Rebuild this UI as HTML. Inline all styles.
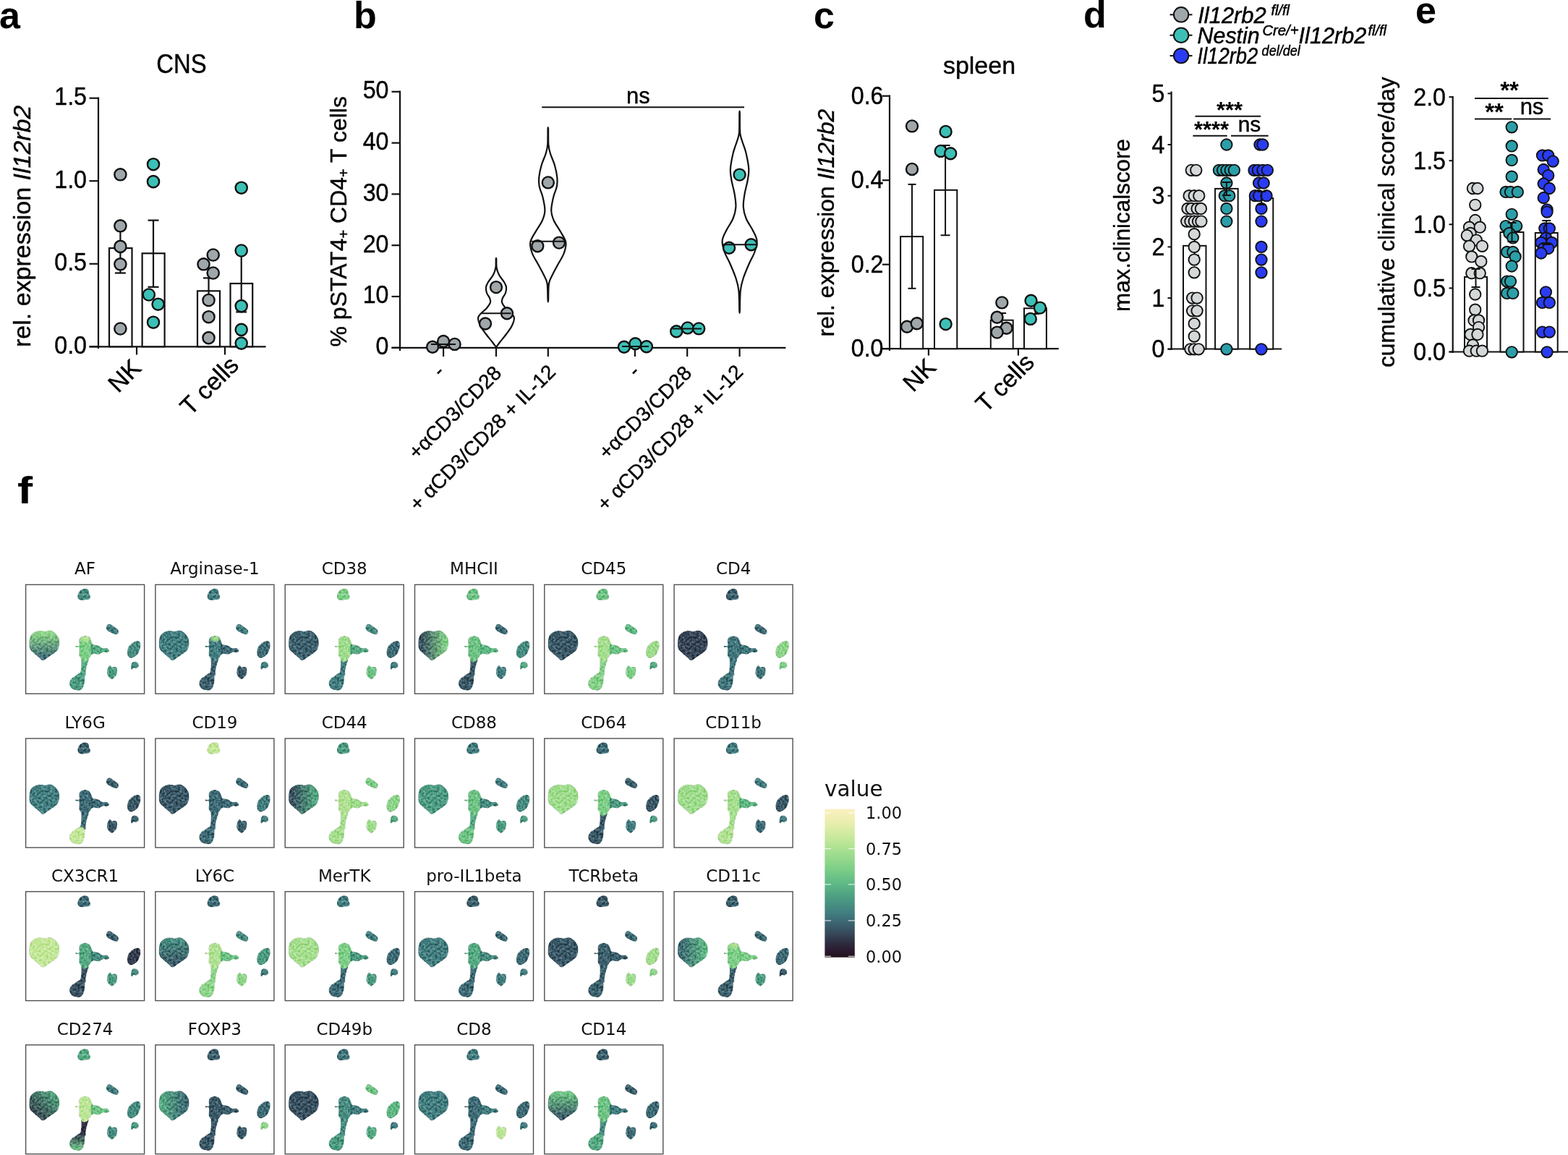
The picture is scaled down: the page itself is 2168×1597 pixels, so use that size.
<!DOCTYPE html>
<html><head><meta charset="utf-8"><title>Figure</title>
<style>html,body{margin:0;padding:0;background:#fff;overflow:hidden;width:2168px;height:1597px;} svg{display:block;}</style></head>
<body><svg width="2168" height="1597" viewBox="0 0 2168 1597"><defs><filter id="spk" x="0" y="0" width="100%" height="100%" color-interpolation-filters="sRGB"><feTurbulence type="fractalNoise" baseFrequency="0.32" numOctaves="2" seed="4" result="t"/><feColorMatrix in="t" type="matrix" values="1 0 0 0 0  1 0 0 0 0  1 0 0 0 0  0 0 0 0 1" result="g"/><feComponentTransfer in="g" result="g2"><feFuncR type="linear" slope="1.3" intercept="-0.15"/><feFuncG type="linear" slope="1.3" intercept="-0.15"/><feFuncB type="linear" slope="1.3" intercept="-0.15"/></feComponentTransfer><feBlend in="g2" in2="SourceGraphic" mode="soft-light" result="b"/><feComposite in="b" in2="SourceGraphic" operator="in"/></filter><linearGradient id="g0B" x1="0" y1="0" x2="0" y2="1"><stop offset="0.1" stop-color="#8fd68b"/><stop offset="0.9" stop-color="#3d6b76"/></linearGradient><radialGradient id="cap0"><stop offset="0.45" stop-color="#bde698" stop-opacity="1"/><stop offset="1" stop-color="#bde698" stop-opacity="0"/></radialGradient><radialGradient id="cap1"><stop offset="0.45" stop-color="#a7df90" stop-opacity="1"/><stop offset="1" stop-color="#a7df90" stop-opacity="0"/></radialGradient><linearGradient id="g3B" x1="0" y1="0" x2="1" y2="0"><stop offset="0.1" stop-color="#375060"/><stop offset="0.9" stop-color="#85d289"/></linearGradient><linearGradient id="g8B" x1="0" y1="0" x2="1" y2="0"><stop offset="0.1" stop-color="#375060"/><stop offset="0.9" stop-color="#56ab84"/></linearGradient><linearGradient id="g13B" x1="0" y1="0" x2="0" y2="1"><stop offset="0.1" stop-color="#478d82"/><stop offset="0.9" stop-color="#395867"/></linearGradient><linearGradient id="g17B" x1="0" y1="0" x2="1" y2="0"><stop offset="0.1" stop-color="#3d6b76"/><stop offset="0.9" stop-color="#5fba85"/></linearGradient><radialGradient id="cap17"><stop offset="0.45" stop-color="#b2e294" stop-opacity="1"/><stop offset="1" stop-color="#b2e294" stop-opacity="0"/></radialGradient><linearGradient id="g18B" x1="0" y1="1" x2="1" y2="0"><stop offset="0.1" stop-color="#313649"/><stop offset="0.9" stop-color="#56ab84"/></linearGradient><linearGradient id="g18Cl" x1="0" y1="0" x2="0" y2="1"><stop offset="0.1" stop-color="#354456"/><stop offset="0.9" stop-color="#6fc486"/></linearGradient><linearGradient id="g19B" x1="0" y1="0" x2="1" y2="0"><stop offset="0.1" stop-color="#56ab84"/><stop offset="0.9" stop-color="#3d6b76"/></linearGradient><linearGradient id="g22B" x1="0" y1="0" x2="0" y2="1"><stop offset="0.1" stop-color="#6fc486"/><stop offset="0.9" stop-color="#395867"/></linearGradient><linearGradient id="cbar" x1="0" y1="0" x2="0" y2="1"><stop offset="0.00" stop-color="#fcefc0"/><stop offset="0.10" stop-color="#e6eeac"/><stop offset="0.20" stop-color="#c4e89a"/><stop offset="0.30" stop-color="#a0dd8e"/><stop offset="0.40" stop-color="#7ecf88"/><stop offset="0.50" stop-color="#5fba85"/><stop offset="0.60" stop-color="#4c9c83"/><stop offset="0.70" stop-color="#427e80"/><stop offset="0.75" stop-color="#3d6b76"/><stop offset="0.80" stop-color="#395867"/><stop offset="0.85" stop-color="#354456"/><stop offset="0.90" stop-color="#2f2d41"/><stop offset="0.95" stop-color="#2a1c31"/><stop offset="1.00" stop-color="#22111d"/></linearGradient></defs>
<rect width="2168" height="1597" fill="#fff"/>
<text x="-1.0" y="39.0" font-size="52" text-anchor="start" font-family="Liberation Sans, sans-serif" font-weight="bold">a</text>
<text x="489.0" y="39.0" font-size="52" text-anchor="start" font-family="Liberation Sans, sans-serif" font-weight="bold">b</text>
<text x="1125.0" y="39.0" font-size="52" text-anchor="start" font-family="Liberation Sans, sans-serif" font-weight="bold">c</text>
<text x="1498.0" y="38.0" font-size="52" text-anchor="start" font-family="Liberation Sans, sans-serif" font-weight="bold">d</text>
<text x="1957.0" y="32.0" font-size="52" text-anchor="start" font-family="Liberation Sans, sans-serif" font-weight="bold">e</text>
<text transform="translate(24,695.5) scale(1.22,1)" font-size="52" font-family="Liberation Sans, sans-serif" font-weight="bold">f</text>
<g font-family="Liberation Sans, sans-serif">
<text transform="translate(251.0,100.6) scale(0.9,1)" font-size="36.5" text-anchor="middle" stroke="#000" stroke-width="0.4" >CNS</text>
<line x1="136.0" y1="134.5" x2="136.0" y2="482.0" stroke="#111" stroke-width="2.2"/>
<line x1="123.5" y1="135.7" x2="136.0" y2="135.7" stroke="#111" stroke-width="2.2"/>
<text transform="translate(120.0,145.1) scale(0.92,1)" font-size="35" text-anchor="end" stroke="#000" stroke-width="0.4" >1.5</text>
<line x1="123.5" y1="250.2" x2="136.0" y2="250.2" stroke="#111" stroke-width="2.2"/>
<text transform="translate(120.0,259.6) scale(0.92,1)" font-size="35" text-anchor="end" stroke="#000" stroke-width="0.4" >1.0</text>
<line x1="123.5" y1="364.8" x2="136.0" y2="364.8" stroke="#111" stroke-width="2.2"/>
<text transform="translate(120.0,374.1) scale(0.92,1)" font-size="35" text-anchor="end" stroke="#000" stroke-width="0.4" >0.5</text>
<line x1="123.5" y1="479.3" x2="136.0" y2="479.3" stroke="#111" stroke-width="2.2"/>
<text transform="translate(120.0,488.7) scale(0.92,1)" font-size="35" text-anchor="end" stroke="#000" stroke-width="0.4" >0.0</text>
<line x1="123.5" y1="479.3" x2="367.6" y2="479.3" stroke="#111" stroke-width="2.2"/>
<line x1="189.0" y1="479.3" x2="189.0" y2="490.5" stroke="#111" stroke-width="2.2"/>
<line x1="311.0" y1="479.3" x2="311.0" y2="490.5" stroke="#111" stroke-width="2.2"/>
<text transform="translate(41.5,480.0) rotate(-90)" font-size="34" text-anchor="start" stroke="#000" stroke-width="0.4" >rel. expression <tspan font-style="italic">Il12rb2</tspan></text>
<rect x="151" y="343.1" width="31.5" height="136.2" fill="#fff" stroke="#111" stroke-width="2.2"/>
<rect x="196.6" y="350.3" width="31.0" height="129.0" fill="#fff" stroke="#111" stroke-width="2.2"/>
<rect x="273" y="402.3" width="31" height="77.0" fill="#fff" stroke="#111" stroke-width="2.2"/>
<rect x="318.5" y="392" width="30.69999999999999" height="87.30000000000001" fill="#fff" stroke="#111" stroke-width="2.2"/>
<line x1="166.4" y1="308.7" x2="166.4" y2="377.5" stroke="#111" stroke-width="2.2"/>
<line x1="158.9" y1="308.7" x2="173.9" y2="308.7" stroke="#111" stroke-width="2.2"/>
<line x1="158.9" y1="377.5" x2="173.9" y2="377.5" stroke="#111" stroke-width="2.2"/>
<line x1="212.0" y1="304.6" x2="212.0" y2="396.8" stroke="#111" stroke-width="2.2"/>
<line x1="204.5" y1="304.6" x2="219.5" y2="304.6" stroke="#111" stroke-width="2.2"/>
<line x1="204.5" y1="396.8" x2="219.5" y2="396.8" stroke="#111" stroke-width="2.2"/>
<line x1="288.5" y1="384.4" x2="288.5" y2="420.0" stroke="#111" stroke-width="2.2"/>
<line x1="281.0" y1="384.4" x2="296.0" y2="384.4" stroke="#111" stroke-width="2.2"/>
<line x1="281.0" y1="420.0" x2="296.0" y2="420.0" stroke="#111" stroke-width="2.2"/>
<line x1="333.7" y1="346.5" x2="333.7" y2="431.4" stroke="#111" stroke-width="2.2"/>
<line x1="326.2" y1="346.5" x2="341.2" y2="346.5" stroke="#111" stroke-width="2.2"/>
<line x1="326.2" y1="431.4" x2="341.2" y2="431.4" stroke="#111" stroke-width="2.2"/>
<circle cx="166.4" cy="241.3" r="8.1" fill="#9fa7aa" stroke="#111" stroke-width="2.4"/>
<circle cx="166.4" cy="312.3" r="8.1" fill="#9fa7aa" stroke="#111" stroke-width="2.4"/>
<circle cx="166.4" cy="340.9" r="8.1" fill="#9fa7aa" stroke="#111" stroke-width="2.4"/>
<circle cx="166.4" cy="365.3" r="8.1" fill="#9fa7aa" stroke="#111" stroke-width="2.4"/>
<circle cx="166.4" cy="454.5" r="8.1" fill="#9fa7aa" stroke="#111" stroke-width="2.4"/>
<circle cx="212.0" cy="227.2" r="8.1" fill="#3cc0b6" stroke="#111" stroke-width="2.4"/>
<circle cx="212.0" cy="251.1" r="8.1" fill="#3cc0b6" stroke="#111" stroke-width="2.4"/>
<circle cx="205.8" cy="407.5" r="8.1" fill="#3cc0b6" stroke="#111" stroke-width="2.4"/>
<circle cx="218.6" cy="420.7" r="8.1" fill="#3cc0b6" stroke="#111" stroke-width="2.4"/>
<circle cx="212.0" cy="445.7" r="8.1" fill="#3cc0b6" stroke="#111" stroke-width="2.4"/>
<circle cx="294.7" cy="352.5" r="8.1" fill="#9fa7aa" stroke="#111" stroke-width="2.4"/>
<circle cx="281.5" cy="365.3" r="8.1" fill="#9fa7aa" stroke="#111" stroke-width="2.4"/>
<circle cx="294.7" cy="377.5" r="8.1" fill="#9fa7aa" stroke="#111" stroke-width="2.4"/>
<circle cx="288.5" cy="415.0" r="8.1" fill="#9fa7aa" stroke="#111" stroke-width="2.4"/>
<circle cx="288.5" cy="438.2" r="8.1" fill="#9fa7aa" stroke="#111" stroke-width="2.4"/>
<circle cx="288.5" cy="467.1" r="8.1" fill="#9fa7aa" stroke="#111" stroke-width="2.4"/>
<circle cx="333.7" cy="259.7" r="8.1" fill="#3cc0b6" stroke="#111" stroke-width="2.4"/>
<circle cx="333.7" cy="346.5" r="8.1" fill="#3cc0b6" stroke="#111" stroke-width="2.4"/>
<circle cx="333.7" cy="423.1" r="8.1" fill="#3cc0b6" stroke="#111" stroke-width="2.4"/>
<circle cx="333.7" cy="455.8" r="8.1" fill="#3cc0b6" stroke="#111" stroke-width="2.4"/>
<circle cx="333.7" cy="474.6" r="8.1" fill="#3cc0b6" stroke="#111" stroke-width="2.4"/>
<text transform="translate(197.0,511.0) rotate(-45)" font-size="34" text-anchor="end" stroke="#000" stroke-width="0.4" >NK</text>
<text transform="translate(332.0,507.0) rotate(-45)" font-size="34" text-anchor="end" stroke="#000" stroke-width="0.4" >T cells</text>
</g>
<g font-family="Liberation Sans, sans-serif">
<line x1="553.0" y1="125.5" x2="553.0" y2="485.0" stroke="#111" stroke-width="2.2"/>
<line x1="541.5" y1="126.8" x2="553.0" y2="126.8" stroke="#111" stroke-width="2.2"/>
<text transform="translate(537.5,136.2) scale(0.92,1)" font-size="35" text-anchor="end" stroke="#000" stroke-width="0.4" >50</text>
<line x1="541.5" y1="197.6" x2="553.0" y2="197.6" stroke="#111" stroke-width="2.2"/>
<text transform="translate(537.5,207.0) scale(0.92,1)" font-size="35" text-anchor="end" stroke="#000" stroke-width="0.4" >40</text>
<line x1="541.5" y1="268.4" x2="553.0" y2="268.4" stroke="#111" stroke-width="2.2"/>
<text transform="translate(537.5,277.8) scale(0.92,1)" font-size="35" text-anchor="end" stroke="#000" stroke-width="0.4" >30</text>
<line x1="541.5" y1="339.2" x2="553.0" y2="339.2" stroke="#111" stroke-width="2.2"/>
<text transform="translate(537.5,348.6) scale(0.92,1)" font-size="35" text-anchor="end" stroke="#000" stroke-width="0.4" >20</text>
<line x1="541.5" y1="410.0" x2="553.0" y2="410.0" stroke="#111" stroke-width="2.2"/>
<text transform="translate(537.5,419.4) scale(0.92,1)" font-size="35" text-anchor="end" stroke="#000" stroke-width="0.4" >10</text>
<line x1="541.5" y1="480.8" x2="553.0" y2="480.8" stroke="#111" stroke-width="2.2"/>
<text transform="translate(537.5,490.2) scale(0.92,1)" font-size="35" text-anchor="end" stroke="#000" stroke-width="0.4" >0</text>
<line x1="541.5" y1="480.8" x2="1086.4" y2="480.8" stroke="#111" stroke-width="2.2"/>
<line x1="613.1" y1="480.8" x2="613.1" y2="493.0" stroke="#111" stroke-width="2.2"/>
<line x1="686.0" y1="480.8" x2="686.0" y2="493.0" stroke="#111" stroke-width="2.2"/>
<line x1="757.8" y1="480.8" x2="757.8" y2="493.0" stroke="#111" stroke-width="2.2"/>
<line x1="877.9" y1="480.8" x2="877.9" y2="493.0" stroke="#111" stroke-width="2.2"/>
<line x1="950.2" y1="480.8" x2="950.2" y2="493.0" stroke="#111" stroke-width="2.2"/>
<line x1="1022.6" y1="480.8" x2="1022.6" y2="493.0" stroke="#111" stroke-width="2.2"/>
<text transform="translate(478.5,479.5) rotate(-90)" font-size="32" text-anchor="start" stroke="#000" stroke-width="0.4" >% pSTAT4<tspan font-size="20" dy="3">+</tspan><tspan dy="-3"> CD4</tspan><tspan font-size="20" dy="3">+</tspan><tspan dy="-3"> T cells</tspan></text>
<line x1="749.2" y1="148.3" x2="1029.0" y2="148.3" stroke="#111" stroke-width="2"/>
<text transform="translate(882.3,143.4)" font-size="31" text-anchor="middle" stroke="#000" stroke-width="0.4" >ns</text>
<path d="M686.3,358.3 C686.4,360.2 686.0,366.4 686.6,370.0 C687.2,373.6 688.3,376.7 690.0,380.0 C691.7,383.3 695.3,387.2 697.0,390.0 C698.7,392.8 699.7,394.5 700.0,397.0 C700.3,399.5 699.8,402.5 699.0,405.0 C698.2,407.5 695.8,409.8 695.0,412.0 C694.2,414.2 693.3,415.7 694.0,418.0 C694.7,420.3 696.2,422.7 699.0,426.0 C701.8,429.3 709.0,434.0 710.5,438.0 C712.0,442.0 709.8,446.0 708.0,450.0 C706.2,454.0 702.7,458.3 700.0,462.0 C697.3,465.7 694.3,469.1 692.0,472.0 C689.7,474.9 687.3,478.4 686.3,479.7 C685.2,481.0 686.8,481.0 685.7,479.7 C684.7,478.4 682.3,474.9 680.0,472.0 C677.7,469.1 674.7,465.7 672.0,462.0 C669.3,458.3 665.8,454.0 664.0,450.0 C662.2,446.0 660.0,442.0 661.5,438.0 C663.0,434.0 670.2,429.3 673.0,426.0 C675.8,422.7 677.3,420.3 678.0,418.0 C678.7,415.7 677.8,414.2 677.0,412.0 C676.2,409.8 673.8,407.5 673.0,405.0 C672.2,402.5 671.7,399.5 672.0,397.0 C672.3,394.5 673.3,392.8 675.0,390.0 C676.7,387.2 680.3,383.3 682.0,380.0 C683.7,376.7 684.8,373.6 685.4,370.0 C686.0,366.4 685.6,360.2 685.7,358.3 C685.9,356.4 686.1,356.4 686.3,358.3Z" fill="none" stroke="#111" stroke-width="2.2"/>
<path d="M758.1,178.8 C758.2,182.3 757.9,194.5 758.4,200.0 C758.9,205.5 759.4,207.3 760.8,212.0 C762.2,216.7 765.2,222.5 766.8,228.0 C768.4,233.5 769.8,240.0 770.3,245.0 C770.8,250.0 770.6,253.5 769.8,258.0 C769.0,262.5 766.6,266.5 765.3,272.0 C764.0,277.5 762.1,285.5 762.2,291.0 C762.3,296.5 763.7,300.2 765.8,305.0 C767.9,309.8 772.0,315.0 774.8,320.0 C777.5,325.0 781.5,330.0 782.3,335.0 C783.1,340.0 781.5,345.0 779.8,350.0 C778.0,355.0 774.5,360.0 771.8,365.0 C769.1,370.0 765.9,375.5 763.8,380.0 C761.7,384.5 760.0,386.2 759.0,392.0 C758.0,397.8 758.3,410.8 758.1,414.6 C757.8,418.4 757.8,418.4 757.5,414.6 C757.2,410.8 757.5,397.8 756.6,392.0 C755.6,386.2 753.9,384.5 751.8,380.0 C749.7,375.5 746.5,370.0 743.8,365.0 C741.1,360.0 737.5,355.0 735.8,350.0 C734.0,345.0 732.5,340.0 733.3,335.0 C734.1,330.0 738.0,325.0 740.8,320.0 C743.5,315.0 747.7,309.8 749.8,305.0 C751.9,300.2 753.3,296.5 753.4,291.0 C753.5,285.5 751.6,277.5 750.3,272.0 C749.0,266.5 746.6,262.5 745.8,258.0 C745.0,253.5 744.8,250.0 745.3,245.0 C745.8,240.0 747.2,233.5 748.8,228.0 C750.4,222.5 753.4,216.7 754.8,212.0 C756.2,207.3 756.7,205.5 757.2,200.0 C757.6,194.5 757.4,182.3 757.5,178.8 C757.6,175.3 757.9,175.3 758.1,178.8Z" fill="none" stroke="#111" stroke-width="2.2"/>
<path d="M1022.9,156.8 C1023.0,161.2 1022.7,176.6 1023.2,183.0 C1023.7,189.4 1024.7,190.2 1026.1,195.0 C1027.5,199.8 1030.1,205.5 1031.6,212.0 C1033.1,218.5 1035.0,227.7 1035.3,234.0 C1035.6,240.3 1034.5,244.3 1033.6,250.0 C1032.6,255.7 1030.6,262.0 1029.6,268.0 C1028.6,274.0 1027.5,280.3 1027.8,286.0 C1028.1,291.7 1029.5,296.7 1031.6,302.0 C1033.7,307.3 1038.1,312.9 1040.6,318.0 C1043.1,323.1 1046.0,327.5 1046.5,332.5 C1047.0,337.5 1045.4,342.6 1043.6,348.0 C1041.8,353.4 1038.3,358.8 1035.6,365.0 C1032.9,371.2 1029.6,378.8 1027.6,385.0 C1025.6,391.2 1024.6,394.6 1023.8,402.0 C1023.0,409.4 1023.1,424.8 1022.9,429.4 C1022.6,434.0 1022.6,434.0 1022.3,429.4 C1022.1,424.8 1022.2,409.4 1021.4,402.0 C1020.6,394.6 1019.6,391.2 1017.6,385.0 C1015.6,378.8 1012.3,371.2 1009.6,365.0 C1006.9,358.8 1003.4,353.4 1001.6,348.0 C999.8,342.6 998.2,337.5 998.7,332.5 C999.2,327.5 1002.1,323.1 1004.6,318.0 C1007.1,312.9 1011.5,307.3 1013.6,302.0 C1015.7,296.7 1017.1,291.7 1017.4,286.0 C1017.7,280.3 1016.6,274.0 1015.6,268.0 C1014.6,262.0 1012.6,255.7 1011.6,250.0 C1010.6,244.3 1009.6,240.3 1009.9,234.0 C1010.2,227.7 1012.1,218.5 1013.6,212.0 C1015.1,205.5 1017.7,199.8 1019.1,195.0 C1020.5,190.2 1021.5,189.4 1022.0,183.0 C1022.5,176.6 1022.2,161.2 1022.3,156.8 C1022.5,152.4 1022.8,152.4 1022.9,156.8Z" fill="none" stroke="#111" stroke-width="2.2"/>
<circle cx="598.1" cy="479.7" r="8.0" fill="#9fa7aa" stroke="#111" stroke-width="2.4"/>
<circle cx="613.1" cy="472.0" r="8.0" fill="#9fa7aa" stroke="#111" stroke-width="2.4"/>
<circle cx="628.6" cy="475.9" r="8.0" fill="#9fa7aa" stroke="#111" stroke-width="2.4"/>
<line x1="596.0" y1="475.9" x2="630.0" y2="475.9" stroke="#111" stroke-width="2"/>
<circle cx="686.0" cy="397.1" r="8.0" fill="#9fa7aa" stroke="#111" stroke-width="2.4"/>
<circle cx="701.0" cy="433.2" r="8.0" fill="#9fa7aa" stroke="#111" stroke-width="2.4"/>
<circle cx="671.0" cy="447.5" r="8.0" fill="#9fa7aa" stroke="#111" stroke-width="2.4"/>
<line x1="665.3" y1="433.2" x2="706.6" y2="433.2" stroke="#111" stroke-width="2"/>
<circle cx="757.8" cy="252.4" r="8.0" fill="#9fa7aa" stroke="#111" stroke-width="2.4"/>
<circle cx="743.3" cy="340.2" r="8.0" fill="#9fa7aa" stroke="#111" stroke-width="2.4"/>
<circle cx="773.0" cy="335.6" r="8.0" fill="#9fa7aa" stroke="#111" stroke-width="2.4"/>
<line x1="735.0" y1="333.8" x2="781.5" y2="333.8" stroke="#111" stroke-width="2"/>
<circle cx="862.9" cy="479.7" r="8.0" fill="#3cc0b6" stroke="#111" stroke-width="2.4"/>
<circle cx="878.4" cy="475.3" r="8.0" fill="#3cc0b6" stroke="#111" stroke-width="2.4"/>
<circle cx="893.9" cy="479.2" r="8.0" fill="#3cc0b6" stroke="#111" stroke-width="2.4"/>
<line x1="860.0" y1="479.0" x2="897.0" y2="479.0" stroke="#111" stroke-width="2"/>
<circle cx="935.2" cy="458.3" r="8.0" fill="#3cc0b6" stroke="#111" stroke-width="2.4"/>
<circle cx="950.7" cy="453.4" r="8.0" fill="#3cc0b6" stroke="#111" stroke-width="2.4"/>
<circle cx="966.2" cy="454.4" r="8.0" fill="#3cc0b6" stroke="#111" stroke-width="2.4"/>
<line x1="930.0" y1="454.4" x2="970.0" y2="454.4" stroke="#111" stroke-width="2"/>
<circle cx="1022.6" cy="241.6" r="8.0" fill="#3cc0b6" stroke="#111" stroke-width="2.4"/>
<circle cx="1008.1" cy="342.8" r="8.0" fill="#3cc0b6" stroke="#111" stroke-width="2.4"/>
<circle cx="1038.6" cy="338.2" r="8.0" fill="#3cc0b6" stroke="#111" stroke-width="2.4"/>
<line x1="999.8" y1="338.2" x2="1046.3" y2="338.2" stroke="#111" stroke-width="2"/>
<text transform="translate(616.0,516.0) rotate(-45)" font-size="28" text-anchor="end" stroke="#000" stroke-width="0.4" >-</text>
<text transform="translate(695.0,517.5) rotate(-45)" font-size="28" text-anchor="end" stroke="#000" stroke-width="0.4" >+αCD3/CD28</text>
<text transform="translate(769.7,516.0) rotate(-45)" font-size="28" text-anchor="end" stroke="#000" stroke-width="0.4" >+ αCD3/CD28 + IL-12</text>
<text transform="translate(886.0,516.0) rotate(-45)" font-size="28" text-anchor="end" stroke="#000" stroke-width="0.4" >-</text>
<text transform="translate(958.0,517.5) rotate(-45)" font-size="28" text-anchor="end" stroke="#000" stroke-width="0.4" >+αCD3/CD28</text>
<text transform="translate(1029.0,516.0) rotate(-45)" font-size="28" text-anchor="end" stroke="#000" stroke-width="0.4" >+ αCD3/CD28 + IL-12</text>
</g>
<g font-family="Liberation Sans, sans-serif">
<text transform="translate(1354.0,101.5)" font-size="34" text-anchor="middle" stroke="#000" stroke-width="0.4" >spleen</text>
<line x1="1230.0" y1="131.5" x2="1230.0" y2="485.0" stroke="#111" stroke-width="2.2"/>
<line x1="1220.0" y1="132.7" x2="1230.0" y2="132.7" stroke="#111" stroke-width="2.2"/>
<text transform="translate(1221.5,143.7) scale(0.92,1)" font-size="35" text-anchor="end" stroke="#000" stroke-width="0.4" >0.6</text>
<line x1="1220.0" y1="249.2" x2="1230.0" y2="249.2" stroke="#111" stroke-width="2.2"/>
<text transform="translate(1221.5,260.2) scale(0.92,1)" font-size="35" text-anchor="end" stroke="#000" stroke-width="0.4" >0.4</text>
<line x1="1220.0" y1="365.7" x2="1230.0" y2="365.7" stroke="#111" stroke-width="2.2"/>
<text transform="translate(1221.5,376.7) scale(0.92,1)" font-size="35" text-anchor="end" stroke="#000" stroke-width="0.4" >0.2</text>
<line x1="1220.0" y1="482.2" x2="1230.0" y2="482.2" stroke="#111" stroke-width="2.2"/>
<text transform="translate(1221.5,493.2) scale(0.92,1)" font-size="35" text-anchor="end" stroke="#000" stroke-width="0.4" >0.0</text>
<line x1="1220.0" y1="482.2" x2="1463.8" y2="482.2" stroke="#111" stroke-width="2.2"/>
<line x1="1283.9" y1="482.2" x2="1283.9" y2="491.6" stroke="#111" stroke-width="2.2"/>
<line x1="1407.9" y1="482.2" x2="1407.9" y2="491.6" stroke="#111" stroke-width="2.2"/>
<text transform="translate(1153.0,465.5) rotate(-90)" font-size="32" text-anchor="start" stroke="#000" stroke-width="0.4" >rel. expression <tspan font-style="italic">Il12rb2</tspan></text>
<rect x="1245.1" y="327.1" width="31.100000000000136" height="155.09999999999997" fill="#fff" stroke="#111" stroke-width="2"/>
<rect x="1292" y="262.8" width="31.299999999999955" height="219.39999999999998" fill="#fff" stroke="#111" stroke-width="2"/>
<rect x="1369.8" y="442.7" width="30.90000000000009" height="39.5" fill="#fff" stroke="#111" stroke-width="2"/>
<rect x="1416" y="426.3" width="30.90000000000009" height="55.89999999999998" fill="#fff" stroke="#111" stroke-width="2"/>
<line x1="1261.0" y1="254.9" x2="1261.0" y2="398.8" stroke="#111" stroke-width="2"/>
<line x1="1255.5" y1="254.9" x2="1266.5" y2="254.9" stroke="#111" stroke-width="2"/>
<line x1="1255.5" y1="398.8" x2="1266.5" y2="398.8" stroke="#111" stroke-width="2"/>
<line x1="1307.1" y1="201.0" x2="1307.1" y2="325.3" stroke="#111" stroke-width="2"/>
<line x1="1300.6" y1="201.0" x2="1313.6" y2="201.0" stroke="#111" stroke-width="2"/>
<line x1="1300.6" y1="325.3" x2="1313.6" y2="325.3" stroke="#111" stroke-width="2"/>
<line x1="1385.6" y1="433.0" x2="1385.6" y2="452.0" stroke="#111" stroke-width="2"/>
<line x1="1380.1" y1="433.0" x2="1391.1" y2="433.0" stroke="#111" stroke-width="2"/>
<line x1="1380.1" y1="452.0" x2="1391.1" y2="452.0" stroke="#111" stroke-width="2"/>
<line x1="1431.5" y1="418.0" x2="1431.5" y2="434.0" stroke="#111" stroke-width="2"/>
<line x1="1426.0" y1="418.0" x2="1437.0" y2="418.0" stroke="#111" stroke-width="2"/>
<line x1="1426.0" y1="434.0" x2="1437.0" y2="434.0" stroke="#111" stroke-width="2"/>
<circle cx="1261.0" cy="174.4" r="8.0" fill="#9fa7aa" stroke="#111" stroke-width="2.4"/>
<circle cx="1261.0" cy="233.9" r="8.0" fill="#9fa7aa" stroke="#111" stroke-width="2.4"/>
<circle cx="1254.1" cy="451.7" r="8.0" fill="#9fa7aa" stroke="#111" stroke-width="2.4"/>
<circle cx="1267.7" cy="447.2" r="8.0" fill="#9fa7aa" stroke="#111" stroke-width="2.4"/>
<circle cx="1307.6" cy="181.9" r="8.0" fill="#3cc0b6" stroke="#111" stroke-width="2.4"/>
<circle cx="1300.7" cy="208.9" r="8.0" fill="#3cc0b6" stroke="#111" stroke-width="2.4"/>
<circle cx="1314.2" cy="212.3" r="8.0" fill="#3cc0b6" stroke="#111" stroke-width="2.4"/>
<circle cx="1307.6" cy="448.1" r="8.0" fill="#3cc0b6" stroke="#111" stroke-width="2.4"/>
<circle cx="1385.3" cy="418.4" r="8.0" fill="#9fa7aa" stroke="#111" stroke-width="2.4"/>
<circle cx="1378.6" cy="438.7" r="8.0" fill="#9fa7aa" stroke="#111" stroke-width="2.4"/>
<circle cx="1391.6" cy="453.8" r="8.0" fill="#9fa7aa" stroke="#111" stroke-width="2.4"/>
<circle cx="1378.6" cy="459.6" r="8.0" fill="#9fa7aa" stroke="#111" stroke-width="2.4"/>
<circle cx="1425.5" cy="415.7" r="8.0" fill="#3cc0b6" stroke="#111" stroke-width="2.4"/>
<circle cx="1437.9" cy="425.6" r="8.0" fill="#3cc0b6" stroke="#111" stroke-width="2.4"/>
<circle cx="1424.8" cy="440.9" r="8.0" fill="#3cc0b6" stroke="#111" stroke-width="2.4"/>
<text transform="translate(1296.0,510.0) rotate(-45)" font-size="34" text-anchor="end" stroke="#000" stroke-width="0.4" >NK</text>
<text transform="translate(1432.0,503.0) rotate(-45)" font-size="34" text-anchor="end" stroke="#000" stroke-width="0.4" >T cells</text>
</g>
<g font-family="Liberation Sans, sans-serif">
<line x1="1617.5" y1="20.3" x2="1648.5" y2="20.3" stroke="#111" stroke-width="2"/>
<circle cx="1633.1" cy="20.3" r="10.2" fill="#9fa7aa" stroke="#111" stroke-width="2"/>
<line x1="1617.5" y1="48.7" x2="1648.5" y2="48.7" stroke="#111" stroke-width="2"/>
<circle cx="1633.1" cy="48.7" r="10.2" fill="#3cc0b6" stroke="#111" stroke-width="2"/>
<line x1="1617.5" y1="77.1" x2="1648.5" y2="77.1" stroke="#111" stroke-width="2"/>
<circle cx="1633.1" cy="77.1" r="10.2" fill="#2a3cf2" stroke="#111" stroke-width="2"/>
<text x="1656.3" y="32.0" font-size="32" font-style="italic" textLength="94.4" lengthAdjust="spacingAndGlyphs" stroke="#000" stroke-width="0.5">Il12rb2</text>
<text x="1757.5" y="20.5" font-size="20.5" font-style="italic" textLength="25.5" lengthAdjust="spacingAndGlyphs" stroke="#000" stroke-width="0.5">fl/fl</text>
<text x="1655.6" y="60.1" font-size="32" font-style="italic" textLength="86.0" lengthAdjust="spacingAndGlyphs" stroke="#000" stroke-width="0.5">Nestin</text>
<text x="1745.4" y="48.6" font-size="20.5" font-style="italic" textLength="50.2" lengthAdjust="spacingAndGlyphs" stroke="#000" stroke-width="0.5">Cre/+</text>
<text x="1795.6" y="60.1" font-size="32" font-style="italic" textLength="93.6" lengthAdjust="spacingAndGlyphs" stroke="#000" stroke-width="0.5">Il12rb2</text>
<text x="1891.5" y="48.6" font-size="20.5" font-style="italic" textLength="25.5" lengthAdjust="spacingAndGlyphs" stroke="#000" stroke-width="0.5">fl/fl</text>
<text x="1655.6" y="87.5" font-size="32" font-style="italic" textLength="83.7" lengthAdjust="spacingAndGlyphs" stroke="#000" stroke-width="0.5">Il12rb2</text>
<text x="1744.6" y="76.5" font-size="20.5" font-style="italic" textLength="53.3" lengthAdjust="spacingAndGlyphs" stroke="#000" stroke-width="0.5">del/del</text>
</g>
<g font-family="Liberation Sans, sans-serif">
<line x1="1619.6" y1="126.5" x2="1619.6" y2="484.0" stroke="#111" stroke-width="2.2"/>
<line x1="1614.5" y1="482.8" x2="1619.6" y2="482.8" stroke="#111" stroke-width="2"/>
<text transform="translate(1610.5,494.3) scale(0.92,1)" font-size="35" text-anchor="end" stroke="#000" stroke-width="0.4" >0</text>
<line x1="1614.5" y1="412.1" x2="1619.6" y2="412.1" stroke="#111" stroke-width="2"/>
<text transform="translate(1610.5,423.6) scale(0.92,1)" font-size="35" text-anchor="end" stroke="#000" stroke-width="0.4" >1</text>
<line x1="1614.5" y1="341.4" x2="1619.6" y2="341.4" stroke="#111" stroke-width="2"/>
<text transform="translate(1610.5,352.9) scale(0.92,1)" font-size="35" text-anchor="end" stroke="#000" stroke-width="0.4" >2</text>
<line x1="1614.5" y1="270.7" x2="1619.6" y2="270.7" stroke="#111" stroke-width="2"/>
<text transform="translate(1610.5,282.2) scale(0.92,1)" font-size="35" text-anchor="end" stroke="#000" stroke-width="0.4" >3</text>
<line x1="1614.5" y1="200.0" x2="1619.6" y2="200.0" stroke="#111" stroke-width="2"/>
<text transform="translate(1610.5,211.5) scale(0.92,1)" font-size="35" text-anchor="end" stroke="#000" stroke-width="0.4" >4</text>
<line x1="1614.5" y1="129.3" x2="1619.6" y2="129.3" stroke="#111" stroke-width="2"/>
<text transform="translate(1610.5,140.8) scale(0.92,1)" font-size="35" text-anchor="end" stroke="#000" stroke-width="0.4" >5</text>
<line x1="1614.5" y1="482.6" x2="1772.2" y2="482.6" stroke="#111" stroke-width="2"/>
<text transform="translate(1561.8,431.0) rotate(-90)" font-size="31.4" text-anchor="start" stroke="#000" stroke-width="0.4" >max.clinicalscore</text>
<rect x="1636" y="339.8" width="31.5" height="142.8" fill="#fff" stroke="#111" stroke-width="2"/>
<rect x="1680.1" y="260.9" width="31.600000000000136" height="221.70000000000005" fill="#fff" stroke="#111" stroke-width="2"/>
<rect x="1728.2" y="274.1" width="32.09999999999991" height="208.5" fill="#fff" stroke="#111" stroke-width="2"/>
<line x1="1651.8" y1="327.0" x2="1651.8" y2="353.0" stroke="#111" stroke-width="2"/>
<line x1="1645.8" y1="327.0" x2="1657.8" y2="327.0" stroke="#111" stroke-width="2"/>
<line x1="1645.8" y1="353.0" x2="1657.8" y2="353.0" stroke="#111" stroke-width="2"/>
<circle cx="1647.3" cy="235.3" r="7.7" fill="#d4d8d9" stroke="#111" stroke-width="1.9"/>
<circle cx="1653.8" cy="235.3" r="7.7" fill="#d4d8d9" stroke="#111" stroke-width="1.9"/>
<circle cx="1644.1" cy="270.7" r="7.7" fill="#d4d8d9" stroke="#111" stroke-width="1.9"/>
<circle cx="1651.2" cy="270.7" r="7.7" fill="#d4d8d9" stroke="#111" stroke-width="1.9"/>
<circle cx="1657.8" cy="270.7" r="7.7" fill="#d4d8d9" stroke="#111" stroke-width="1.9"/>
<circle cx="1642.0" cy="288.4" r="7.7" fill="#d4d8d9" stroke="#111" stroke-width="1.9"/>
<circle cx="1647.3" cy="288.4" r="7.7" fill="#d4d8d9" stroke="#111" stroke-width="1.9"/>
<circle cx="1655.1" cy="288.4" r="7.7" fill="#d4d8d9" stroke="#111" stroke-width="1.9"/>
<circle cx="1660.4" cy="288.4" r="7.7" fill="#d4d8d9" stroke="#111" stroke-width="1.9"/>
<circle cx="1640.7" cy="306.1" r="7.7" fill="#d4d8d9" stroke="#111" stroke-width="1.9"/>
<circle cx="1645.9" cy="306.1" r="7.7" fill="#d4d8d9" stroke="#111" stroke-width="1.9"/>
<circle cx="1651.2" cy="306.1" r="7.7" fill="#d4d8d9" stroke="#111" stroke-width="1.9"/>
<circle cx="1656.5" cy="306.1" r="7.7" fill="#d4d8d9" stroke="#111" stroke-width="1.9"/>
<circle cx="1660.9" cy="306.1" r="7.7" fill="#d4d8d9" stroke="#111" stroke-width="1.9"/>
<circle cx="1651.2" cy="323.7" r="7.7" fill="#d4d8d9" stroke="#111" stroke-width="1.9"/>
<circle cx="1651.2" cy="341.4" r="7.7" fill="#d4d8d9" stroke="#111" stroke-width="1.9"/>
<circle cx="1651.2" cy="359.1" r="7.7" fill="#d4d8d9" stroke="#111" stroke-width="1.9"/>
<circle cx="1651.2" cy="376.8" r="7.7" fill="#d4d8d9" stroke="#111" stroke-width="1.9"/>
<circle cx="1648.6" cy="412.1" r="7.7" fill="#d4d8d9" stroke="#111" stroke-width="1.9"/>
<circle cx="1655.1" cy="412.1" r="7.7" fill="#d4d8d9" stroke="#111" stroke-width="1.9"/>
<circle cx="1648.6" cy="429.8" r="7.7" fill="#d4d8d9" stroke="#111" stroke-width="1.9"/>
<circle cx="1655.1" cy="429.8" r="7.7" fill="#d4d8d9" stroke="#111" stroke-width="1.9"/>
<circle cx="1651.2" cy="447.4" r="7.7" fill="#d4d8d9" stroke="#111" stroke-width="1.9"/>
<circle cx="1651.2" cy="465.1" r="7.7" fill="#d4d8d9" stroke="#111" stroke-width="1.9"/>
<circle cx="1645.9" cy="482.8" r="7.7" fill="#d4d8d9" stroke="#111" stroke-width="1.9"/>
<circle cx="1651.2" cy="482.8" r="7.7" fill="#d4d8d9" stroke="#111" stroke-width="1.9"/>
<circle cx="1657.2" cy="482.8" r="7.7" fill="#d4d8d9" stroke="#111" stroke-width="1.9"/>
<circle cx="1695.9" cy="200.0" r="7.7" fill="#2b9fa8" stroke="#111" stroke-width="1.9"/>
<circle cx="1685.4" cy="235.3" r="7.7" fill="#2b9fa8" stroke="#111" stroke-width="1.9"/>
<circle cx="1690.6" cy="235.3" r="7.7" fill="#2b9fa8" stroke="#111" stroke-width="1.9"/>
<circle cx="1695.9" cy="235.3" r="7.7" fill="#2b9fa8" stroke="#111" stroke-width="1.9"/>
<circle cx="1701.2" cy="235.3" r="7.7" fill="#2b9fa8" stroke="#111" stroke-width="1.9"/>
<circle cx="1706.4" cy="235.3" r="7.7" fill="#2b9fa8" stroke="#111" stroke-width="1.9"/>
<circle cx="1695.9" cy="253.0" r="7.7" fill="#2b9fa8" stroke="#111" stroke-width="1.9"/>
<circle cx="1693.3" cy="270.7" r="7.7" fill="#2b9fa8" stroke="#111" stroke-width="1.9"/>
<circle cx="1699.8" cy="270.7" r="7.7" fill="#2b9fa8" stroke="#111" stroke-width="1.9"/>
<circle cx="1695.9" cy="288.4" r="7.7" fill="#2b9fa8" stroke="#111" stroke-width="1.9"/>
<circle cx="1695.9" cy="306.1" r="7.7" fill="#2b9fa8" stroke="#111" stroke-width="1.9"/>
<circle cx="1695.9" cy="482.8" r="7.7" fill="#2b9fa8" stroke="#111" stroke-width="1.9"/>
<circle cx="1741.9" cy="200.0" r="7.7" fill="#2a3cf2" stroke="#111" stroke-width="1.9"/>
<circle cx="1745.9" cy="200.0" r="7.7" fill="#2a3cf2" stroke="#111" stroke-width="1.9"/>
<circle cx="1734.0" cy="235.3" r="7.7" fill="#2a3cf2" stroke="#111" stroke-width="1.9"/>
<circle cx="1739.3" cy="235.3" r="7.7" fill="#2a3cf2" stroke="#111" stroke-width="1.9"/>
<circle cx="1745.9" cy="235.3" r="7.7" fill="#2a3cf2" stroke="#111" stroke-width="1.9"/>
<circle cx="1752.4" cy="235.3" r="7.7" fill="#2a3cf2" stroke="#111" stroke-width="1.9"/>
<circle cx="1740.6" cy="253.0" r="7.7" fill="#2a3cf2" stroke="#111" stroke-width="1.9"/>
<circle cx="1747.2" cy="253.0" r="7.7" fill="#2a3cf2" stroke="#111" stroke-width="1.9"/>
<circle cx="1735.3" cy="270.7" r="7.7" fill="#2a3cf2" stroke="#111" stroke-width="1.9"/>
<circle cx="1740.6" cy="270.7" r="7.7" fill="#2a3cf2" stroke="#111" stroke-width="1.9"/>
<circle cx="1751.1" cy="270.7" r="7.7" fill="#2a3cf2" stroke="#111" stroke-width="1.9"/>
<circle cx="1744.0" cy="288.4" r="7.7" fill="#2a3cf2" stroke="#111" stroke-width="1.9"/>
<circle cx="1744.0" cy="306.1" r="7.7" fill="#2a3cf2" stroke="#111" stroke-width="1.9"/>
<circle cx="1744.0" cy="341.4" r="7.7" fill="#2a3cf2" stroke="#111" stroke-width="1.9"/>
<circle cx="1744.0" cy="359.1" r="7.7" fill="#2a3cf2" stroke="#111" stroke-width="1.9"/>
<circle cx="1744.0" cy="376.8" r="7.7" fill="#2a3cf2" stroke="#111" stroke-width="1.9"/>
<circle cx="1744.0" cy="482.8" r="7.7" fill="#2a3cf2" stroke="#111" stroke-width="1.9"/>
<line x1="1695.9" y1="252.0" x2="1695.9" y2="270.0" stroke="#111" stroke-width="2"/>
<line x1="1689.9" y1="252.0" x2="1701.9" y2="252.0" stroke="#111" stroke-width="2"/>
<line x1="1689.9" y1="270.0" x2="1701.9" y2="270.0" stroke="#111" stroke-width="2"/>
<line x1="1744.3" y1="265.0" x2="1744.3" y2="283.0" stroke="#111" stroke-width="2"/>
<line x1="1738.3" y1="265.0" x2="1750.3" y2="265.0" stroke="#111" stroke-width="2"/>
<line x1="1738.3" y1="283.0" x2="1750.3" y2="283.0" stroke="#111" stroke-width="2"/>
<text transform="translate(1700.0,163.0)" font-size="31" text-anchor="middle" font-weight="bold">***</text>
<line x1="1652.5" y1="160.8" x2="1743.2" y2="160.8" stroke="#111" stroke-width="2"/>
<text transform="translate(1675.0,190.0)" font-size="31" text-anchor="middle" font-weight="bold">****</text>
<text transform="translate(1727.5,181.7)" font-size="30" text-anchor="middle" stroke="#000" stroke-width="0.4" >ns</text>
<line x1="1649.4" y1="187.7" x2="1696.7" y2="187.7" stroke="#111" stroke-width="2"/>
<line x1="1702.0" y1="187.7" x2="1753.7" y2="187.7" stroke="#111" stroke-width="2"/>
</g>
<g font-family="Liberation Sans, sans-serif">
<line x1="2008.7" y1="133.0" x2="2008.7" y2="488.0" stroke="#111" stroke-width="2.2"/>
<line x1="2003.5" y1="134.1" x2="2008.7" y2="134.1" stroke="#111" stroke-width="2"/>
<text transform="translate(1999.0,145.8) scale(0.92,1)" font-size="35" text-anchor="end" stroke="#000" stroke-width="0.4" >2.0</text>
<line x1="2003.5" y1="222.2" x2="2008.7" y2="222.2" stroke="#111" stroke-width="2"/>
<text transform="translate(1999.0,233.9) scale(0.92,1)" font-size="35" text-anchor="end" stroke="#000" stroke-width="0.4" >1.5</text>
<line x1="2003.5" y1="310.3" x2="2008.7" y2="310.3" stroke="#111" stroke-width="2"/>
<text transform="translate(1999.0,322.0) scale(0.92,1)" font-size="35" text-anchor="end" stroke="#000" stroke-width="0.4" >1.0</text>
<line x1="2003.5" y1="398.4" x2="2008.7" y2="398.4" stroke="#111" stroke-width="2"/>
<text transform="translate(1999.0,410.1) scale(0.92,1)" font-size="35" text-anchor="end" stroke="#000" stroke-width="0.4" >0.5</text>
<line x1="2003.5" y1="486.5" x2="2008.7" y2="486.5" stroke="#111" stroke-width="2"/>
<text transform="translate(1999.0,498.2) scale(0.92,1)" font-size="35" text-anchor="end" stroke="#000" stroke-width="0.4" >0.0</text>
<line x1="2003.5" y1="486.5" x2="2168.0" y2="486.5" stroke="#111" stroke-width="2"/>
<text transform="translate(1927.5,508.0) rotate(-90)" font-size="31.7" text-anchor="start" stroke="#000" stroke-width="0.4" >cumulative clinical score/day</text>
<rect x="2025" y="382.9" width="31" height="103.60000000000002" fill="#fff" stroke="#111" stroke-width="2"/>
<rect x="2074.5" y="321" width="32.0" height="165.5" fill="#fff" stroke="#111" stroke-width="2"/>
<rect x="2122.8" y="322" width="30.899999999999636" height="164.5" fill="#fff" stroke="#111" stroke-width="2"/>
<circle cx="2036.4" cy="260.5" r="7.7" fill="#d4d8d9" stroke="#111" stroke-width="1.9"/>
<circle cx="2042.9" cy="260.5" r="7.7" fill="#d4d8d9" stroke="#111" stroke-width="1.9"/>
<circle cx="2039.7" cy="283.3" r="7.7" fill="#d4d8d9" stroke="#111" stroke-width="1.9"/>
<circle cx="2039.7" cy="304.5" r="7.7" fill="#d4d8d9" stroke="#111" stroke-width="1.9"/>
<circle cx="2031.5" cy="314.2" r="7.7" fill="#d4d8d9" stroke="#111" stroke-width="1.9"/>
<circle cx="2046.2" cy="314.2" r="7.7" fill="#d4d8d9" stroke="#111" stroke-width="1.9"/>
<circle cx="2033.1" cy="322.4" r="7.7" fill="#d4d8d9" stroke="#111" stroke-width="1.9"/>
<circle cx="2028.3" cy="325.6" r="7.7" fill="#d4d8d9" stroke="#111" stroke-width="1.9"/>
<circle cx="2041.3" cy="332.1" r="7.7" fill="#d4d8d9" stroke="#111" stroke-width="1.9"/>
<circle cx="2031.5" cy="340.3" r="7.7" fill="#d4d8d9" stroke="#111" stroke-width="1.9"/>
<circle cx="2049.4" cy="340.3" r="7.7" fill="#d4d8d9" stroke="#111" stroke-width="1.9"/>
<circle cx="2034.8" cy="354.9" r="7.7" fill="#d4d8d9" stroke="#111" stroke-width="1.9"/>
<circle cx="2047.8" cy="361.4" r="7.7" fill="#d4d8d9" stroke="#111" stroke-width="1.9"/>
<circle cx="2034.8" cy="377.7" r="7.7" fill="#d4d8d9" stroke="#111" stroke-width="1.9"/>
<circle cx="2046.2" cy="377.7" r="7.7" fill="#d4d8d9" stroke="#111" stroke-width="1.9"/>
<circle cx="2039.7" cy="407.0" r="7.7" fill="#d4d8d9" stroke="#111" stroke-width="1.9"/>
<circle cx="2039.7" cy="428.2" r="7.7" fill="#d4d8d9" stroke="#111" stroke-width="1.9"/>
<circle cx="2038.0" cy="442.9" r="7.7" fill="#d4d8d9" stroke="#111" stroke-width="1.9"/>
<circle cx="2044.5" cy="442.9" r="7.7" fill="#d4d8d9" stroke="#111" stroke-width="1.9"/>
<circle cx="2044.5" cy="452.6" r="7.7" fill="#d4d8d9" stroke="#111" stroke-width="1.9"/>
<circle cx="2033.1" cy="462.4" r="7.7" fill="#d4d8d9" stroke="#111" stroke-width="1.9"/>
<circle cx="2042.9" cy="462.4" r="7.7" fill="#d4d8d9" stroke="#111" stroke-width="1.9"/>
<circle cx="2036.4" cy="477.0" r="7.7" fill="#d4d8d9" stroke="#111" stroke-width="1.9"/>
<circle cx="2031.5" cy="485.2" r="7.7" fill="#d4d8d9" stroke="#111" stroke-width="1.9"/>
<circle cx="2041.3" cy="485.2" r="7.7" fill="#d4d8d9" stroke="#111" stroke-width="1.9"/>
<circle cx="2049.4" cy="485.2" r="7.7" fill="#d4d8d9" stroke="#111" stroke-width="1.9"/>
<circle cx="2090.2" cy="175.8" r="7.7" fill="#2b9fa8" stroke="#111" stroke-width="1.9"/>
<circle cx="2090.2" cy="201.9" r="7.7" fill="#2b9fa8" stroke="#111" stroke-width="1.9"/>
<circle cx="2090.2" cy="221.4" r="7.7" fill="#2b9fa8" stroke="#111" stroke-width="1.9"/>
<circle cx="2090.2" cy="244.2" r="7.7" fill="#2b9fa8" stroke="#111" stroke-width="1.9"/>
<circle cx="2082.0" cy="265.4" r="7.7" fill="#2b9fa8" stroke="#111" stroke-width="1.9"/>
<circle cx="2088.5" cy="265.4" r="7.7" fill="#2b9fa8" stroke="#111" stroke-width="1.9"/>
<circle cx="2098.3" cy="265.4" r="7.7" fill="#2b9fa8" stroke="#111" stroke-width="1.9"/>
<circle cx="2090.2" cy="296.3" r="7.7" fill="#2b9fa8" stroke="#111" stroke-width="1.9"/>
<circle cx="2082.0" cy="312.6" r="7.7" fill="#2b9fa8" stroke="#111" stroke-width="1.9"/>
<circle cx="2096.7" cy="312.6" r="7.7" fill="#2b9fa8" stroke="#111" stroke-width="1.9"/>
<circle cx="2086.9" cy="322.4" r="7.7" fill="#2b9fa8" stroke="#111" stroke-width="1.9"/>
<circle cx="2091.8" cy="328.9" r="7.7" fill="#2b9fa8" stroke="#111" stroke-width="1.9"/>
<circle cx="2083.6" cy="348.4" r="7.7" fill="#2b9fa8" stroke="#111" stroke-width="1.9"/>
<circle cx="2091.8" cy="348.4" r="7.7" fill="#2b9fa8" stroke="#111" stroke-width="1.9"/>
<circle cx="2095.1" cy="354.9" r="7.7" fill="#2b9fa8" stroke="#111" stroke-width="1.9"/>
<circle cx="2090.2" cy="368.0" r="7.7" fill="#2b9fa8" stroke="#111" stroke-width="1.9"/>
<circle cx="2083.6" cy="389.1" r="7.7" fill="#2b9fa8" stroke="#111" stroke-width="1.9"/>
<circle cx="2088.5" cy="389.1" r="7.7" fill="#2b9fa8" stroke="#111" stroke-width="1.9"/>
<circle cx="2083.6" cy="405.4" r="7.7" fill="#2b9fa8" stroke="#111" stroke-width="1.9"/>
<circle cx="2091.8" cy="405.4" r="7.7" fill="#2b9fa8" stroke="#111" stroke-width="1.9"/>
<circle cx="2090.2" cy="486.8" r="7.7" fill="#2b9fa8" stroke="#111" stroke-width="1.9"/>
<circle cx="2132.5" cy="214.9" r="7.7" fill="#2a3cf2" stroke="#111" stroke-width="1.9"/>
<circle cx="2140.7" cy="214.9" r="7.7" fill="#2a3cf2" stroke="#111" stroke-width="1.9"/>
<circle cx="2147.2" cy="223.1" r="7.7" fill="#2a3cf2" stroke="#111" stroke-width="1.9"/>
<circle cx="2134.2" cy="234.5" r="7.7" fill="#2a3cf2" stroke="#111" stroke-width="1.9"/>
<circle cx="2140.7" cy="242.6" r="7.7" fill="#2a3cf2" stroke="#111" stroke-width="1.9"/>
<circle cx="2134.2" cy="254.0" r="7.7" fill="#2a3cf2" stroke="#111" stroke-width="1.9"/>
<circle cx="2142.3" cy="260.5" r="7.7" fill="#2a3cf2" stroke="#111" stroke-width="1.9"/>
<circle cx="2134.2" cy="273.5" r="7.7" fill="#2a3cf2" stroke="#111" stroke-width="1.9"/>
<circle cx="2139.0" cy="289.8" r="7.7" fill="#2a3cf2" stroke="#111" stroke-width="1.9"/>
<circle cx="2139.0" cy="293.1" r="7.7" fill="#2a3cf2" stroke="#111" stroke-width="1.9"/>
<circle cx="2135.8" cy="315.9" r="7.7" fill="#2a3cf2" stroke="#111" stroke-width="1.9"/>
<circle cx="2142.3" cy="315.9" r="7.7" fill="#2a3cf2" stroke="#111" stroke-width="1.9"/>
<circle cx="2137.4" cy="328.9" r="7.7" fill="#2a3cf2" stroke="#111" stroke-width="1.9"/>
<circle cx="2130.9" cy="335.4" r="7.7" fill="#2a3cf2" stroke="#111" stroke-width="1.9"/>
<circle cx="2145.6" cy="335.4" r="7.7" fill="#2a3cf2" stroke="#111" stroke-width="1.9"/>
<circle cx="2134.2" cy="343.5" r="7.7" fill="#2a3cf2" stroke="#111" stroke-width="1.9"/>
<circle cx="2140.7" cy="343.5" r="7.7" fill="#2a3cf2" stroke="#111" stroke-width="1.9"/>
<circle cx="2130.9" cy="350.0" r="7.7" fill="#2a3cf2" stroke="#111" stroke-width="1.9"/>
<circle cx="2137.4" cy="403.8" r="7.7" fill="#2a3cf2" stroke="#111" stroke-width="1.9"/>
<circle cx="2132.5" cy="418.4" r="7.7" fill="#2a3cf2" stroke="#111" stroke-width="1.9"/>
<circle cx="2142.3" cy="418.4" r="7.7" fill="#2a3cf2" stroke="#111" stroke-width="1.9"/>
<circle cx="2132.5" cy="459.1" r="7.7" fill="#2a3cf2" stroke="#111" stroke-width="1.9"/>
<circle cx="2142.3" cy="459.1" r="7.7" fill="#2a3cf2" stroke="#111" stroke-width="1.9"/>
<circle cx="2139.0" cy="486.8" r="7.7" fill="#2a3cf2" stroke="#111" stroke-width="1.9"/>
<line x1="2040.5" y1="372.0" x2="2040.5" y2="397.0" stroke="#111" stroke-width="2"/>
<line x1="2034.5" y1="372.0" x2="2046.5" y2="372.0" stroke="#111" stroke-width="2"/>
<line x1="2034.5" y1="397.0" x2="2046.5" y2="397.0" stroke="#111" stroke-width="2"/>
<line x1="2090.5" y1="308.0" x2="2090.5" y2="334.0" stroke="#111" stroke-width="2"/>
<line x1="2084.5" y1="308.0" x2="2096.5" y2="308.0" stroke="#111" stroke-width="2"/>
<line x1="2084.5" y1="334.0" x2="2096.5" y2="334.0" stroke="#111" stroke-width="2"/>
<line x1="2138.2" y1="305.0" x2="2138.2" y2="338.0" stroke="#111" stroke-width="2"/>
<line x1="2132.2" y1="305.0" x2="2144.2" y2="305.0" stroke="#111" stroke-width="2"/>
<line x1="2132.2" y1="338.0" x2="2144.2" y2="338.0" stroke="#111" stroke-width="2"/>
<text transform="translate(2087.0,136.0)" font-size="33" text-anchor="middle" font-weight="bold">**</text>
<line x1="2039.0" y1="136.1" x2="2140.7" y2="136.1" stroke="#111" stroke-width="2"/>
<text transform="translate(2066.0,166.0)" font-size="33" text-anchor="middle" font-weight="bold">**</text>
<text transform="translate(2118.0,158.0)" font-size="31" text-anchor="middle" stroke="#000" stroke-width="0.4" >ns</text>
<line x1="2039.0" y1="164.5" x2="2090.2" y2="164.5" stroke="#111" stroke-width="2"/>
<line x1="2092.5" y1="164.5" x2="2144.0" y2="164.5" stroke="#111" stroke-width="2"/>
</g>
<g font-family="DejaVu Sans, sans-serif">
<text x="117.6" y="794.1" font-size="23" text-anchor="middle" fill="#111">AF</text>
<g transform="translate(35.6,808.4)">
<g filter="url(#spk)">
<path d="M71.8,16.5 C71.8,15.1 72.1,13.0 72.8,11.5 C73.6,10.0 75.0,8.5 76.4,7.5 C77.7,6.5 79.4,5.7 80.9,5.5 C82.4,5.3 84.3,5.8 85.4,6.5 C86.5,7.2 87.0,8.4 87.4,9.5 C87.8,10.6 87.5,11.9 87.9,13.0 C88.2,14.2 89.4,15.4 89.4,16.5 C89.4,17.7 89.0,19.3 87.9,20.0 C86.7,20.8 84.1,20.8 82.4,21.0 C80.6,21.3 78.9,21.7 77.4,21.5 C75.9,21.4 74.3,20.9 73.3,20.0 C72.4,19.2 71.9,18.0 71.8,16.5Z" fill="#478d82"/>
<path d="M5.0,80.0 C5.1,77.4 5.2,74.7 6.0,72.5 C6.8,70.3 8.2,68.5 10.0,67.0 C11.8,65.5 14.8,64.3 17.0,63.8 C19.2,63.3 21.4,63.8 23.0,64.0 C24.6,64.2 25.2,64.9 26.3,64.9 C27.4,64.9 28.1,64.1 29.5,63.9 C30.9,63.7 33.1,63.0 35.0,63.6 C36.9,64.2 39.2,65.8 41.0,67.5 C42.8,69.2 44.6,71.6 45.5,74.0 C46.4,76.4 46.7,79.4 46.5,82.0 C46.3,84.6 45.9,87.2 44.5,89.5 C43.1,91.8 40.3,93.7 38.0,95.5 C35.7,97.3 32.9,99.0 30.5,100.5 C28.1,102.0 25.9,105.0 23.7,104.8 C21.4,104.6 19.3,101.4 17.0,99.5 C14.7,97.6 11.9,95.4 10.0,93.5 C8.1,91.6 6.3,90.2 5.5,88.0 C4.7,85.8 4.9,82.6 5.0,80.0Z" fill="url(#g0B)"/>
<path d="M111.4,58.6 C111.7,57.4 112.5,55.8 113.4,55.1 C114.3,54.4 115.8,54.4 116.9,54.6 C118.0,54.9 118.9,55.9 119.9,56.6 C121.0,57.4 122.3,58.3 123.4,59.1 C124.6,60.0 126.1,60.5 127.0,61.6 C127.8,62.7 128.5,64.5 128.5,65.6 C128.4,66.8 127.5,68.2 126.5,68.6 C125.5,69.1 123.8,68.8 122.4,68.4 C121.1,68.1 119.8,67.3 118.4,66.6 C117.1,66.0 115.5,65.4 114.4,64.6 C113.3,63.9 112.4,63.1 111.9,62.1 C111.4,61.1 111.2,59.8 111.4,58.6Z" fill="#427e80"/>
<path d="M140.5,91.7 C140.8,89.8 141.3,87.5 142.5,85.7 C143.7,83.8 145.7,82.0 147.5,80.7 C149.3,79.4 151.8,78.0 153.5,77.9 C155.3,77.7 157.2,78.4 158.0,79.7 C158.9,81.0 158.8,83.5 158.5,85.7 C158.3,87.8 157.4,90.7 156.5,92.7 C155.6,94.7 154.5,96.3 153.0,97.7 C151.5,99.1 149.2,100.7 147.5,101.2 C145.8,101.7 144.1,101.5 143.0,100.7 C141.9,99.9 141.1,98.2 140.7,96.7 C140.3,95.2 140.2,93.5 140.5,91.7Z" fill="#478d82"/>
<path d="M112.6,118.7 C112.9,117.1 113.7,114.9 114.4,113.7 C115.1,112.6 116.2,111.6 116.9,111.7 C117.7,111.8 118.1,113.9 118.9,114.2 C119.8,114.6 120.9,113.6 121.9,113.7 C123.0,113.8 124.7,113.7 125.5,114.7 C126.2,115.7 126.5,118.1 126.5,119.7 C126.5,121.4 126.2,123.2 125.5,124.7 C124.7,126.3 123.0,127.8 121.9,128.8 C120.9,129.7 120.1,130.7 118.9,130.6 C117.8,130.4 116.0,128.9 114.9,127.8 C113.9,126.6 113.0,125.3 112.6,123.7 C112.2,122.2 112.3,120.4 112.6,118.7Z" fill="#4c9c83"/>
<path d="M145.7,111.7 C145.9,110.4 146.3,109.1 147.0,108.2 C147.7,107.3 148.9,106.7 150.0,106.5 C151.1,106.3 152.5,106.5 153.5,107.2 C154.5,107.9 155.7,109.6 156.0,110.7 C156.3,111.9 156.1,113.4 155.5,114.2 C154.9,115.1 153.6,115.6 152.5,115.7 C151.4,115.9 149.9,115.0 149.0,115.2 C148.1,115.5 147.6,117.1 147.0,117.2 C146.4,117.4 145.7,117.2 145.5,116.2 C145.3,115.3 145.4,113.1 145.7,111.7Z" fill="#478d82"/>
<path d="M77.4,103.7 C78.9,103.2 85.1,102.7 86.4,103.7 C87.7,104.7 85.6,107.9 85.2,109.7 C84.8,111.6 84.3,113.1 83.9,114.7 C83.5,116.4 83.1,117.9 82.9,119.7 C82.6,121.6 83.8,124.7 82.6,125.8 C81.4,126.8 76.7,126.9 75.7,125.8 C74.6,124.6 75.9,120.9 76.1,118.7 C76.3,116.6 76.7,114.7 76.9,112.7 C77.0,110.7 76.8,108.2 76.9,106.7 C76.9,105.2 75.8,104.2 77.4,103.7Z" fill="#56ab84"/>
<path d="M73.3,122.9 C74.9,122.2 76.1,121.8 77.4,122.2 C78.7,122.7 80.5,124.3 81.2,125.8 C81.9,127.2 81.6,128.9 81.6,130.8 C81.5,132.6 81.5,134.8 81.0,136.8 C80.5,138.8 79.6,141.2 78.6,142.8 C77.5,144.3 76.1,145.5 74.5,146.0 C73.0,146.4 71.0,145.8 69.3,145.5 C67.6,145.2 65.7,144.9 64.3,144.0 C63.0,143.1 61.9,141.5 61.3,140.0 C60.7,138.5 60.3,136.6 60.6,135.0 C60.9,133.3 61.9,131.4 63.1,130.0 C64.4,128.5 66.4,127.6 68.1,126.5 C69.8,125.3 71.8,123.6 73.3,122.9Z" fill="#4c9c83"/>
<path d="M69.3,84.7 C70.1,84.3 73.1,85.2 73.8,84.2 C74.6,83.2 73.7,80.3 73.8,78.7 C74.0,77.0 74.1,75.3 74.8,74.1 C75.6,73.0 76.9,72.1 78.4,71.6 C79.8,71.1 81.8,70.9 83.4,71.1 C85.0,71.4 86.7,72.2 87.9,73.1 C89.0,74.1 89.7,75.2 90.4,76.7 C91.0,78.1 91.5,80.0 91.9,81.7 C92.3,83.3 92.8,84.8 92.9,86.7 C93.0,88.5 92.7,91.0 92.4,92.7 C92.1,94.4 91.5,95.4 90.9,96.7 C90.2,98.0 89.2,99.4 88.4,100.7 C87.5,102.0 86.7,103.8 85.9,104.7 C85.0,105.6 84.6,106.0 83.4,106.2 C82.1,106.5 79.5,106.8 78.4,106.2 C77.2,105.6 76.9,103.8 76.4,102.7 C75.8,101.6 75.3,100.7 74.8,99.7 C74.4,98.7 74.0,98.8 73.8,96.7 C73.7,94.6 74.6,88.9 73.8,87.2 C73.1,85.5 70.1,86.8 69.3,86.4 C68.6,86.0 68.6,85.0 69.3,84.7Z" fill="#7ecf88"/>
<path d="M90.4,83.7 C91.0,81.6 93.1,83.1 94.4,83.2 C95.7,83.2 97.1,83.5 98.4,83.9 C99.6,84.2 100.9,84.6 101.9,85.2 C102.9,85.7 103.5,86.7 104.4,87.2 C105.3,87.7 106.2,88.1 107.4,88.2 C108.6,88.3 110.3,87.4 111.4,87.7 C112.6,87.9 113.8,88.9 114.4,89.7 C115.0,90.4 115.5,91.5 115.1,92.2 C114.8,92.9 113.5,93.7 112.4,93.9 C111.3,94.1 109.8,93.3 108.4,93.4 C107.1,93.5 105.6,93.9 104.4,94.4 C103.2,94.9 102.6,96.1 101.4,96.4 C100.2,96.6 98.7,96.0 97.4,95.9 C96.1,95.8 94.6,95.7 93.4,95.7 C92.2,95.7 90.9,97.7 90.4,95.7 C89.9,93.7 89.7,85.8 90.4,83.7Z" fill="#56ab84"/>
<ellipse cx="82.6" cy="74.8" rx="8" ry="5" fill="url(#cap0)"/>
</g>
<rect x="0" y="0" width="164" height="150.8" fill="none" stroke="#505050" stroke-width="1.4"/>
</g>
<text x="296.9" y="794.1" font-size="23" text-anchor="middle" fill="#111">Arginase-1</text>
<g transform="translate(214.9,808.4)">
<g filter="url(#spk)">
<path d="M71.8,16.5 C71.8,15.1 72.1,13.0 72.8,11.5 C73.6,10.0 75.0,8.5 76.4,7.5 C77.7,6.5 79.4,5.7 80.9,5.5 C82.4,5.3 84.3,5.8 85.4,6.5 C86.5,7.2 87.0,8.4 87.4,9.5 C87.8,10.6 87.5,11.9 87.9,13.0 C88.2,14.2 89.4,15.4 89.4,16.5 C89.4,17.7 89.0,19.3 87.9,20.0 C86.7,20.8 84.1,20.8 82.4,21.0 C80.6,21.3 78.9,21.7 77.4,21.5 C75.9,21.4 74.3,20.9 73.3,20.0 C72.4,19.2 71.9,18.0 71.8,16.5Z" fill="#427e80"/>
<path d="M5.0,80.0 C5.1,77.4 5.2,74.7 6.0,72.5 C6.8,70.3 8.2,68.5 10.0,67.0 C11.8,65.5 14.8,64.3 17.0,63.8 C19.2,63.3 21.4,63.8 23.0,64.0 C24.6,64.2 25.2,64.9 26.3,64.9 C27.4,64.9 28.1,64.1 29.5,63.9 C30.9,63.7 33.1,63.0 35.0,63.6 C36.9,64.2 39.2,65.8 41.0,67.5 C42.8,69.2 44.6,71.6 45.5,74.0 C46.4,76.4 46.7,79.4 46.5,82.0 C46.3,84.6 45.9,87.2 44.5,89.5 C43.1,91.8 40.3,93.7 38.0,95.5 C35.7,97.3 32.9,99.0 30.5,100.5 C28.1,102.0 25.9,105.0 23.7,104.8 C21.4,104.6 19.3,101.4 17.0,99.5 C14.7,97.6 11.9,95.4 10.0,93.5 C8.1,91.6 6.3,90.2 5.5,88.0 C4.7,85.8 4.9,82.6 5.0,80.0Z" fill="#427e80"/>
<path d="M111.4,58.6 C111.7,57.4 112.5,55.8 113.4,55.1 C114.3,54.4 115.8,54.4 116.9,54.6 C118.0,54.9 118.9,55.9 119.9,56.6 C121.0,57.4 122.3,58.3 123.4,59.1 C124.6,60.0 126.1,60.5 127.0,61.6 C127.8,62.7 128.5,64.5 128.5,65.6 C128.4,66.8 127.5,68.2 126.5,68.6 C125.5,69.1 123.8,68.8 122.4,68.4 C121.1,68.1 119.8,67.3 118.4,66.6 C117.1,66.0 115.5,65.4 114.4,64.6 C113.3,63.9 112.4,63.1 111.9,62.1 C111.4,61.1 111.2,59.8 111.4,58.6Z" fill="#427e80"/>
<path d="M140.5,91.7 C140.8,89.8 141.3,87.5 142.5,85.7 C143.7,83.8 145.7,82.0 147.5,80.7 C149.3,79.4 151.8,78.0 153.5,77.9 C155.3,77.7 157.2,78.4 158.0,79.7 C158.9,81.0 158.8,83.5 158.5,85.7 C158.3,87.8 157.4,90.7 156.5,92.7 C155.6,94.7 154.5,96.3 153.0,97.7 C151.5,99.1 149.2,100.7 147.5,101.2 C145.8,101.7 144.1,101.5 143.0,100.7 C141.9,99.9 141.1,98.2 140.7,96.7 C140.3,95.2 140.2,93.5 140.5,91.7Z" fill="#3d6b76"/>
<path d="M112.6,118.7 C112.9,117.1 113.7,114.9 114.4,113.7 C115.1,112.6 116.2,111.6 116.9,111.7 C117.7,111.8 118.1,113.9 118.9,114.2 C119.8,114.6 120.9,113.6 121.9,113.7 C123.0,113.8 124.7,113.7 125.5,114.7 C126.2,115.7 126.5,118.1 126.5,119.7 C126.5,121.4 126.2,123.2 125.5,124.7 C124.7,126.3 123.0,127.8 121.9,128.8 C120.9,129.7 120.1,130.7 118.9,130.6 C117.8,130.4 116.0,128.9 114.9,127.8 C113.9,126.6 113.0,125.3 112.6,123.7 C112.2,122.2 112.3,120.4 112.6,118.7Z" fill="#395867"/>
<path d="M145.7,111.7 C145.9,110.4 146.3,109.1 147.0,108.2 C147.7,107.3 148.9,106.7 150.0,106.5 C151.1,106.3 152.5,106.5 153.5,107.2 C154.5,107.9 155.7,109.6 156.0,110.7 C156.3,111.9 156.1,113.4 155.5,114.2 C154.9,115.1 153.6,115.6 152.5,115.7 C151.4,115.9 149.9,115.0 149.0,115.2 C148.1,115.5 147.6,117.1 147.0,117.2 C146.4,117.4 145.7,117.2 145.5,116.2 C145.3,115.3 145.4,113.1 145.7,111.7Z" fill="#427e80"/>
<path d="M77.4,103.7 C78.9,103.2 85.1,102.7 86.4,103.7 C87.7,104.7 85.6,107.9 85.2,109.7 C84.8,111.6 84.3,113.1 83.9,114.7 C83.5,116.4 83.1,117.9 82.9,119.7 C82.6,121.6 83.8,124.7 82.6,125.8 C81.4,126.8 76.7,126.9 75.7,125.8 C74.6,124.6 75.9,120.9 76.1,118.7 C76.3,116.6 76.7,114.7 76.9,112.7 C77.0,110.7 76.8,108.2 76.9,106.7 C76.9,105.2 75.8,104.2 77.4,103.7Z" fill="#3b606d"/>
<path d="M73.3,122.9 C74.9,122.2 76.1,121.8 77.4,122.2 C78.7,122.7 80.5,124.3 81.2,125.8 C81.9,127.2 81.6,128.9 81.6,130.8 C81.5,132.6 81.5,134.8 81.0,136.8 C80.5,138.8 79.6,141.2 78.6,142.8 C77.5,144.3 76.1,145.5 74.5,146.0 C73.0,146.4 71.0,145.8 69.3,145.5 C67.6,145.2 65.7,144.9 64.3,144.0 C63.0,143.1 61.9,141.5 61.3,140.0 C60.7,138.5 60.3,136.6 60.6,135.0 C60.9,133.3 61.9,131.4 63.1,130.0 C64.4,128.5 66.4,127.6 68.1,126.5 C69.8,125.3 71.8,123.6 73.3,122.9Z" fill="#3b606d"/>
<path d="M69.3,84.7 C70.1,84.3 73.1,85.2 73.8,84.2 C74.6,83.2 73.7,80.3 73.8,78.7 C74.0,77.0 74.1,75.3 74.8,74.1 C75.6,73.0 76.9,72.1 78.4,71.6 C79.8,71.1 81.8,70.9 83.4,71.1 C85.0,71.4 86.7,72.2 87.9,73.1 C89.0,74.1 89.7,75.2 90.4,76.7 C91.0,78.1 91.5,80.0 91.9,81.7 C92.3,83.3 92.8,84.8 92.9,86.7 C93.0,88.5 92.7,91.0 92.4,92.7 C92.1,94.4 91.5,95.4 90.9,96.7 C90.2,98.0 89.2,99.4 88.4,100.7 C87.5,102.0 86.7,103.8 85.9,104.7 C85.0,105.6 84.6,106.0 83.4,106.2 C82.1,106.5 79.5,106.8 78.4,106.2 C77.2,105.6 76.9,103.8 76.4,102.7 C75.8,101.6 75.3,100.7 74.8,99.7 C74.4,98.7 74.0,98.8 73.8,96.7 C73.7,94.6 74.6,88.9 73.8,87.2 C73.1,85.5 70.1,86.8 69.3,86.4 C68.6,86.0 68.6,85.0 69.3,84.7Z" fill="#427e80"/>
<path d="M90.4,83.7 C91.0,81.6 93.1,83.1 94.4,83.2 C95.7,83.2 97.1,83.5 98.4,83.9 C99.6,84.2 100.9,84.6 101.9,85.2 C102.9,85.7 103.5,86.7 104.4,87.2 C105.3,87.7 106.2,88.1 107.4,88.2 C108.6,88.3 110.3,87.4 111.4,87.7 C112.6,87.9 113.8,88.9 114.4,89.7 C115.0,90.4 115.5,91.5 115.1,92.2 C114.8,92.9 113.5,93.7 112.4,93.9 C111.3,94.1 109.8,93.3 108.4,93.4 C107.1,93.5 105.6,93.9 104.4,94.4 C103.2,94.9 102.6,96.1 101.4,96.4 C100.2,96.6 98.7,96.0 97.4,95.9 C96.1,95.8 94.6,95.7 93.4,95.7 C92.2,95.7 90.9,97.7 90.4,95.7 C89.9,93.7 89.7,85.8 90.4,83.7Z" fill="#3d6b76"/>
<ellipse cx="82.6" cy="74.8" rx="8" ry="5" fill="url(#cap1)"/>
</g>
<rect x="0" y="0" width="164" height="150.8" fill="none" stroke="#505050" stroke-width="1.4"/>
</g>
<text x="476.2" y="794.1" font-size="23" text-anchor="middle" fill="#111">CD38</text>
<g transform="translate(394.2,808.4)">
<g filter="url(#spk)">
<path d="M71.8,16.5 C71.8,15.1 72.1,13.0 72.8,11.5 C73.6,10.0 75.0,8.5 76.4,7.5 C77.7,6.5 79.4,5.7 80.9,5.5 C82.4,5.3 84.3,5.8 85.4,6.5 C86.5,7.2 87.0,8.4 87.4,9.5 C87.8,10.6 87.5,11.9 87.9,13.0 C88.2,14.2 89.4,15.4 89.4,16.5 C89.4,17.7 89.0,19.3 87.9,20.0 C86.7,20.8 84.1,20.8 82.4,21.0 C80.6,21.3 78.9,21.7 77.4,21.5 C75.9,21.4 74.3,20.9 73.3,20.0 C72.4,19.2 71.9,18.0 71.8,16.5Z" fill="#7ecf88"/>
<path d="M5.0,80.0 C5.1,77.4 5.2,74.7 6.0,72.5 C6.8,70.3 8.2,68.5 10.0,67.0 C11.8,65.5 14.8,64.3 17.0,63.8 C19.2,63.3 21.4,63.8 23.0,64.0 C24.6,64.2 25.2,64.9 26.3,64.9 C27.4,64.9 28.1,64.1 29.5,63.9 C30.9,63.7 33.1,63.0 35.0,63.6 C36.9,64.2 39.2,65.8 41.0,67.5 C42.8,69.2 44.6,71.6 45.5,74.0 C46.4,76.4 46.7,79.4 46.5,82.0 C46.3,84.6 45.9,87.2 44.5,89.5 C43.1,91.8 40.3,93.7 38.0,95.5 C35.7,97.3 32.9,99.0 30.5,100.5 C28.1,102.0 25.9,105.0 23.7,104.8 C21.4,104.6 19.3,101.4 17.0,99.5 C14.7,97.6 11.9,95.4 10.0,93.5 C8.1,91.6 6.3,90.2 5.5,88.0 C4.7,85.8 4.9,82.6 5.0,80.0Z" fill="#3b606d"/>
<path d="M111.4,58.6 C111.7,57.4 112.5,55.8 113.4,55.1 C114.3,54.4 115.8,54.4 116.9,54.6 C118.0,54.9 118.9,55.9 119.9,56.6 C121.0,57.4 122.3,58.3 123.4,59.1 C124.6,60.0 126.1,60.5 127.0,61.6 C127.8,62.7 128.5,64.5 128.5,65.6 C128.4,66.8 127.5,68.2 126.5,68.6 C125.5,69.1 123.8,68.8 122.4,68.4 C121.1,68.1 119.8,67.3 118.4,66.6 C117.1,66.0 115.5,65.4 114.4,64.6 C113.3,63.9 112.4,63.1 111.9,62.1 C111.4,61.1 111.2,59.8 111.4,58.6Z" fill="#478d82"/>
<path d="M140.5,91.7 C140.8,89.8 141.3,87.5 142.5,85.7 C143.7,83.8 145.7,82.0 147.5,80.7 C149.3,79.4 151.8,78.0 153.5,77.9 C155.3,77.7 157.2,78.4 158.0,79.7 C158.9,81.0 158.8,83.5 158.5,85.7 C158.3,87.8 157.4,90.7 156.5,92.7 C155.6,94.7 154.5,96.3 153.0,97.7 C151.5,99.1 149.2,100.7 147.5,101.2 C145.8,101.7 144.1,101.5 143.0,100.7 C141.9,99.9 141.1,98.2 140.7,96.7 C140.3,95.2 140.2,93.5 140.5,91.7Z" fill="#3d6b76"/>
<path d="M112.6,118.7 C112.9,117.1 113.7,114.9 114.4,113.7 C115.1,112.6 116.2,111.6 116.9,111.7 C117.7,111.8 118.1,113.9 118.9,114.2 C119.8,114.6 120.9,113.6 121.9,113.7 C123.0,113.8 124.7,113.7 125.5,114.7 C126.2,115.7 126.5,118.1 126.5,119.7 C126.5,121.4 126.2,123.2 125.5,124.7 C124.7,126.3 123.0,127.8 121.9,128.8 C120.9,129.7 120.1,130.7 118.9,130.6 C117.8,130.4 116.0,128.9 114.9,127.8 C113.9,126.6 113.0,125.3 112.6,123.7 C112.2,122.2 112.3,120.4 112.6,118.7Z" fill="#6fc486"/>
<path d="M145.7,111.7 C145.9,110.4 146.3,109.1 147.0,108.2 C147.7,107.3 148.9,106.7 150.0,106.5 C151.1,106.3 152.5,106.5 153.5,107.2 C154.5,107.9 155.7,109.6 156.0,110.7 C156.3,111.9 156.1,113.4 155.5,114.2 C154.9,115.1 153.6,115.6 152.5,115.7 C151.4,115.9 149.9,115.0 149.0,115.2 C148.1,115.5 147.6,117.1 147.0,117.2 C146.4,117.4 145.7,117.2 145.5,116.2 C145.3,115.3 145.4,113.1 145.7,111.7Z" fill="#427e80"/>
<path d="M77.4,103.7 C78.9,103.2 85.1,102.7 86.4,103.7 C87.7,104.7 85.6,107.9 85.2,109.7 C84.8,111.6 84.3,113.1 83.9,114.7 C83.5,116.4 83.1,117.9 82.9,119.7 C82.6,121.6 83.8,124.7 82.6,125.8 C81.4,126.8 76.7,126.9 75.7,125.8 C74.6,124.6 75.9,120.9 76.1,118.7 C76.3,116.6 76.7,114.7 76.9,112.7 C77.0,110.7 76.8,108.2 76.9,106.7 C76.9,105.2 75.8,104.2 77.4,103.7Z" fill="#427e80"/>
<path d="M73.3,122.9 C74.9,122.2 76.1,121.8 77.4,122.2 C78.7,122.7 80.5,124.3 81.2,125.8 C81.9,127.2 81.6,128.9 81.6,130.8 C81.5,132.6 81.5,134.8 81.0,136.8 C80.5,138.8 79.6,141.2 78.6,142.8 C77.5,144.3 76.1,145.5 74.5,146.0 C73.0,146.4 71.0,145.8 69.3,145.5 C67.6,145.2 65.7,144.9 64.3,144.0 C63.0,143.1 61.9,141.5 61.3,140.0 C60.7,138.5 60.3,136.6 60.6,135.0 C60.9,133.3 61.9,131.4 63.1,130.0 C64.4,128.5 66.4,127.6 68.1,126.5 C69.8,125.3 71.8,123.6 73.3,122.9Z" fill="#427e80"/>
<path d="M69.3,84.7 C70.1,84.3 73.1,85.2 73.8,84.2 C74.6,83.2 73.7,80.3 73.8,78.7 C74.0,77.0 74.1,75.3 74.8,74.1 C75.6,73.0 76.9,72.1 78.4,71.6 C79.8,71.1 81.8,70.9 83.4,71.1 C85.0,71.4 86.7,72.2 87.9,73.1 C89.0,74.1 89.7,75.2 90.4,76.7 C91.0,78.1 91.5,80.0 91.9,81.7 C92.3,83.3 92.8,84.8 92.9,86.7 C93.0,88.5 92.7,91.0 92.4,92.7 C92.1,94.4 91.5,95.4 90.9,96.7 C90.2,98.0 89.2,99.4 88.4,100.7 C87.5,102.0 86.7,103.8 85.9,104.7 C85.0,105.6 84.6,106.0 83.4,106.2 C82.1,106.5 79.5,106.8 78.4,106.2 C77.2,105.6 76.9,103.8 76.4,102.7 C75.8,101.6 75.3,100.7 74.8,99.7 C74.4,98.7 74.0,98.8 73.8,96.7 C73.7,94.6 74.6,88.9 73.8,87.2 C73.1,85.5 70.1,86.8 69.3,86.4 C68.6,86.0 68.6,85.0 69.3,84.7Z" fill="#a0dd8e"/>
<path d="M90.4,83.7 C91.0,81.6 93.1,83.1 94.4,83.2 C95.7,83.2 97.1,83.5 98.4,83.9 C99.6,84.2 100.9,84.6 101.9,85.2 C102.9,85.7 103.5,86.7 104.4,87.2 C105.3,87.7 106.2,88.1 107.4,88.2 C108.6,88.3 110.3,87.4 111.4,87.7 C112.6,87.9 113.8,88.9 114.4,89.7 C115.0,90.4 115.5,91.5 115.1,92.2 C114.8,92.9 113.5,93.7 112.4,93.9 C111.3,94.1 109.8,93.3 108.4,93.4 C107.1,93.5 105.6,93.9 104.4,94.4 C103.2,94.9 102.6,96.1 101.4,96.4 C100.2,96.6 98.7,96.0 97.4,95.9 C96.1,95.8 94.6,95.7 93.4,95.7 C92.2,95.7 90.9,97.7 90.4,95.7 C89.9,93.7 89.7,85.8 90.4,83.7Z" fill="#56ab84"/>
</g>
<rect x="0" y="0" width="164" height="150.8" fill="none" stroke="#505050" stroke-width="1.4"/>
</g>
<text x="655.5" y="794.1" font-size="23" text-anchor="middle" fill="#111">MHCII</text>
<g transform="translate(573.5,808.4)">
<g filter="url(#spk)">
<path d="M71.8,16.5 C71.8,15.1 72.1,13.0 72.8,11.5 C73.6,10.0 75.0,8.5 76.4,7.5 C77.7,6.5 79.4,5.7 80.9,5.5 C82.4,5.3 84.3,5.8 85.4,6.5 C86.5,7.2 87.0,8.4 87.4,9.5 C87.8,10.6 87.5,11.9 87.9,13.0 C88.2,14.2 89.4,15.4 89.4,16.5 C89.4,17.7 89.0,19.3 87.9,20.0 C86.7,20.8 84.1,20.8 82.4,21.0 C80.6,21.3 78.9,21.7 77.4,21.5 C75.9,21.4 74.3,20.9 73.3,20.0 C72.4,19.2 71.9,18.0 71.8,16.5Z" fill="#6fc486"/>
<path d="M5.0,80.0 C5.1,77.4 5.2,74.7 6.0,72.5 C6.8,70.3 8.2,68.5 10.0,67.0 C11.8,65.5 14.8,64.3 17.0,63.8 C19.2,63.3 21.4,63.8 23.0,64.0 C24.6,64.2 25.2,64.9 26.3,64.9 C27.4,64.9 28.1,64.1 29.5,63.9 C30.9,63.7 33.1,63.0 35.0,63.6 C36.9,64.2 39.2,65.8 41.0,67.5 C42.8,69.2 44.6,71.6 45.5,74.0 C46.4,76.4 46.7,79.4 46.5,82.0 C46.3,84.6 45.9,87.2 44.5,89.5 C43.1,91.8 40.3,93.7 38.0,95.5 C35.7,97.3 32.9,99.0 30.5,100.5 C28.1,102.0 25.9,105.0 23.7,104.8 C21.4,104.6 19.3,101.4 17.0,99.5 C14.7,97.6 11.9,95.4 10.0,93.5 C8.1,91.6 6.3,90.2 5.5,88.0 C4.7,85.8 4.9,82.6 5.0,80.0Z" fill="url(#g3B)"/>
<path d="M111.4,58.6 C111.7,57.4 112.5,55.8 113.4,55.1 C114.3,54.4 115.8,54.4 116.9,54.6 C118.0,54.9 118.9,55.9 119.9,56.6 C121.0,57.4 122.3,58.3 123.4,59.1 C124.6,60.0 126.1,60.5 127.0,61.6 C127.8,62.7 128.5,64.5 128.5,65.6 C128.4,66.8 127.5,68.2 126.5,68.6 C125.5,69.1 123.8,68.8 122.4,68.4 C121.1,68.1 119.8,67.3 118.4,66.6 C117.1,66.0 115.5,65.4 114.4,64.6 C113.3,63.9 112.4,63.1 111.9,62.1 C111.4,61.1 111.2,59.8 111.4,58.6Z" fill="#3d6b76"/>
<path d="M140.5,91.7 C140.8,89.8 141.3,87.5 142.5,85.7 C143.7,83.8 145.7,82.0 147.5,80.7 C149.3,79.4 151.8,78.0 153.5,77.9 C155.3,77.7 157.2,78.4 158.0,79.7 C158.9,81.0 158.8,83.5 158.5,85.7 C158.3,87.8 157.4,90.7 156.5,92.7 C155.6,94.7 154.5,96.3 153.0,97.7 C151.5,99.1 149.2,100.7 147.5,101.2 C145.8,101.7 144.1,101.5 143.0,100.7 C141.9,99.9 141.1,98.2 140.7,96.7 C140.3,95.2 140.2,93.5 140.5,91.7Z" fill="#478d82"/>
<path d="M112.6,118.7 C112.9,117.1 113.7,114.9 114.4,113.7 C115.1,112.6 116.2,111.6 116.9,111.7 C117.7,111.8 118.1,113.9 118.9,114.2 C119.8,114.6 120.9,113.6 121.9,113.7 C123.0,113.8 124.7,113.7 125.5,114.7 C126.2,115.7 126.5,118.1 126.5,119.7 C126.5,121.4 126.2,123.2 125.5,124.7 C124.7,126.3 123.0,127.8 121.9,128.8 C120.9,129.7 120.1,130.7 118.9,130.6 C117.8,130.4 116.0,128.9 114.9,127.8 C113.9,126.6 113.0,125.3 112.6,123.7 C112.2,122.2 112.3,120.4 112.6,118.7Z" fill="#427e80"/>
<path d="M145.7,111.7 C145.9,110.4 146.3,109.1 147.0,108.2 C147.7,107.3 148.9,106.7 150.0,106.5 C151.1,106.3 152.5,106.5 153.5,107.2 C154.5,107.9 155.7,109.6 156.0,110.7 C156.3,111.9 156.1,113.4 155.5,114.2 C154.9,115.1 153.6,115.6 152.5,115.7 C151.4,115.9 149.9,115.0 149.0,115.2 C148.1,115.5 147.6,117.1 147.0,117.2 C146.4,117.4 145.7,117.2 145.5,116.2 C145.3,115.3 145.4,113.1 145.7,111.7Z" fill="#56ab84"/>
<path d="M77.4,103.7 C78.9,103.2 85.1,102.7 86.4,103.7 C87.7,104.7 85.6,107.9 85.2,109.7 C84.8,111.6 84.3,113.1 83.9,114.7 C83.5,116.4 83.1,117.9 82.9,119.7 C82.6,121.6 83.8,124.7 82.6,125.8 C81.4,126.8 76.7,126.9 75.7,125.8 C74.6,124.6 75.9,120.9 76.1,118.7 C76.3,116.6 76.7,114.7 76.9,112.7 C77.0,110.7 76.8,108.2 76.9,106.7 C76.9,105.2 75.8,104.2 77.4,103.7Z" fill="#395867"/>
<path d="M73.3,122.9 C74.9,122.2 76.1,121.8 77.4,122.2 C78.7,122.7 80.5,124.3 81.2,125.8 C81.9,127.2 81.6,128.9 81.6,130.8 C81.5,132.6 81.5,134.8 81.0,136.8 C80.5,138.8 79.6,141.2 78.6,142.8 C77.5,144.3 76.1,145.5 74.5,146.0 C73.0,146.4 71.0,145.8 69.3,145.5 C67.6,145.2 65.7,144.9 64.3,144.0 C63.0,143.1 61.9,141.5 61.3,140.0 C60.7,138.5 60.3,136.6 60.6,135.0 C60.9,133.3 61.9,131.4 63.1,130.0 C64.4,128.5 66.4,127.6 68.1,126.5 C69.8,125.3 71.8,123.6 73.3,122.9Z" fill="#395867"/>
<path d="M69.3,84.7 C70.1,84.3 73.1,85.2 73.8,84.2 C74.6,83.2 73.7,80.3 73.8,78.7 C74.0,77.0 74.1,75.3 74.8,74.1 C75.6,73.0 76.9,72.1 78.4,71.6 C79.8,71.1 81.8,70.9 83.4,71.1 C85.0,71.4 86.7,72.2 87.9,73.1 C89.0,74.1 89.7,75.2 90.4,76.7 C91.0,78.1 91.5,80.0 91.9,81.7 C92.3,83.3 92.8,84.8 92.9,86.7 C93.0,88.5 92.7,91.0 92.4,92.7 C92.1,94.4 91.5,95.4 90.9,96.7 C90.2,98.0 89.2,99.4 88.4,100.7 C87.5,102.0 86.7,103.8 85.9,104.7 C85.0,105.6 84.6,106.0 83.4,106.2 C82.1,106.5 79.5,106.8 78.4,106.2 C77.2,105.6 76.9,103.8 76.4,102.7 C75.8,101.6 75.3,100.7 74.8,99.7 C74.4,98.7 74.0,98.8 73.8,96.7 C73.7,94.6 74.6,88.9 73.8,87.2 C73.1,85.5 70.1,86.8 69.3,86.4 C68.6,86.0 68.6,85.0 69.3,84.7Z" fill="#6fc486"/>
<path d="M90.4,83.7 C91.0,81.6 93.1,83.1 94.4,83.2 C95.7,83.2 97.1,83.5 98.4,83.9 C99.6,84.2 100.9,84.6 101.9,85.2 C102.9,85.7 103.5,86.7 104.4,87.2 C105.3,87.7 106.2,88.1 107.4,88.2 C108.6,88.3 110.3,87.4 111.4,87.7 C112.6,87.9 113.8,88.9 114.4,89.7 C115.0,90.4 115.5,91.5 115.1,92.2 C114.8,92.9 113.5,93.7 112.4,93.9 C111.3,94.1 109.8,93.3 108.4,93.4 C107.1,93.5 105.6,93.9 104.4,94.4 C103.2,94.9 102.6,96.1 101.4,96.4 C100.2,96.6 98.7,96.0 97.4,95.9 C96.1,95.8 94.6,95.7 93.4,95.7 C92.2,95.7 90.9,97.7 90.4,95.7 C89.9,93.7 89.7,85.8 90.4,83.7Z" fill="#5fba85"/>
</g>
<rect x="0" y="0" width="164" height="150.8" fill="none" stroke="#505050" stroke-width="1.4"/>
</g>
<text x="834.8" y="794.1" font-size="23" text-anchor="middle" fill="#111">CD45</text>
<g transform="translate(752.8,808.4)">
<g filter="url(#spk)">
<path d="M71.8,16.5 C71.8,15.1 72.1,13.0 72.8,11.5 C73.6,10.0 75.0,8.5 76.4,7.5 C77.7,6.5 79.4,5.7 80.9,5.5 C82.4,5.3 84.3,5.8 85.4,6.5 C86.5,7.2 87.0,8.4 87.4,9.5 C87.8,10.6 87.5,11.9 87.9,13.0 C88.2,14.2 89.4,15.4 89.4,16.5 C89.4,17.7 89.0,19.3 87.9,20.0 C86.7,20.8 84.1,20.8 82.4,21.0 C80.6,21.3 78.9,21.7 77.4,21.5 C75.9,21.4 74.3,20.9 73.3,20.0 C72.4,19.2 71.9,18.0 71.8,16.5Z" fill="#6fc486"/>
<path d="M5.0,80.0 C5.1,77.4 5.2,74.7 6.0,72.5 C6.8,70.3 8.2,68.5 10.0,67.0 C11.8,65.5 14.8,64.3 17.0,63.8 C19.2,63.3 21.4,63.8 23.0,64.0 C24.6,64.2 25.2,64.9 26.3,64.9 C27.4,64.9 28.1,64.1 29.5,63.9 C30.9,63.7 33.1,63.0 35.0,63.6 C36.9,64.2 39.2,65.8 41.0,67.5 C42.8,69.2 44.6,71.6 45.5,74.0 C46.4,76.4 46.7,79.4 46.5,82.0 C46.3,84.6 45.9,87.2 44.5,89.5 C43.1,91.8 40.3,93.7 38.0,95.5 C35.7,97.3 32.9,99.0 30.5,100.5 C28.1,102.0 25.9,105.0 23.7,104.8 C21.4,104.6 19.3,101.4 17.0,99.5 C14.7,97.6 11.9,95.4 10.0,93.5 C8.1,91.6 6.3,90.2 5.5,88.0 C4.7,85.8 4.9,82.6 5.0,80.0Z" fill="#395867"/>
<path d="M111.4,58.6 C111.7,57.4 112.5,55.8 113.4,55.1 C114.3,54.4 115.8,54.4 116.9,54.6 C118.0,54.9 118.9,55.9 119.9,56.6 C121.0,57.4 122.3,58.3 123.4,59.1 C124.6,60.0 126.1,60.5 127.0,61.6 C127.8,62.7 128.5,64.5 128.5,65.6 C128.4,66.8 127.5,68.2 126.5,68.6 C125.5,69.1 123.8,68.8 122.4,68.4 C121.1,68.1 119.8,67.3 118.4,66.6 C117.1,66.0 115.5,65.4 114.4,64.6 C113.3,63.9 112.4,63.1 111.9,62.1 C111.4,61.1 111.2,59.8 111.4,58.6Z" fill="#5fba85"/>
<path d="M140.5,91.7 C140.8,89.8 141.3,87.5 142.5,85.7 C143.7,83.8 145.7,82.0 147.5,80.7 C149.3,79.4 151.8,78.0 153.5,77.9 C155.3,77.7 157.2,78.4 158.0,79.7 C158.9,81.0 158.8,83.5 158.5,85.7 C158.3,87.8 157.4,90.7 156.5,92.7 C155.6,94.7 154.5,96.3 153.0,97.7 C151.5,99.1 149.2,100.7 147.5,101.2 C145.8,101.7 144.1,101.5 143.0,100.7 C141.9,99.9 141.1,98.2 140.7,96.7 C140.3,95.2 140.2,93.5 140.5,91.7Z" fill="#a0dd8e"/>
<path d="M112.6,118.7 C112.9,117.1 113.7,114.9 114.4,113.7 C115.1,112.6 116.2,111.6 116.9,111.7 C117.7,111.8 118.1,113.9 118.9,114.2 C119.8,114.6 120.9,113.6 121.9,113.7 C123.0,113.8 124.7,113.7 125.5,114.7 C126.2,115.7 126.5,118.1 126.5,119.7 C126.5,121.4 126.2,123.2 125.5,124.7 C124.7,126.3 123.0,127.8 121.9,128.8 C120.9,129.7 120.1,130.7 118.9,130.6 C117.8,130.4 116.0,128.9 114.9,127.8 C113.9,126.6 113.0,125.3 112.6,123.7 C112.2,122.2 112.3,120.4 112.6,118.7Z" fill="#7ecf88"/>
<path d="M145.7,111.7 C145.9,110.4 146.3,109.1 147.0,108.2 C147.7,107.3 148.9,106.7 150.0,106.5 C151.1,106.3 152.5,106.5 153.5,107.2 C154.5,107.9 155.7,109.6 156.0,110.7 C156.3,111.9 156.1,113.4 155.5,114.2 C154.9,115.1 153.6,115.6 152.5,115.7 C151.4,115.9 149.9,115.0 149.0,115.2 C148.1,115.5 147.6,117.1 147.0,117.2 C146.4,117.4 145.7,117.2 145.5,116.2 C145.3,115.3 145.4,113.1 145.7,111.7Z" fill="#56ab84"/>
<path d="M77.4,103.7 C78.9,103.2 85.1,102.7 86.4,103.7 C87.7,104.7 85.6,107.9 85.2,109.7 C84.8,111.6 84.3,113.1 83.9,114.7 C83.5,116.4 83.1,117.9 82.9,119.7 C82.6,121.6 83.8,124.7 82.6,125.8 C81.4,126.8 76.7,126.9 75.7,125.8 C74.6,124.6 75.9,120.9 76.1,118.7 C76.3,116.6 76.7,114.7 76.9,112.7 C77.0,110.7 76.8,108.2 76.9,106.7 C76.9,105.2 75.8,104.2 77.4,103.7Z" fill="#85d289"/>
<path d="M73.3,122.9 C74.9,122.2 76.1,121.8 77.4,122.2 C78.7,122.7 80.5,124.3 81.2,125.8 C81.9,127.2 81.6,128.9 81.6,130.8 C81.5,132.6 81.5,134.8 81.0,136.8 C80.5,138.8 79.6,141.2 78.6,142.8 C77.5,144.3 76.1,145.5 74.5,146.0 C73.0,146.4 71.0,145.8 69.3,145.5 C67.6,145.2 65.7,144.9 64.3,144.0 C63.0,143.1 61.9,141.5 61.3,140.0 C60.7,138.5 60.3,136.6 60.6,135.0 C60.9,133.3 61.9,131.4 63.1,130.0 C64.4,128.5 66.4,127.6 68.1,126.5 C69.8,125.3 71.8,123.6 73.3,122.9Z" fill="#85d289"/>
<path d="M69.3,84.7 C70.1,84.3 73.1,85.2 73.8,84.2 C74.6,83.2 73.7,80.3 73.8,78.7 C74.0,77.0 74.1,75.3 74.8,74.1 C75.6,73.0 76.9,72.1 78.4,71.6 C79.8,71.1 81.8,70.9 83.4,71.1 C85.0,71.4 86.7,72.2 87.9,73.1 C89.0,74.1 89.7,75.2 90.4,76.7 C91.0,78.1 91.5,80.0 91.9,81.7 C92.3,83.3 92.8,84.8 92.9,86.7 C93.0,88.5 92.7,91.0 92.4,92.7 C92.1,94.4 91.5,95.4 90.9,96.7 C90.2,98.0 89.2,99.4 88.4,100.7 C87.5,102.0 86.7,103.8 85.9,104.7 C85.0,105.6 84.6,106.0 83.4,106.2 C82.1,106.5 79.5,106.8 78.4,106.2 C77.2,105.6 76.9,103.8 76.4,102.7 C75.8,101.6 75.3,100.7 74.8,99.7 C74.4,98.7 74.0,98.8 73.8,96.7 C73.7,94.6 74.6,88.9 73.8,87.2 C73.1,85.5 70.1,86.8 69.3,86.4 C68.6,86.0 68.6,85.0 69.3,84.7Z" fill="#a7df90"/>
<path d="M90.4,83.7 C91.0,81.6 93.1,83.1 94.4,83.2 C95.7,83.2 97.1,83.5 98.4,83.9 C99.6,84.2 100.9,84.6 101.9,85.2 C102.9,85.7 103.5,86.7 104.4,87.2 C105.3,87.7 106.2,88.1 107.4,88.2 C108.6,88.3 110.3,87.4 111.4,87.7 C112.6,87.9 113.8,88.9 114.4,89.7 C115.0,90.4 115.5,91.5 115.1,92.2 C114.8,92.9 113.5,93.7 112.4,93.9 C111.3,94.1 109.8,93.3 108.4,93.4 C107.1,93.5 105.6,93.9 104.4,94.4 C103.2,94.9 102.6,96.1 101.4,96.4 C100.2,96.6 98.7,96.0 97.4,95.9 C96.1,95.8 94.6,95.7 93.4,95.7 C92.2,95.7 90.9,97.7 90.4,95.7 C89.9,93.7 89.7,85.8 90.4,83.7Z" fill="#6fc486"/>
</g>
<rect x="0" y="0" width="164" height="150.8" fill="none" stroke="#505050" stroke-width="1.4"/>
</g>
<text x="1014.1" y="794.1" font-size="23" text-anchor="middle" fill="#111">CD4</text>
<g transform="translate(932.1,808.4)">
<g filter="url(#spk)">
<path d="M71.8,16.5 C71.8,15.1 72.1,13.0 72.8,11.5 C73.6,10.0 75.0,8.5 76.4,7.5 C77.7,6.5 79.4,5.7 80.9,5.5 C82.4,5.3 84.3,5.8 85.4,6.5 C86.5,7.2 87.0,8.4 87.4,9.5 C87.8,10.6 87.5,11.9 87.9,13.0 C88.2,14.2 89.4,15.4 89.4,16.5 C89.4,17.7 89.0,19.3 87.9,20.0 C86.7,20.8 84.1,20.8 82.4,21.0 C80.6,21.3 78.9,21.7 77.4,21.5 C75.9,21.4 74.3,20.9 73.3,20.0 C72.4,19.2 71.9,18.0 71.8,16.5Z" fill="#3b606d"/>
<path d="M5.0,80.0 C5.1,77.4 5.2,74.7 6.0,72.5 C6.8,70.3 8.2,68.5 10.0,67.0 C11.8,65.5 14.8,64.3 17.0,63.8 C19.2,63.3 21.4,63.8 23.0,64.0 C24.6,64.2 25.2,64.9 26.3,64.9 C27.4,64.9 28.1,64.1 29.5,63.9 C30.9,63.7 33.1,63.0 35.0,63.6 C36.9,64.2 39.2,65.8 41.0,67.5 C42.8,69.2 44.6,71.6 45.5,74.0 C46.4,76.4 46.7,79.4 46.5,82.0 C46.3,84.6 45.9,87.2 44.5,89.5 C43.1,91.8 40.3,93.7 38.0,95.5 C35.7,97.3 32.9,99.0 30.5,100.5 C28.1,102.0 25.9,105.0 23.7,104.8 C21.4,104.6 19.3,101.4 17.0,99.5 C14.7,97.6 11.9,95.4 10.0,93.5 C8.1,91.6 6.3,90.2 5.5,88.0 C4.7,85.8 4.9,82.6 5.0,80.0Z" fill="#354456"/>
<path d="M111.4,58.6 C111.7,57.4 112.5,55.8 113.4,55.1 C114.3,54.4 115.8,54.4 116.9,54.6 C118.0,54.9 118.9,55.9 119.9,56.6 C121.0,57.4 122.3,58.3 123.4,59.1 C124.6,60.0 126.1,60.5 127.0,61.6 C127.8,62.7 128.5,64.5 128.5,65.6 C128.4,66.8 127.5,68.2 126.5,68.6 C125.5,69.1 123.8,68.8 122.4,68.4 C121.1,68.1 119.8,67.3 118.4,66.6 C117.1,66.0 115.5,65.4 114.4,64.6 C113.3,63.9 112.4,63.1 111.9,62.1 C111.4,61.1 111.2,59.8 111.4,58.6Z" fill="#3d6b76"/>
<path d="M140.5,91.7 C140.8,89.8 141.3,87.5 142.5,85.7 C143.7,83.8 145.7,82.0 147.5,80.7 C149.3,79.4 151.8,78.0 153.5,77.9 C155.3,77.7 157.2,78.4 158.0,79.7 C158.9,81.0 158.8,83.5 158.5,85.7 C158.3,87.8 157.4,90.7 156.5,92.7 C155.6,94.7 154.5,96.3 153.0,97.7 C151.5,99.1 149.2,100.7 147.5,101.2 C145.8,101.7 144.1,101.5 143.0,100.7 C141.9,99.9 141.1,98.2 140.7,96.7 C140.3,95.2 140.2,93.5 140.5,91.7Z" fill="#8fd68b"/>
<path d="M112.6,118.7 C112.9,117.1 113.7,114.9 114.4,113.7 C115.1,112.6 116.2,111.6 116.9,111.7 C117.7,111.8 118.1,113.9 118.9,114.2 C119.8,114.6 120.9,113.6 121.9,113.7 C123.0,113.8 124.7,113.7 125.5,114.7 C126.2,115.7 126.5,118.1 126.5,119.7 C126.5,121.4 126.2,123.2 125.5,124.7 C124.7,126.3 123.0,127.8 121.9,128.8 C120.9,129.7 120.1,130.7 118.9,130.6 C117.8,130.4 116.0,128.9 114.9,127.8 C113.9,126.6 113.0,125.3 112.6,123.7 C112.2,122.2 112.3,120.4 112.6,118.7Z" fill="#40767c"/>
<path d="M145.7,111.7 C145.9,110.4 146.3,109.1 147.0,108.2 C147.7,107.3 148.9,106.7 150.0,106.5 C151.1,106.3 152.5,106.5 153.5,107.2 C154.5,107.9 155.7,109.6 156.0,110.7 C156.3,111.9 156.1,113.4 155.5,114.2 C154.9,115.1 153.6,115.6 152.5,115.7 C151.4,115.9 149.9,115.0 149.0,115.2 C148.1,115.5 147.6,117.1 147.0,117.2 C146.4,117.4 145.7,117.2 145.5,116.2 C145.3,115.3 145.4,113.1 145.7,111.7Z" fill="#7ecf88"/>
<path d="M77.4,103.7 C78.9,103.2 85.1,102.7 86.4,103.7 C87.7,104.7 85.6,107.9 85.2,109.7 C84.8,111.6 84.3,113.1 83.9,114.7 C83.5,116.4 83.1,117.9 82.9,119.7 C82.6,121.6 83.8,124.7 82.6,125.8 C81.4,126.8 76.7,126.9 75.7,125.8 C74.6,124.6 75.9,120.9 76.1,118.7 C76.3,116.6 76.7,114.7 76.9,112.7 C77.0,110.7 76.8,108.2 76.9,106.7 C76.9,105.2 75.8,104.2 77.4,103.7Z" fill="#40767c"/>
<path d="M73.3,122.9 C74.9,122.2 76.1,121.8 77.4,122.2 C78.7,122.7 80.5,124.3 81.2,125.8 C81.9,127.2 81.6,128.9 81.6,130.8 C81.5,132.6 81.5,134.8 81.0,136.8 C80.5,138.8 79.6,141.2 78.6,142.8 C77.5,144.3 76.1,145.5 74.5,146.0 C73.0,146.4 71.0,145.8 69.3,145.5 C67.6,145.2 65.7,144.9 64.3,144.0 C63.0,143.1 61.9,141.5 61.3,140.0 C60.7,138.5 60.3,136.6 60.6,135.0 C60.9,133.3 61.9,131.4 63.1,130.0 C64.4,128.5 66.4,127.6 68.1,126.5 C69.8,125.3 71.8,123.6 73.3,122.9Z" fill="#40767c"/>
<path d="M69.3,84.7 C70.1,84.3 73.1,85.2 73.8,84.2 C74.6,83.2 73.7,80.3 73.8,78.7 C74.0,77.0 74.1,75.3 74.8,74.1 C75.6,73.0 76.9,72.1 78.4,71.6 C79.8,71.1 81.8,70.9 83.4,71.1 C85.0,71.4 86.7,72.2 87.9,73.1 C89.0,74.1 89.7,75.2 90.4,76.7 C91.0,78.1 91.5,80.0 91.9,81.7 C92.3,83.3 92.8,84.8 92.9,86.7 C93.0,88.5 92.7,91.0 92.4,92.7 C92.1,94.4 91.5,95.4 90.9,96.7 C90.2,98.0 89.2,99.4 88.4,100.7 C87.5,102.0 86.7,103.8 85.9,104.7 C85.0,105.6 84.6,106.0 83.4,106.2 C82.1,106.5 79.5,106.8 78.4,106.2 C77.2,105.6 76.9,103.8 76.4,102.7 C75.8,101.6 75.3,100.7 74.8,99.7 C74.4,98.7 74.0,98.8 73.8,96.7 C73.7,94.6 74.6,88.9 73.8,87.2 C73.1,85.5 70.1,86.8 69.3,86.4 C68.6,86.0 68.6,85.0 69.3,84.7Z" fill="#40767c"/>
<path d="M90.4,83.7 C91.0,81.6 93.1,83.1 94.4,83.2 C95.7,83.2 97.1,83.5 98.4,83.9 C99.6,84.2 100.9,84.6 101.9,85.2 C102.9,85.7 103.5,86.7 104.4,87.2 C105.3,87.7 106.2,88.1 107.4,88.2 C108.6,88.3 110.3,87.4 111.4,87.7 C112.6,87.9 113.8,88.9 114.4,89.7 C115.0,90.4 115.5,91.5 115.1,92.2 C114.8,92.9 113.5,93.7 112.4,93.9 C111.3,94.1 109.8,93.3 108.4,93.4 C107.1,93.5 105.6,93.9 104.4,94.4 C103.2,94.9 102.6,96.1 101.4,96.4 C100.2,96.6 98.7,96.0 97.4,95.9 C96.1,95.8 94.6,95.7 93.4,95.7 C92.2,95.7 90.9,97.7 90.4,95.7 C89.9,93.7 89.7,85.8 90.4,83.7Z" fill="#40767c"/>
</g>
<rect x="0" y="0" width="164" height="150.8" fill="none" stroke="#505050" stroke-width="1.4"/>
</g>
<text x="117.6" y="1006.8" font-size="23" text-anchor="middle" fill="#111">LY6G</text>
<g transform="translate(35.6,1021.1)">
<g filter="url(#spk)">
<path d="M71.8,16.5 C71.8,15.1 72.1,13.0 72.8,11.5 C73.6,10.0 75.0,8.5 76.4,7.5 C77.7,6.5 79.4,5.7 80.9,5.5 C82.4,5.3 84.3,5.8 85.4,6.5 C86.5,7.2 87.0,8.4 87.4,9.5 C87.8,10.6 87.5,11.9 87.9,13.0 C88.2,14.2 89.4,15.4 89.4,16.5 C89.4,17.7 89.0,19.3 87.9,20.0 C86.7,20.8 84.1,20.8 82.4,21.0 C80.6,21.3 78.9,21.7 77.4,21.5 C75.9,21.4 74.3,20.9 73.3,20.0 C72.4,19.2 71.9,18.0 71.8,16.5Z" fill="#3b606d"/>
<path d="M5.0,80.0 C5.1,77.4 5.2,74.7 6.0,72.5 C6.8,70.3 8.2,68.5 10.0,67.0 C11.8,65.5 14.8,64.3 17.0,63.8 C19.2,63.3 21.4,63.8 23.0,64.0 C24.6,64.2 25.2,64.9 26.3,64.9 C27.4,64.9 28.1,64.1 29.5,63.9 C30.9,63.7 33.1,63.0 35.0,63.6 C36.9,64.2 39.2,65.8 41.0,67.5 C42.8,69.2 44.6,71.6 45.5,74.0 C46.4,76.4 46.7,79.4 46.5,82.0 C46.3,84.6 45.9,87.2 44.5,89.5 C43.1,91.8 40.3,93.7 38.0,95.5 C35.7,97.3 32.9,99.0 30.5,100.5 C28.1,102.0 25.9,105.0 23.7,104.8 C21.4,104.6 19.3,101.4 17.0,99.5 C14.7,97.6 11.9,95.4 10.0,93.5 C8.1,91.6 6.3,90.2 5.5,88.0 C4.7,85.8 4.9,82.6 5.0,80.0Z" fill="#427e80"/>
<path d="M111.4,58.6 C111.7,57.4 112.5,55.8 113.4,55.1 C114.3,54.4 115.8,54.4 116.9,54.6 C118.0,54.9 118.9,55.9 119.9,56.6 C121.0,57.4 122.3,58.3 123.4,59.1 C124.6,60.0 126.1,60.5 127.0,61.6 C127.8,62.7 128.5,64.5 128.5,65.6 C128.4,66.8 127.5,68.2 126.5,68.6 C125.5,69.1 123.8,68.8 122.4,68.4 C121.1,68.1 119.8,67.3 118.4,66.6 C117.1,66.0 115.5,65.4 114.4,64.6 C113.3,63.9 112.4,63.1 111.9,62.1 C111.4,61.1 111.2,59.8 111.4,58.6Z" fill="#3b606d"/>
<path d="M140.5,91.7 C140.8,89.8 141.3,87.5 142.5,85.7 C143.7,83.8 145.7,82.0 147.5,80.7 C149.3,79.4 151.8,78.0 153.5,77.9 C155.3,77.7 157.2,78.4 158.0,79.7 C158.9,81.0 158.8,83.5 158.5,85.7 C158.3,87.8 157.4,90.7 156.5,92.7 C155.6,94.7 154.5,96.3 153.0,97.7 C151.5,99.1 149.2,100.7 147.5,101.2 C145.8,101.7 144.1,101.5 143.0,100.7 C141.9,99.9 141.1,98.2 140.7,96.7 C140.3,95.2 140.2,93.5 140.5,91.7Z" fill="#395867"/>
<path d="M112.6,118.7 C112.9,117.1 113.7,114.9 114.4,113.7 C115.1,112.6 116.2,111.6 116.9,111.7 C117.7,111.8 118.1,113.9 118.9,114.2 C119.8,114.6 120.9,113.6 121.9,113.7 C123.0,113.8 124.7,113.7 125.5,114.7 C126.2,115.7 126.5,118.1 126.5,119.7 C126.5,121.4 126.2,123.2 125.5,124.7 C124.7,126.3 123.0,127.8 121.9,128.8 C120.9,129.7 120.1,130.7 118.9,130.6 C117.8,130.4 116.0,128.9 114.9,127.8 C113.9,126.6 113.0,125.3 112.6,123.7 C112.2,122.2 112.3,120.4 112.6,118.7Z" fill="#395867"/>
<path d="M145.7,111.7 C145.9,110.4 146.3,109.1 147.0,108.2 C147.7,107.3 148.9,106.7 150.0,106.5 C151.1,106.3 152.5,106.5 153.5,107.2 C154.5,107.9 155.7,109.6 156.0,110.7 C156.3,111.9 156.1,113.4 155.5,114.2 C154.9,115.1 153.6,115.6 152.5,115.7 C151.4,115.9 149.9,115.0 149.0,115.2 C148.1,115.5 147.6,117.1 147.0,117.2 C146.4,117.4 145.7,117.2 145.5,116.2 C145.3,115.3 145.4,113.1 145.7,111.7Z" fill="#3b606d"/>
<path d="M77.4,103.7 C78.9,103.2 85.1,102.7 86.4,103.7 C87.7,104.7 85.6,107.9 85.2,109.7 C84.8,111.6 84.3,113.1 83.9,114.7 C83.5,116.4 83.1,117.9 82.9,119.7 C82.6,121.6 83.8,124.7 82.6,125.8 C81.4,126.8 76.7,126.9 75.7,125.8 C74.6,124.6 75.9,120.9 76.1,118.7 C76.3,116.6 76.7,114.7 76.9,112.7 C77.0,110.7 76.8,108.2 76.9,106.7 C76.9,105.2 75.8,104.2 77.4,103.7Z" fill="#3d6b76"/>
<path d="M73.3,122.9 C74.9,122.2 76.1,121.8 77.4,122.2 C78.7,122.7 80.5,124.3 81.2,125.8 C81.9,127.2 81.6,128.9 81.6,130.8 C81.5,132.6 81.5,134.8 81.0,136.8 C80.5,138.8 79.6,141.2 78.6,142.8 C77.5,144.3 76.1,145.5 74.5,146.0 C73.0,146.4 71.0,145.8 69.3,145.5 C67.6,145.2 65.7,144.9 64.3,144.0 C63.0,143.1 61.9,141.5 61.3,140.0 C60.7,138.5 60.3,136.6 60.6,135.0 C60.9,133.3 61.9,131.4 63.1,130.0 C64.4,128.5 66.4,127.6 68.1,126.5 C69.8,125.3 71.8,123.6 73.3,122.9Z" fill="#c4e89a"/>
<path d="M69.3,84.7 C70.1,84.3 73.1,85.2 73.8,84.2 C74.6,83.2 73.7,80.3 73.8,78.7 C74.0,77.0 74.1,75.3 74.8,74.1 C75.6,73.0 76.9,72.1 78.4,71.6 C79.8,71.1 81.8,70.9 83.4,71.1 C85.0,71.4 86.7,72.2 87.9,73.1 C89.0,74.1 89.7,75.2 90.4,76.7 C91.0,78.1 91.5,80.0 91.9,81.7 C92.3,83.3 92.8,84.8 92.9,86.7 C93.0,88.5 92.7,91.0 92.4,92.7 C92.1,94.4 91.5,95.4 90.9,96.7 C90.2,98.0 89.2,99.4 88.4,100.7 C87.5,102.0 86.7,103.8 85.9,104.7 C85.0,105.6 84.6,106.0 83.4,106.2 C82.1,106.5 79.5,106.8 78.4,106.2 C77.2,105.6 76.9,103.8 76.4,102.7 C75.8,101.6 75.3,100.7 74.8,99.7 C74.4,98.7 74.0,98.8 73.8,96.7 C73.7,94.6 74.6,88.9 73.8,87.2 C73.1,85.5 70.1,86.8 69.3,86.4 C68.6,86.0 68.6,85.0 69.3,84.7Z" fill="#3d6b76"/>
<path d="M90.4,83.7 C91.0,81.6 93.1,83.1 94.4,83.2 C95.7,83.2 97.1,83.5 98.4,83.9 C99.6,84.2 100.9,84.6 101.9,85.2 C102.9,85.7 103.5,86.7 104.4,87.2 C105.3,87.7 106.2,88.1 107.4,88.2 C108.6,88.3 110.3,87.4 111.4,87.7 C112.6,87.9 113.8,88.9 114.4,89.7 C115.0,90.4 115.5,91.5 115.1,92.2 C114.8,92.9 113.5,93.7 112.4,93.9 C111.3,94.1 109.8,93.3 108.4,93.4 C107.1,93.5 105.6,93.9 104.4,94.4 C103.2,94.9 102.6,96.1 101.4,96.4 C100.2,96.6 98.7,96.0 97.4,95.9 C96.1,95.8 94.6,95.7 93.4,95.7 C92.2,95.7 90.9,97.7 90.4,95.7 C89.9,93.7 89.7,85.8 90.4,83.7Z" fill="#3d6b76"/>
</g>
<rect x="0" y="0" width="164" height="150.8" fill="none" stroke="#505050" stroke-width="1.4"/>
</g>
<text x="296.9" y="1006.8" font-size="23" text-anchor="middle" fill="#111">CD19</text>
<g transform="translate(214.9,1021.1)">
<g filter="url(#spk)">
<path d="M71.8,16.5 C71.8,15.1 72.1,13.0 72.8,11.5 C73.6,10.0 75.0,8.5 76.4,7.5 C77.7,6.5 79.4,5.7 80.9,5.5 C82.4,5.3 84.3,5.8 85.4,6.5 C86.5,7.2 87.0,8.4 87.4,9.5 C87.8,10.6 87.5,11.9 87.9,13.0 C88.2,14.2 89.4,15.4 89.4,16.5 C89.4,17.7 89.0,19.3 87.9,20.0 C86.7,20.8 84.1,20.8 82.4,21.0 C80.6,21.3 78.9,21.7 77.4,21.5 C75.9,21.4 74.3,20.9 73.3,20.0 C72.4,19.2 71.9,18.0 71.8,16.5Z" fill="#c4e89a"/>
<path d="M5.0,80.0 C5.1,77.4 5.2,74.7 6.0,72.5 C6.8,70.3 8.2,68.5 10.0,67.0 C11.8,65.5 14.8,64.3 17.0,63.8 C19.2,63.3 21.4,63.8 23.0,64.0 C24.6,64.2 25.2,64.9 26.3,64.9 C27.4,64.9 28.1,64.1 29.5,63.9 C30.9,63.7 33.1,63.0 35.0,63.6 C36.9,64.2 39.2,65.8 41.0,67.5 C42.8,69.2 44.6,71.6 45.5,74.0 C46.4,76.4 46.7,79.4 46.5,82.0 C46.3,84.6 45.9,87.2 44.5,89.5 C43.1,91.8 40.3,93.7 38.0,95.5 C35.7,97.3 32.9,99.0 30.5,100.5 C28.1,102.0 25.9,105.0 23.7,104.8 C21.4,104.6 19.3,101.4 17.0,99.5 C14.7,97.6 11.9,95.4 10.0,93.5 C8.1,91.6 6.3,90.2 5.5,88.0 C4.7,85.8 4.9,82.6 5.0,80.0Z" fill="#395867"/>
<path d="M111.4,58.6 C111.7,57.4 112.5,55.8 113.4,55.1 C114.3,54.4 115.8,54.4 116.9,54.6 C118.0,54.9 118.9,55.9 119.9,56.6 C121.0,57.4 122.3,58.3 123.4,59.1 C124.6,60.0 126.1,60.5 127.0,61.6 C127.8,62.7 128.5,64.5 128.5,65.6 C128.4,66.8 127.5,68.2 126.5,68.6 C125.5,69.1 123.8,68.8 122.4,68.4 C121.1,68.1 119.8,67.3 118.4,66.6 C117.1,66.0 115.5,65.4 114.4,64.6 C113.3,63.9 112.4,63.1 111.9,62.1 C111.4,61.1 111.2,59.8 111.4,58.6Z" fill="#3d6b76"/>
<path d="M140.5,91.7 C140.8,89.8 141.3,87.5 142.5,85.7 C143.7,83.8 145.7,82.0 147.5,80.7 C149.3,79.4 151.8,78.0 153.5,77.9 C155.3,77.7 157.2,78.4 158.0,79.7 C158.9,81.0 158.8,83.5 158.5,85.7 C158.3,87.8 157.4,90.7 156.5,92.7 C155.6,94.7 154.5,96.3 153.0,97.7 C151.5,99.1 149.2,100.7 147.5,101.2 C145.8,101.7 144.1,101.5 143.0,100.7 C141.9,99.9 141.1,98.2 140.7,96.7 C140.3,95.2 140.2,93.5 140.5,91.7Z" fill="#427e80"/>
<path d="M112.6,118.7 C112.9,117.1 113.7,114.9 114.4,113.7 C115.1,112.6 116.2,111.6 116.9,111.7 C117.7,111.8 118.1,113.9 118.9,114.2 C119.8,114.6 120.9,113.6 121.9,113.7 C123.0,113.8 124.7,113.7 125.5,114.7 C126.2,115.7 126.5,118.1 126.5,119.7 C126.5,121.4 126.2,123.2 125.5,124.7 C124.7,126.3 123.0,127.8 121.9,128.8 C120.9,129.7 120.1,130.7 118.9,130.6 C117.8,130.4 116.0,128.9 114.9,127.8 C113.9,126.6 113.0,125.3 112.6,123.7 C112.2,122.2 112.3,120.4 112.6,118.7Z" fill="#3b606d"/>
<path d="M145.7,111.7 C145.9,110.4 146.3,109.1 147.0,108.2 C147.7,107.3 148.9,106.7 150.0,106.5 C151.1,106.3 152.5,106.5 153.5,107.2 C154.5,107.9 155.7,109.6 156.0,110.7 C156.3,111.9 156.1,113.4 155.5,114.2 C154.9,115.1 153.6,115.6 152.5,115.7 C151.4,115.9 149.9,115.0 149.0,115.2 C148.1,115.5 147.6,117.1 147.0,117.2 C146.4,117.4 145.7,117.2 145.5,116.2 C145.3,115.3 145.4,113.1 145.7,111.7Z" fill="#427e80"/>
<path d="M77.4,103.7 C78.9,103.2 85.1,102.7 86.4,103.7 C87.7,104.7 85.6,107.9 85.2,109.7 C84.8,111.6 84.3,113.1 83.9,114.7 C83.5,116.4 83.1,117.9 82.9,119.7 C82.6,121.6 83.8,124.7 82.6,125.8 C81.4,126.8 76.7,126.9 75.7,125.8 C74.6,124.6 75.9,120.9 76.1,118.7 C76.3,116.6 76.7,114.7 76.9,112.7 C77.0,110.7 76.8,108.2 76.9,106.7 C76.9,105.2 75.8,104.2 77.4,103.7Z" fill="#3d6b76"/>
<path d="M73.3,122.9 C74.9,122.2 76.1,121.8 77.4,122.2 C78.7,122.7 80.5,124.3 81.2,125.8 C81.9,127.2 81.6,128.9 81.6,130.8 C81.5,132.6 81.5,134.8 81.0,136.8 C80.5,138.8 79.6,141.2 78.6,142.8 C77.5,144.3 76.1,145.5 74.5,146.0 C73.0,146.4 71.0,145.8 69.3,145.5 C67.6,145.2 65.7,144.9 64.3,144.0 C63.0,143.1 61.9,141.5 61.3,140.0 C60.7,138.5 60.3,136.6 60.6,135.0 C60.9,133.3 61.9,131.4 63.1,130.0 C64.4,128.5 66.4,127.6 68.1,126.5 C69.8,125.3 71.8,123.6 73.3,122.9Z" fill="#3d6b76"/>
<path d="M69.3,84.7 C70.1,84.3 73.1,85.2 73.8,84.2 C74.6,83.2 73.7,80.3 73.8,78.7 C74.0,77.0 74.1,75.3 74.8,74.1 C75.6,73.0 76.9,72.1 78.4,71.6 C79.8,71.1 81.8,70.9 83.4,71.1 C85.0,71.4 86.7,72.2 87.9,73.1 C89.0,74.1 89.7,75.2 90.4,76.7 C91.0,78.1 91.5,80.0 91.9,81.7 C92.3,83.3 92.8,84.8 92.9,86.7 C93.0,88.5 92.7,91.0 92.4,92.7 C92.1,94.4 91.5,95.4 90.9,96.7 C90.2,98.0 89.2,99.4 88.4,100.7 C87.5,102.0 86.7,103.8 85.9,104.7 C85.0,105.6 84.6,106.0 83.4,106.2 C82.1,106.5 79.5,106.8 78.4,106.2 C77.2,105.6 76.9,103.8 76.4,102.7 C75.8,101.6 75.3,100.7 74.8,99.7 C74.4,98.7 74.0,98.8 73.8,96.7 C73.7,94.6 74.6,88.9 73.8,87.2 C73.1,85.5 70.1,86.8 69.3,86.4 C68.6,86.0 68.6,85.0 69.3,84.7Z" fill="#3d6b76"/>
<path d="M90.4,83.7 C91.0,81.6 93.1,83.1 94.4,83.2 C95.7,83.2 97.1,83.5 98.4,83.9 C99.6,84.2 100.9,84.6 101.9,85.2 C102.9,85.7 103.5,86.7 104.4,87.2 C105.3,87.7 106.2,88.1 107.4,88.2 C108.6,88.3 110.3,87.4 111.4,87.7 C112.6,87.9 113.8,88.9 114.4,89.7 C115.0,90.4 115.5,91.5 115.1,92.2 C114.8,92.9 113.5,93.7 112.4,93.9 C111.3,94.1 109.8,93.3 108.4,93.4 C107.1,93.5 105.6,93.9 104.4,94.4 C103.2,94.9 102.6,96.1 101.4,96.4 C100.2,96.6 98.7,96.0 97.4,95.9 C96.1,95.8 94.6,95.7 93.4,95.7 C92.2,95.7 90.9,97.7 90.4,95.7 C89.9,93.7 89.7,85.8 90.4,83.7Z" fill="#3d6b76"/>
</g>
<rect x="0" y="0" width="164" height="150.8" fill="none" stroke="#505050" stroke-width="1.4"/>
</g>
<text x="476.2" y="1006.8" font-size="23" text-anchor="middle" fill="#111">CD44</text>
<g transform="translate(394.2,1021.1)">
<g filter="url(#spk)">
<path d="M71.8,16.5 C71.8,15.1 72.1,13.0 72.8,11.5 C73.6,10.0 75.0,8.5 76.4,7.5 C77.7,6.5 79.4,5.7 80.9,5.5 C82.4,5.3 84.3,5.8 85.4,6.5 C86.5,7.2 87.0,8.4 87.4,9.5 C87.8,10.6 87.5,11.9 87.9,13.0 C88.2,14.2 89.4,15.4 89.4,16.5 C89.4,17.7 89.0,19.3 87.9,20.0 C86.7,20.8 84.1,20.8 82.4,21.0 C80.6,21.3 78.9,21.7 77.4,21.5 C75.9,21.4 74.3,20.9 73.3,20.0 C72.4,19.2 71.9,18.0 71.8,16.5Z" fill="#4c9c83"/>
<path d="M5.0,80.0 C5.1,77.4 5.2,74.7 6.0,72.5 C6.8,70.3 8.2,68.5 10.0,67.0 C11.8,65.5 14.8,64.3 17.0,63.8 C19.2,63.3 21.4,63.8 23.0,64.0 C24.6,64.2 25.2,64.9 26.3,64.9 C27.4,64.9 28.1,64.1 29.5,63.9 C30.9,63.7 33.1,63.0 35.0,63.6 C36.9,64.2 39.2,65.8 41.0,67.5 C42.8,69.2 44.6,71.6 45.5,74.0 C46.4,76.4 46.7,79.4 46.5,82.0 C46.3,84.6 45.9,87.2 44.5,89.5 C43.1,91.8 40.3,93.7 38.0,95.5 C35.7,97.3 32.9,99.0 30.5,100.5 C28.1,102.0 25.9,105.0 23.7,104.8 C21.4,104.6 19.3,101.4 17.0,99.5 C14.7,97.6 11.9,95.4 10.0,93.5 C8.1,91.6 6.3,90.2 5.5,88.0 C4.7,85.8 4.9,82.6 5.0,80.0Z" fill="url(#g8B)"/>
<path d="M111.4,58.6 C111.7,57.4 112.5,55.8 113.4,55.1 C114.3,54.4 115.8,54.4 116.9,54.6 C118.0,54.9 118.9,55.9 119.9,56.6 C121.0,57.4 122.3,58.3 123.4,59.1 C124.6,60.0 126.1,60.5 127.0,61.6 C127.8,62.7 128.5,64.5 128.5,65.6 C128.4,66.8 127.5,68.2 126.5,68.6 C125.5,69.1 123.8,68.8 122.4,68.4 C121.1,68.1 119.8,67.3 118.4,66.6 C117.1,66.0 115.5,65.4 114.4,64.6 C113.3,63.9 112.4,63.1 111.9,62.1 C111.4,61.1 111.2,59.8 111.4,58.6Z" fill="#7ecf88"/>
<path d="M140.5,91.7 C140.8,89.8 141.3,87.5 142.5,85.7 C143.7,83.8 145.7,82.0 147.5,80.7 C149.3,79.4 151.8,78.0 153.5,77.9 C155.3,77.7 157.2,78.4 158.0,79.7 C158.9,81.0 158.8,83.5 158.5,85.7 C158.3,87.8 157.4,90.7 156.5,92.7 C155.6,94.7 154.5,96.3 153.0,97.7 C151.5,99.1 149.2,100.7 147.5,101.2 C145.8,101.7 144.1,101.5 143.0,100.7 C141.9,99.9 141.1,98.2 140.7,96.7 C140.3,95.2 140.2,93.5 140.5,91.7Z" fill="#8fd68b"/>
<path d="M112.6,118.7 C112.9,117.1 113.7,114.9 114.4,113.7 C115.1,112.6 116.2,111.6 116.9,111.7 C117.7,111.8 118.1,113.9 118.9,114.2 C119.8,114.6 120.9,113.6 121.9,113.7 C123.0,113.8 124.7,113.7 125.5,114.7 C126.2,115.7 126.5,118.1 126.5,119.7 C126.5,121.4 126.2,123.2 125.5,124.7 C124.7,126.3 123.0,127.8 121.9,128.8 C120.9,129.7 120.1,130.7 118.9,130.6 C117.8,130.4 116.0,128.9 114.9,127.8 C113.9,126.6 113.0,125.3 112.6,123.7 C112.2,122.2 112.3,120.4 112.6,118.7Z" fill="#a0dd8e"/>
<path d="M145.7,111.7 C145.9,110.4 146.3,109.1 147.0,108.2 C147.7,107.3 148.9,106.7 150.0,106.5 C151.1,106.3 152.5,106.5 153.5,107.2 C154.5,107.9 155.7,109.6 156.0,110.7 C156.3,111.9 156.1,113.4 155.5,114.2 C154.9,115.1 153.6,115.6 152.5,115.7 C151.4,115.9 149.9,115.0 149.0,115.2 C148.1,115.5 147.6,117.1 147.0,117.2 C146.4,117.4 145.7,117.2 145.5,116.2 C145.3,115.3 145.4,113.1 145.7,111.7Z" fill="#56ab84"/>
<path d="M77.4,103.7 C78.9,103.2 85.1,102.7 86.4,103.7 C87.7,104.7 85.6,107.9 85.2,109.7 C84.8,111.6 84.3,113.1 83.9,114.7 C83.5,116.4 83.1,117.9 82.9,119.7 C82.6,121.6 83.8,124.7 82.6,125.8 C81.4,126.8 76.7,126.9 75.7,125.8 C74.6,124.6 75.9,120.9 76.1,118.7 C76.3,116.6 76.7,114.7 76.9,112.7 C77.0,110.7 76.8,108.2 76.9,106.7 C76.9,105.2 75.8,104.2 77.4,103.7Z" fill="#a7df90"/>
<path d="M73.3,122.9 C74.9,122.2 76.1,121.8 77.4,122.2 C78.7,122.7 80.5,124.3 81.2,125.8 C81.9,127.2 81.6,128.9 81.6,130.8 C81.5,132.6 81.5,134.8 81.0,136.8 C80.5,138.8 79.6,141.2 78.6,142.8 C77.5,144.3 76.1,145.5 74.5,146.0 C73.0,146.4 71.0,145.8 69.3,145.5 C67.6,145.2 65.7,144.9 64.3,144.0 C63.0,143.1 61.9,141.5 61.3,140.0 C60.7,138.5 60.3,136.6 60.6,135.0 C60.9,133.3 61.9,131.4 63.1,130.0 C64.4,128.5 66.4,127.6 68.1,126.5 C69.8,125.3 71.8,123.6 73.3,122.9Z" fill="#a7df90"/>
<path d="M69.3,84.7 C70.1,84.3 73.1,85.2 73.8,84.2 C74.6,83.2 73.7,80.3 73.8,78.7 C74.0,77.0 74.1,75.3 74.8,74.1 C75.6,73.0 76.9,72.1 78.4,71.6 C79.8,71.1 81.8,70.9 83.4,71.1 C85.0,71.4 86.7,72.2 87.9,73.1 C89.0,74.1 89.7,75.2 90.4,76.7 C91.0,78.1 91.5,80.0 91.9,81.7 C92.3,83.3 92.8,84.8 92.9,86.7 C93.0,88.5 92.7,91.0 92.4,92.7 C92.1,94.4 91.5,95.4 90.9,96.7 C90.2,98.0 89.2,99.4 88.4,100.7 C87.5,102.0 86.7,103.8 85.9,104.7 C85.0,105.6 84.6,106.0 83.4,106.2 C82.1,106.5 79.5,106.8 78.4,106.2 C77.2,105.6 76.9,103.8 76.4,102.7 C75.8,101.6 75.3,100.7 74.8,99.7 C74.4,98.7 74.0,98.8 73.8,96.7 C73.7,94.6 74.6,88.9 73.8,87.2 C73.1,85.5 70.1,86.8 69.3,86.4 C68.6,86.0 68.6,85.0 69.3,84.7Z" fill="#b2e294"/>
<path d="M90.4,83.7 C91.0,81.6 93.1,83.1 94.4,83.2 C95.7,83.2 97.1,83.5 98.4,83.9 C99.6,84.2 100.9,84.6 101.9,85.2 C102.9,85.7 103.5,86.7 104.4,87.2 C105.3,87.7 106.2,88.1 107.4,88.2 C108.6,88.3 110.3,87.4 111.4,87.7 C112.6,87.9 113.8,88.9 114.4,89.7 C115.0,90.4 115.5,91.5 115.1,92.2 C114.8,92.9 113.5,93.7 112.4,93.9 C111.3,94.1 109.8,93.3 108.4,93.4 C107.1,93.5 105.6,93.9 104.4,94.4 C103.2,94.9 102.6,96.1 101.4,96.4 C100.2,96.6 98.7,96.0 97.4,95.9 C96.1,95.8 94.6,95.7 93.4,95.7 C92.2,95.7 90.9,97.7 90.4,95.7 C89.9,93.7 89.7,85.8 90.4,83.7Z" fill="#a0dd8e"/>
</g>
<rect x="0" y="0" width="164" height="150.8" fill="none" stroke="#505050" stroke-width="1.4"/>
</g>
<text x="655.5" y="1006.8" font-size="23" text-anchor="middle" fill="#111">CD88</text>
<g transform="translate(573.5,1021.1)">
<g filter="url(#spk)">
<path d="M71.8,16.5 C71.8,15.1 72.1,13.0 72.8,11.5 C73.6,10.0 75.0,8.5 76.4,7.5 C77.7,6.5 79.4,5.7 80.9,5.5 C82.4,5.3 84.3,5.8 85.4,6.5 C86.5,7.2 87.0,8.4 87.4,9.5 C87.8,10.6 87.5,11.9 87.9,13.0 C88.2,14.2 89.4,15.4 89.4,16.5 C89.4,17.7 89.0,19.3 87.9,20.0 C86.7,20.8 84.1,20.8 82.4,21.0 C80.6,21.3 78.9,21.7 77.4,21.5 C75.9,21.4 74.3,20.9 73.3,20.0 C72.4,19.2 71.9,18.0 71.8,16.5Z" fill="#427e80"/>
<path d="M5.0,80.0 C5.1,77.4 5.2,74.7 6.0,72.5 C6.8,70.3 8.2,68.5 10.0,67.0 C11.8,65.5 14.8,64.3 17.0,63.8 C19.2,63.3 21.4,63.8 23.0,64.0 C24.6,64.2 25.2,64.9 26.3,64.9 C27.4,64.9 28.1,64.1 29.5,63.9 C30.9,63.7 33.1,63.0 35.0,63.6 C36.9,64.2 39.2,65.8 41.0,67.5 C42.8,69.2 44.6,71.6 45.5,74.0 C46.4,76.4 46.7,79.4 46.5,82.0 C46.3,84.6 45.9,87.2 44.5,89.5 C43.1,91.8 40.3,93.7 38.0,95.5 C35.7,97.3 32.9,99.0 30.5,100.5 C28.1,102.0 25.9,105.0 23.7,104.8 C21.4,104.6 19.3,101.4 17.0,99.5 C14.7,97.6 11.9,95.4 10.0,93.5 C8.1,91.6 6.3,90.2 5.5,88.0 C4.7,85.8 4.9,82.6 5.0,80.0Z" fill="#4c9c83"/>
<path d="M111.4,58.6 C111.7,57.4 112.5,55.8 113.4,55.1 C114.3,54.4 115.8,54.4 116.9,54.6 C118.0,54.9 118.9,55.9 119.9,56.6 C121.0,57.4 122.3,58.3 123.4,59.1 C124.6,60.0 126.1,60.5 127.0,61.6 C127.8,62.7 128.5,64.5 128.5,65.6 C128.4,66.8 127.5,68.2 126.5,68.6 C125.5,69.1 123.8,68.8 122.4,68.4 C121.1,68.1 119.8,67.3 118.4,66.6 C117.1,66.0 115.5,65.4 114.4,64.6 C113.3,63.9 112.4,63.1 111.9,62.1 C111.4,61.1 111.2,59.8 111.4,58.6Z" fill="#427e80"/>
<path d="M140.5,91.7 C140.8,89.8 141.3,87.5 142.5,85.7 C143.7,83.8 145.7,82.0 147.5,80.7 C149.3,79.4 151.8,78.0 153.5,77.9 C155.3,77.7 157.2,78.4 158.0,79.7 C158.9,81.0 158.8,83.5 158.5,85.7 C158.3,87.8 157.4,90.7 156.5,92.7 C155.6,94.7 154.5,96.3 153.0,97.7 C151.5,99.1 149.2,100.7 147.5,101.2 C145.8,101.7 144.1,101.5 143.0,100.7 C141.9,99.9 141.1,98.2 140.7,96.7 C140.3,95.2 140.2,93.5 140.5,91.7Z" fill="#478d82"/>
<path d="M112.6,118.7 C112.9,117.1 113.7,114.9 114.4,113.7 C115.1,112.6 116.2,111.6 116.9,111.7 C117.7,111.8 118.1,113.9 118.9,114.2 C119.8,114.6 120.9,113.6 121.9,113.7 C123.0,113.8 124.7,113.7 125.5,114.7 C126.2,115.7 126.5,118.1 126.5,119.7 C126.5,121.4 126.2,123.2 125.5,124.7 C124.7,126.3 123.0,127.8 121.9,128.8 C120.9,129.7 120.1,130.7 118.9,130.6 C117.8,130.4 116.0,128.9 114.9,127.8 C113.9,126.6 113.0,125.3 112.6,123.7 C112.2,122.2 112.3,120.4 112.6,118.7Z" fill="#4c9c83"/>
<path d="M145.7,111.7 C145.9,110.4 146.3,109.1 147.0,108.2 C147.7,107.3 148.9,106.7 150.0,106.5 C151.1,106.3 152.5,106.5 153.5,107.2 C154.5,107.9 155.7,109.6 156.0,110.7 C156.3,111.9 156.1,113.4 155.5,114.2 C154.9,115.1 153.6,115.6 152.5,115.7 C151.4,115.9 149.9,115.0 149.0,115.2 C148.1,115.5 147.6,117.1 147.0,117.2 C146.4,117.4 145.7,117.2 145.5,116.2 C145.3,115.3 145.4,113.1 145.7,111.7Z" fill="#4c9c83"/>
<path d="M77.4,103.7 C78.9,103.2 85.1,102.7 86.4,103.7 C87.7,104.7 85.6,107.9 85.2,109.7 C84.8,111.6 84.3,113.1 83.9,114.7 C83.5,116.4 83.1,117.9 82.9,119.7 C82.6,121.6 83.8,124.7 82.6,125.8 C81.4,126.8 76.7,126.9 75.7,125.8 C74.6,124.6 75.9,120.9 76.1,118.7 C76.3,116.6 76.7,114.7 76.9,112.7 C77.0,110.7 76.8,108.2 76.9,106.7 C76.9,105.2 75.8,104.2 77.4,103.7Z" fill="#56ab84"/>
<path d="M73.3,122.9 C74.9,122.2 76.1,121.8 77.4,122.2 C78.7,122.7 80.5,124.3 81.2,125.8 C81.9,127.2 81.6,128.9 81.6,130.8 C81.5,132.6 81.5,134.8 81.0,136.8 C80.5,138.8 79.6,141.2 78.6,142.8 C77.5,144.3 76.1,145.5 74.5,146.0 C73.0,146.4 71.0,145.8 69.3,145.5 C67.6,145.2 65.7,144.9 64.3,144.0 C63.0,143.1 61.9,141.5 61.3,140.0 C60.7,138.5 60.3,136.6 60.6,135.0 C60.9,133.3 61.9,131.4 63.1,130.0 C64.4,128.5 66.4,127.6 68.1,126.5 C69.8,125.3 71.8,123.6 73.3,122.9Z" fill="#6fc486"/>
<path d="M69.3,84.7 C70.1,84.3 73.1,85.2 73.8,84.2 C74.6,83.2 73.7,80.3 73.8,78.7 C74.0,77.0 74.1,75.3 74.8,74.1 C75.6,73.0 76.9,72.1 78.4,71.6 C79.8,71.1 81.8,70.9 83.4,71.1 C85.0,71.4 86.7,72.2 87.9,73.1 C89.0,74.1 89.7,75.2 90.4,76.7 C91.0,78.1 91.5,80.0 91.9,81.7 C92.3,83.3 92.8,84.8 92.9,86.7 C93.0,88.5 92.7,91.0 92.4,92.7 C92.1,94.4 91.5,95.4 90.9,96.7 C90.2,98.0 89.2,99.4 88.4,100.7 C87.5,102.0 86.7,103.8 85.9,104.7 C85.0,105.6 84.6,106.0 83.4,106.2 C82.1,106.5 79.5,106.8 78.4,106.2 C77.2,105.6 76.9,103.8 76.4,102.7 C75.8,101.6 75.3,100.7 74.8,99.7 C74.4,98.7 74.0,98.8 73.8,96.7 C73.7,94.6 74.6,88.9 73.8,87.2 C73.1,85.5 70.1,86.8 69.3,86.4 C68.6,86.0 68.6,85.0 69.3,84.7Z" fill="#6fc486"/>
<path d="M90.4,83.7 C91.0,81.6 93.1,83.1 94.4,83.2 C95.7,83.2 97.1,83.5 98.4,83.9 C99.6,84.2 100.9,84.6 101.9,85.2 C102.9,85.7 103.5,86.7 104.4,87.2 C105.3,87.7 106.2,88.1 107.4,88.2 C108.6,88.3 110.3,87.4 111.4,87.7 C112.6,87.9 113.8,88.9 114.4,89.7 C115.0,90.4 115.5,91.5 115.1,92.2 C114.8,92.9 113.5,93.7 112.4,93.9 C111.3,94.1 109.8,93.3 108.4,93.4 C107.1,93.5 105.6,93.9 104.4,94.4 C103.2,94.9 102.6,96.1 101.4,96.4 C100.2,96.6 98.7,96.0 97.4,95.9 C96.1,95.8 94.6,95.7 93.4,95.7 C92.2,95.7 90.9,97.7 90.4,95.7 C89.9,93.7 89.7,85.8 90.4,83.7Z" fill="#478d82"/>
</g>
<rect x="0" y="0" width="164" height="150.8" fill="none" stroke="#505050" stroke-width="1.4"/>
</g>
<text x="834.8" y="1006.8" font-size="23" text-anchor="middle" fill="#111">CD64</text>
<g transform="translate(752.8,1021.1)">
<g filter="url(#spk)">
<path d="M71.8,16.5 C71.8,15.1 72.1,13.0 72.8,11.5 C73.6,10.0 75.0,8.5 76.4,7.5 C77.7,6.5 79.4,5.7 80.9,5.5 C82.4,5.3 84.3,5.8 85.4,6.5 C86.5,7.2 87.0,8.4 87.4,9.5 C87.8,10.6 87.5,11.9 87.9,13.0 C88.2,14.2 89.4,15.4 89.4,16.5 C89.4,17.7 89.0,19.3 87.9,20.0 C86.7,20.8 84.1,20.8 82.4,21.0 C80.6,21.3 78.9,21.7 77.4,21.5 C75.9,21.4 74.3,20.9 73.3,20.0 C72.4,19.2 71.9,18.0 71.8,16.5Z" fill="#3d6b76"/>
<path d="M5.0,80.0 C5.1,77.4 5.2,74.7 6.0,72.5 C6.8,70.3 8.2,68.5 10.0,67.0 C11.8,65.5 14.8,64.3 17.0,63.8 C19.2,63.3 21.4,63.8 23.0,64.0 C24.6,64.2 25.2,64.9 26.3,64.9 C27.4,64.9 28.1,64.1 29.5,63.9 C30.9,63.7 33.1,63.0 35.0,63.6 C36.9,64.2 39.2,65.8 41.0,67.5 C42.8,69.2 44.6,71.6 45.5,74.0 C46.4,76.4 46.7,79.4 46.5,82.0 C46.3,84.6 45.9,87.2 44.5,89.5 C43.1,91.8 40.3,93.7 38.0,95.5 C35.7,97.3 32.9,99.0 30.5,100.5 C28.1,102.0 25.9,105.0 23.7,104.8 C21.4,104.6 19.3,101.4 17.0,99.5 C14.7,97.6 11.9,95.4 10.0,93.5 C8.1,91.6 6.3,90.2 5.5,88.0 C4.7,85.8 4.9,82.6 5.0,80.0Z" fill="#a0dd8e"/>
<path d="M111.4,58.6 C111.7,57.4 112.5,55.8 113.4,55.1 C114.3,54.4 115.8,54.4 116.9,54.6 C118.0,54.9 118.9,55.9 119.9,56.6 C121.0,57.4 122.3,58.3 123.4,59.1 C124.6,60.0 126.1,60.5 127.0,61.6 C127.8,62.7 128.5,64.5 128.5,65.6 C128.4,66.8 127.5,68.2 126.5,68.6 C125.5,69.1 123.8,68.8 122.4,68.4 C121.1,68.1 119.8,67.3 118.4,66.6 C117.1,66.0 115.5,65.4 114.4,64.6 C113.3,63.9 112.4,63.1 111.9,62.1 C111.4,61.1 111.2,59.8 111.4,58.6Z" fill="#3b606d"/>
<path d="M140.5,91.7 C140.8,89.8 141.3,87.5 142.5,85.7 C143.7,83.8 145.7,82.0 147.5,80.7 C149.3,79.4 151.8,78.0 153.5,77.9 C155.3,77.7 157.2,78.4 158.0,79.7 C158.9,81.0 158.8,83.5 158.5,85.7 C158.3,87.8 157.4,90.7 156.5,92.7 C155.6,94.7 154.5,96.3 153.0,97.7 C151.5,99.1 149.2,100.7 147.5,101.2 C145.8,101.7 144.1,101.5 143.0,100.7 C141.9,99.9 141.1,98.2 140.7,96.7 C140.3,95.2 140.2,93.5 140.5,91.7Z" fill="#395867"/>
<path d="M112.6,118.7 C112.9,117.1 113.7,114.9 114.4,113.7 C115.1,112.6 116.2,111.6 116.9,111.7 C117.7,111.8 118.1,113.9 118.9,114.2 C119.8,114.6 120.9,113.6 121.9,113.7 C123.0,113.8 124.7,113.7 125.5,114.7 C126.2,115.7 126.5,118.1 126.5,119.7 C126.5,121.4 126.2,123.2 125.5,124.7 C124.7,126.3 123.0,127.8 121.9,128.8 C120.9,129.7 120.1,130.7 118.9,130.6 C117.8,130.4 116.0,128.9 114.9,127.8 C113.9,126.6 113.0,125.3 112.6,123.7 C112.2,122.2 112.3,120.4 112.6,118.7Z" fill="#427e80"/>
<path d="M145.7,111.7 C145.9,110.4 146.3,109.1 147.0,108.2 C147.7,107.3 148.9,106.7 150.0,106.5 C151.1,106.3 152.5,106.5 153.5,107.2 C154.5,107.9 155.7,109.6 156.0,110.7 C156.3,111.9 156.1,113.4 155.5,114.2 C154.9,115.1 153.6,115.6 152.5,115.7 C151.4,115.9 149.9,115.0 149.0,115.2 C148.1,115.5 147.6,117.1 147.0,117.2 C146.4,117.4 145.7,117.2 145.5,116.2 C145.3,115.3 145.4,113.1 145.7,111.7Z" fill="#4c9c83"/>
<path d="M77.4,103.7 C78.9,103.2 85.1,102.7 86.4,103.7 C87.7,104.7 85.6,107.9 85.2,109.7 C84.8,111.6 84.3,113.1 83.9,114.7 C83.5,116.4 83.1,117.9 82.9,119.7 C82.6,121.6 83.8,124.7 82.6,125.8 C81.4,126.8 76.7,126.9 75.7,125.8 C74.6,124.6 75.9,120.9 76.1,118.7 C76.3,116.6 76.7,114.7 76.9,112.7 C77.0,110.7 76.8,108.2 76.9,106.7 C76.9,105.2 75.8,104.2 77.4,103.7Z" fill="#395867"/>
<path d="M73.3,122.9 C74.9,122.2 76.1,121.8 77.4,122.2 C78.7,122.7 80.5,124.3 81.2,125.8 C81.9,127.2 81.6,128.9 81.6,130.8 C81.5,132.6 81.5,134.8 81.0,136.8 C80.5,138.8 79.6,141.2 78.6,142.8 C77.5,144.3 76.1,145.5 74.5,146.0 C73.0,146.4 71.0,145.8 69.3,145.5 C67.6,145.2 65.7,144.9 64.3,144.0 C63.0,143.1 61.9,141.5 61.3,140.0 C60.7,138.5 60.3,136.6 60.6,135.0 C60.9,133.3 61.9,131.4 63.1,130.0 C64.4,128.5 66.4,127.6 68.1,126.5 C69.8,125.3 71.8,123.6 73.3,122.9Z" fill="#395867"/>
<path d="M69.3,84.7 C70.1,84.3 73.1,85.2 73.8,84.2 C74.6,83.2 73.7,80.3 73.8,78.7 C74.0,77.0 74.1,75.3 74.8,74.1 C75.6,73.0 76.9,72.1 78.4,71.6 C79.8,71.1 81.8,70.9 83.4,71.1 C85.0,71.4 86.7,72.2 87.9,73.1 C89.0,74.1 89.7,75.2 90.4,76.7 C91.0,78.1 91.5,80.0 91.9,81.7 C92.3,83.3 92.8,84.8 92.9,86.7 C93.0,88.5 92.7,91.0 92.4,92.7 C92.1,94.4 91.5,95.4 90.9,96.7 C90.2,98.0 89.2,99.4 88.4,100.7 C87.5,102.0 86.7,103.8 85.9,104.7 C85.0,105.6 84.6,106.0 83.4,106.2 C82.1,106.5 79.5,106.8 78.4,106.2 C77.2,105.6 76.9,103.8 76.4,102.7 C75.8,101.6 75.3,100.7 74.8,99.7 C74.4,98.7 74.0,98.8 73.8,96.7 C73.7,94.6 74.6,88.9 73.8,87.2 C73.1,85.5 70.1,86.8 69.3,86.4 C68.6,86.0 68.6,85.0 69.3,84.7Z" fill="#7ecf88"/>
<path d="M90.4,83.7 C91.0,81.6 93.1,83.1 94.4,83.2 C95.7,83.2 97.1,83.5 98.4,83.9 C99.6,84.2 100.9,84.6 101.9,85.2 C102.9,85.7 103.5,86.7 104.4,87.2 C105.3,87.7 106.2,88.1 107.4,88.2 C108.6,88.3 110.3,87.4 111.4,87.7 C112.6,87.9 113.8,88.9 114.4,89.7 C115.0,90.4 115.5,91.5 115.1,92.2 C114.8,92.9 113.5,93.7 112.4,93.9 C111.3,94.1 109.8,93.3 108.4,93.4 C107.1,93.5 105.6,93.9 104.4,94.4 C103.2,94.9 102.6,96.1 101.4,96.4 C100.2,96.6 98.7,96.0 97.4,95.9 C96.1,95.8 94.6,95.7 93.4,95.7 C92.2,95.7 90.9,97.7 90.4,95.7 C89.9,93.7 89.7,85.8 90.4,83.7Z" fill="#4c9c83"/>
</g>
<rect x="0" y="0" width="164" height="150.8" fill="none" stroke="#505050" stroke-width="1.4"/>
</g>
<text x="1014.1" y="1006.8" font-size="23" text-anchor="middle" fill="#111">CD11b</text>
<g transform="translate(932.1,1021.1)">
<g filter="url(#spk)">
<path d="M71.8,16.5 C71.8,15.1 72.1,13.0 72.8,11.5 C73.6,10.0 75.0,8.5 76.4,7.5 C77.7,6.5 79.4,5.7 80.9,5.5 C82.4,5.3 84.3,5.8 85.4,6.5 C86.5,7.2 87.0,8.4 87.4,9.5 C87.8,10.6 87.5,11.9 87.9,13.0 C88.2,14.2 89.4,15.4 89.4,16.5 C89.4,17.7 89.0,19.3 87.9,20.0 C86.7,20.8 84.1,20.8 82.4,21.0 C80.6,21.3 78.9,21.7 77.4,21.5 C75.9,21.4 74.3,20.9 73.3,20.0 C72.4,19.2 71.9,18.0 71.8,16.5Z" fill="#427e80"/>
<path d="M5.0,80.0 C5.1,77.4 5.2,74.7 6.0,72.5 C6.8,70.3 8.2,68.5 10.0,67.0 C11.8,65.5 14.8,64.3 17.0,63.8 C19.2,63.3 21.4,63.8 23.0,64.0 C24.6,64.2 25.2,64.9 26.3,64.9 C27.4,64.9 28.1,64.1 29.5,63.9 C30.9,63.7 33.1,63.0 35.0,63.6 C36.9,64.2 39.2,65.8 41.0,67.5 C42.8,69.2 44.6,71.6 45.5,74.0 C46.4,76.4 46.7,79.4 46.5,82.0 C46.3,84.6 45.9,87.2 44.5,89.5 C43.1,91.8 40.3,93.7 38.0,95.5 C35.7,97.3 32.9,99.0 30.5,100.5 C28.1,102.0 25.9,105.0 23.7,104.8 C21.4,104.6 19.3,101.4 17.0,99.5 C14.7,97.6 11.9,95.4 10.0,93.5 C8.1,91.6 6.3,90.2 5.5,88.0 C4.7,85.8 4.9,82.6 5.0,80.0Z" fill="#a0dd8e"/>
<path d="M111.4,58.6 C111.7,57.4 112.5,55.8 113.4,55.1 C114.3,54.4 115.8,54.4 116.9,54.6 C118.0,54.9 118.9,55.9 119.9,56.6 C121.0,57.4 122.3,58.3 123.4,59.1 C124.6,60.0 126.1,60.5 127.0,61.6 C127.8,62.7 128.5,64.5 128.5,65.6 C128.4,66.8 127.5,68.2 126.5,68.6 C125.5,69.1 123.8,68.8 122.4,68.4 C121.1,68.1 119.8,67.3 118.4,66.6 C117.1,66.0 115.5,65.4 114.4,64.6 C113.3,63.9 112.4,63.1 111.9,62.1 C111.4,61.1 111.2,59.8 111.4,58.6Z" fill="#427e80"/>
<path d="M140.5,91.7 C140.8,89.8 141.3,87.5 142.5,85.7 C143.7,83.8 145.7,82.0 147.5,80.7 C149.3,79.4 151.8,78.0 153.5,77.9 C155.3,77.7 157.2,78.4 158.0,79.7 C158.9,81.0 158.8,83.5 158.5,85.7 C158.3,87.8 157.4,90.7 156.5,92.7 C155.6,94.7 154.5,96.3 153.0,97.7 C151.5,99.1 149.2,100.7 147.5,101.2 C145.8,101.7 144.1,101.5 143.0,100.7 C141.9,99.9 141.1,98.2 140.7,96.7 C140.3,95.2 140.2,93.5 140.5,91.7Z" fill="#395867"/>
<path d="M112.6,118.7 C112.9,117.1 113.7,114.9 114.4,113.7 C115.1,112.6 116.2,111.6 116.9,111.7 C117.7,111.8 118.1,113.9 118.9,114.2 C119.8,114.6 120.9,113.6 121.9,113.7 C123.0,113.8 124.7,113.7 125.5,114.7 C126.2,115.7 126.5,118.1 126.5,119.7 C126.5,121.4 126.2,123.2 125.5,124.7 C124.7,126.3 123.0,127.8 121.9,128.8 C120.9,129.7 120.1,130.7 118.9,130.6 C117.8,130.4 116.0,128.9 114.9,127.8 C113.9,126.6 113.0,125.3 112.6,123.7 C112.2,122.2 112.3,120.4 112.6,118.7Z" fill="#3d6b76"/>
<path d="M145.7,111.7 C145.9,110.4 146.3,109.1 147.0,108.2 C147.7,107.3 148.9,106.7 150.0,106.5 C151.1,106.3 152.5,106.5 153.5,107.2 C154.5,107.9 155.7,109.6 156.0,110.7 C156.3,111.9 156.1,113.4 155.5,114.2 C154.9,115.1 153.6,115.6 152.5,115.7 C151.4,115.9 149.9,115.0 149.0,115.2 C148.1,115.5 147.6,117.1 147.0,117.2 C146.4,117.4 145.7,117.2 145.5,116.2 C145.3,115.3 145.4,113.1 145.7,111.7Z" fill="#427e80"/>
<path d="M77.4,103.7 C78.9,103.2 85.1,102.7 86.4,103.7 C87.7,104.7 85.6,107.9 85.2,109.7 C84.8,111.6 84.3,113.1 83.9,114.7 C83.5,116.4 83.1,117.9 82.9,119.7 C82.6,121.6 83.8,124.7 82.6,125.8 C81.4,126.8 76.7,126.9 75.7,125.8 C74.6,124.6 75.9,120.9 76.1,118.7 C76.3,116.6 76.7,114.7 76.9,112.7 C77.0,110.7 76.8,108.2 76.9,106.7 C76.9,105.2 75.8,104.2 77.4,103.7Z" fill="#a7df90"/>
<path d="M73.3,122.9 C74.9,122.2 76.1,121.8 77.4,122.2 C78.7,122.7 80.5,124.3 81.2,125.8 C81.9,127.2 81.6,128.9 81.6,130.8 C81.5,132.6 81.5,134.8 81.0,136.8 C80.5,138.8 79.6,141.2 78.6,142.8 C77.5,144.3 76.1,145.5 74.5,146.0 C73.0,146.4 71.0,145.8 69.3,145.5 C67.6,145.2 65.7,144.9 64.3,144.0 C63.0,143.1 61.9,141.5 61.3,140.0 C60.7,138.5 60.3,136.6 60.6,135.0 C60.9,133.3 61.9,131.4 63.1,130.0 C64.4,128.5 66.4,127.6 68.1,126.5 C69.8,125.3 71.8,123.6 73.3,122.9Z" fill="#b2e294"/>
<path d="M69.3,84.7 C70.1,84.3 73.1,85.2 73.8,84.2 C74.6,83.2 73.7,80.3 73.8,78.7 C74.0,77.0 74.1,75.3 74.8,74.1 C75.6,73.0 76.9,72.1 78.4,71.6 C79.8,71.1 81.8,70.9 83.4,71.1 C85.0,71.4 86.7,72.2 87.9,73.1 C89.0,74.1 89.7,75.2 90.4,76.7 C91.0,78.1 91.5,80.0 91.9,81.7 C92.3,83.3 92.8,84.8 92.9,86.7 C93.0,88.5 92.7,91.0 92.4,92.7 C92.1,94.4 91.5,95.4 90.9,96.7 C90.2,98.0 89.2,99.4 88.4,100.7 C87.5,102.0 86.7,103.8 85.9,104.7 C85.0,105.6 84.6,106.0 83.4,106.2 C82.1,106.5 79.5,106.8 78.4,106.2 C77.2,105.6 76.9,103.8 76.4,102.7 C75.8,101.6 75.3,100.7 74.8,99.7 C74.4,98.7 74.0,98.8 73.8,96.7 C73.7,94.6 74.6,88.9 73.8,87.2 C73.1,85.5 70.1,86.8 69.3,86.4 C68.6,86.0 68.6,85.0 69.3,84.7Z" fill="#a7df90"/>
<path d="M90.4,83.7 C91.0,81.6 93.1,83.1 94.4,83.2 C95.7,83.2 97.1,83.5 98.4,83.9 C99.6,84.2 100.9,84.6 101.9,85.2 C102.9,85.7 103.5,86.7 104.4,87.2 C105.3,87.7 106.2,88.1 107.4,88.2 C108.6,88.3 110.3,87.4 111.4,87.7 C112.6,87.9 113.8,88.9 114.4,89.7 C115.0,90.4 115.5,91.5 115.1,92.2 C114.8,92.9 113.5,93.7 112.4,93.9 C111.3,94.1 109.8,93.3 108.4,93.4 C107.1,93.5 105.6,93.9 104.4,94.4 C103.2,94.9 102.6,96.1 101.4,96.4 C100.2,96.6 98.7,96.0 97.4,95.9 C96.1,95.8 94.6,95.7 93.4,95.7 C92.2,95.7 90.9,97.7 90.4,95.7 C89.9,93.7 89.7,85.8 90.4,83.7Z" fill="#5fba85"/>
</g>
<rect x="0" y="0" width="164" height="150.8" fill="none" stroke="#505050" stroke-width="1.4"/>
</g>
<text x="117.6" y="1218.5" font-size="23" text-anchor="middle" fill="#111">CX3CR1</text>
<g transform="translate(35.6,1232.8)">
<g filter="url(#spk)">
<path d="M71.8,16.5 C71.8,15.1 72.1,13.0 72.8,11.5 C73.6,10.0 75.0,8.5 76.4,7.5 C77.7,6.5 79.4,5.7 80.9,5.5 C82.4,5.3 84.3,5.8 85.4,6.5 C86.5,7.2 87.0,8.4 87.4,9.5 C87.8,10.6 87.5,11.9 87.9,13.0 C88.2,14.2 89.4,15.4 89.4,16.5 C89.4,17.7 89.0,19.3 87.9,20.0 C86.7,20.8 84.1,20.8 82.4,21.0 C80.6,21.3 78.9,21.7 77.4,21.5 C75.9,21.4 74.3,20.9 73.3,20.0 C72.4,19.2 71.9,18.0 71.8,16.5Z" fill="#3d6b76"/>
<path d="M5.0,80.0 C5.1,77.4 5.2,74.7 6.0,72.5 C6.8,70.3 8.2,68.5 10.0,67.0 C11.8,65.5 14.8,64.3 17.0,63.8 C19.2,63.3 21.4,63.8 23.0,64.0 C24.6,64.2 25.2,64.9 26.3,64.9 C27.4,64.9 28.1,64.1 29.5,63.9 C30.9,63.7 33.1,63.0 35.0,63.6 C36.9,64.2 39.2,65.8 41.0,67.5 C42.8,69.2 44.6,71.6 45.5,74.0 C46.4,76.4 46.7,79.4 46.5,82.0 C46.3,84.6 45.9,87.2 44.5,89.5 C43.1,91.8 40.3,93.7 38.0,95.5 C35.7,97.3 32.9,99.0 30.5,100.5 C28.1,102.0 25.9,105.0 23.7,104.8 C21.4,104.6 19.3,101.4 17.0,99.5 C14.7,97.6 11.9,95.4 10.0,93.5 C8.1,91.6 6.3,90.2 5.5,88.0 C4.7,85.8 4.9,82.6 5.0,80.0Z" fill="#c4e89a"/>
<path d="M111.4,58.6 C111.7,57.4 112.5,55.8 113.4,55.1 C114.3,54.4 115.8,54.4 116.9,54.6 C118.0,54.9 118.9,55.9 119.9,56.6 C121.0,57.4 122.3,58.3 123.4,59.1 C124.6,60.0 126.1,60.5 127.0,61.6 C127.8,62.7 128.5,64.5 128.5,65.6 C128.4,66.8 127.5,68.2 126.5,68.6 C125.5,69.1 123.8,68.8 122.4,68.4 C121.1,68.1 119.8,67.3 118.4,66.6 C117.1,66.0 115.5,65.4 114.4,64.6 C113.3,63.9 112.4,63.1 111.9,62.1 C111.4,61.1 111.2,59.8 111.4,58.6Z" fill="#3b606d"/>
<path d="M140.5,91.7 C140.8,89.8 141.3,87.5 142.5,85.7 C143.7,83.8 145.7,82.0 147.5,80.7 C149.3,79.4 151.8,78.0 153.5,77.9 C155.3,77.7 157.2,78.4 158.0,79.7 C158.9,81.0 158.8,83.5 158.5,85.7 C158.3,87.8 157.4,90.7 156.5,92.7 C155.6,94.7 154.5,96.3 153.0,97.7 C151.5,99.1 149.2,100.7 147.5,101.2 C145.8,101.7 144.1,101.5 143.0,100.7 C141.9,99.9 141.1,98.2 140.7,96.7 C140.3,95.2 140.2,93.5 140.5,91.7Z" fill="#333b4e"/>
<path d="M112.6,118.7 C112.9,117.1 113.7,114.9 114.4,113.7 C115.1,112.6 116.2,111.6 116.9,111.7 C117.7,111.8 118.1,113.9 118.9,114.2 C119.8,114.6 120.9,113.6 121.9,113.7 C123.0,113.8 124.7,113.7 125.5,114.7 C126.2,115.7 126.5,118.1 126.5,119.7 C126.5,121.4 126.2,123.2 125.5,124.7 C124.7,126.3 123.0,127.8 121.9,128.8 C120.9,129.7 120.1,130.7 118.9,130.6 C117.8,130.4 116.0,128.9 114.9,127.8 C113.9,126.6 113.0,125.3 112.6,123.7 C112.2,122.2 112.3,120.4 112.6,118.7Z" fill="#4c9c83"/>
<path d="M145.7,111.7 C145.9,110.4 146.3,109.1 147.0,108.2 C147.7,107.3 148.9,106.7 150.0,106.5 C151.1,106.3 152.5,106.5 153.5,107.2 C154.5,107.9 155.7,109.6 156.0,110.7 C156.3,111.9 156.1,113.4 155.5,114.2 C154.9,115.1 153.6,115.6 152.5,115.7 C151.4,115.9 149.9,115.0 149.0,115.2 C148.1,115.5 147.6,117.1 147.0,117.2 C146.4,117.4 145.7,117.2 145.5,116.2 C145.3,115.3 145.4,113.1 145.7,111.7Z" fill="#478d82"/>
<path d="M77.4,103.7 C78.9,103.2 85.1,102.7 86.4,103.7 C87.7,104.7 85.6,107.9 85.2,109.7 C84.8,111.6 84.3,113.1 83.9,114.7 C83.5,116.4 83.1,117.9 82.9,119.7 C82.6,121.6 83.8,124.7 82.6,125.8 C81.4,126.8 76.7,126.9 75.7,125.8 C74.6,124.6 75.9,120.9 76.1,118.7 C76.3,116.6 76.7,114.7 76.9,112.7 C77.0,110.7 76.8,108.2 76.9,106.7 C76.9,105.2 75.8,104.2 77.4,103.7Z" fill="#375060"/>
<path d="M73.3,122.9 C74.9,122.2 76.1,121.8 77.4,122.2 C78.7,122.7 80.5,124.3 81.2,125.8 C81.9,127.2 81.6,128.9 81.6,130.8 C81.5,132.6 81.5,134.8 81.0,136.8 C80.5,138.8 79.6,141.2 78.6,142.8 C77.5,144.3 76.1,145.5 74.5,146.0 C73.0,146.4 71.0,145.8 69.3,145.5 C67.6,145.2 65.7,144.9 64.3,144.0 C63.0,143.1 61.9,141.5 61.3,140.0 C60.7,138.5 60.3,136.6 60.6,135.0 C60.9,133.3 61.9,131.4 63.1,130.0 C64.4,128.5 66.4,127.6 68.1,126.5 C69.8,125.3 71.8,123.6 73.3,122.9Z" fill="#375060"/>
<path d="M69.3,84.7 C70.1,84.3 73.1,85.2 73.8,84.2 C74.6,83.2 73.7,80.3 73.8,78.7 C74.0,77.0 74.1,75.3 74.8,74.1 C75.6,73.0 76.9,72.1 78.4,71.6 C79.8,71.1 81.8,70.9 83.4,71.1 C85.0,71.4 86.7,72.2 87.9,73.1 C89.0,74.1 89.7,75.2 90.4,76.7 C91.0,78.1 91.5,80.0 91.9,81.7 C92.3,83.3 92.8,84.8 92.9,86.7 C93.0,88.5 92.7,91.0 92.4,92.7 C92.1,94.4 91.5,95.4 90.9,96.7 C90.2,98.0 89.2,99.4 88.4,100.7 C87.5,102.0 86.7,103.8 85.9,104.7 C85.0,105.6 84.6,106.0 83.4,106.2 C82.1,106.5 79.5,106.8 78.4,106.2 C77.2,105.6 76.9,103.8 76.4,102.7 C75.8,101.6 75.3,100.7 74.8,99.7 C74.4,98.7 74.0,98.8 73.8,96.7 C73.7,94.6 74.6,88.9 73.8,87.2 C73.1,85.5 70.1,86.8 69.3,86.4 C68.6,86.0 68.6,85.0 69.3,84.7Z" fill="#56ab84"/>
<path d="M90.4,83.7 C91.0,81.6 93.1,83.1 94.4,83.2 C95.7,83.2 97.1,83.5 98.4,83.9 C99.6,84.2 100.9,84.6 101.9,85.2 C102.9,85.7 103.5,86.7 104.4,87.2 C105.3,87.7 106.2,88.1 107.4,88.2 C108.6,88.3 110.3,87.4 111.4,87.7 C112.6,87.9 113.8,88.9 114.4,89.7 C115.0,90.4 115.5,91.5 115.1,92.2 C114.8,92.9 113.5,93.7 112.4,93.9 C111.3,94.1 109.8,93.3 108.4,93.4 C107.1,93.5 105.6,93.9 104.4,94.4 C103.2,94.9 102.6,96.1 101.4,96.4 C100.2,96.6 98.7,96.0 97.4,95.9 C96.1,95.8 94.6,95.7 93.4,95.7 C92.2,95.7 90.9,97.7 90.4,95.7 C89.9,93.7 89.7,85.8 90.4,83.7Z" fill="#478d82"/>
</g>
<rect x="0" y="0" width="164" height="150.8" fill="none" stroke="#505050" stroke-width="1.4"/>
</g>
<text x="296.9" y="1218.5" font-size="23" text-anchor="middle" fill="#111">LY6C</text>
<g transform="translate(214.9,1232.8)">
<g filter="url(#spk)">
<path d="M71.8,16.5 C71.8,15.1 72.1,13.0 72.8,11.5 C73.6,10.0 75.0,8.5 76.4,7.5 C77.7,6.5 79.4,5.7 80.9,5.5 C82.4,5.3 84.3,5.8 85.4,6.5 C86.5,7.2 87.0,8.4 87.4,9.5 C87.8,10.6 87.5,11.9 87.9,13.0 C88.2,14.2 89.4,15.4 89.4,16.5 C89.4,17.7 89.0,19.3 87.9,20.0 C86.7,20.8 84.1,20.8 82.4,21.0 C80.6,21.3 78.9,21.7 77.4,21.5 C75.9,21.4 74.3,20.9 73.3,20.0 C72.4,19.2 71.9,18.0 71.8,16.5Z" fill="#3d6b76"/>
<path d="M5.0,80.0 C5.1,77.4 5.2,74.7 6.0,72.5 C6.8,70.3 8.2,68.5 10.0,67.0 C11.8,65.5 14.8,64.3 17.0,63.8 C19.2,63.3 21.4,63.8 23.0,64.0 C24.6,64.2 25.2,64.9 26.3,64.9 C27.4,64.9 28.1,64.1 29.5,63.9 C30.9,63.7 33.1,63.0 35.0,63.6 C36.9,64.2 39.2,65.8 41.0,67.5 C42.8,69.2 44.6,71.6 45.5,74.0 C46.4,76.4 46.7,79.4 46.5,82.0 C46.3,84.6 45.9,87.2 44.5,89.5 C43.1,91.8 40.3,93.7 38.0,95.5 C35.7,97.3 32.9,99.0 30.5,100.5 C28.1,102.0 25.9,105.0 23.7,104.8 C21.4,104.6 19.3,101.4 17.0,99.5 C14.7,97.6 11.9,95.4 10.0,93.5 C8.1,91.6 6.3,90.2 5.5,88.0 C4.7,85.8 4.9,82.6 5.0,80.0Z" fill="url(#g13B)"/>
<path d="M111.4,58.6 C111.7,57.4 112.5,55.8 113.4,55.1 C114.3,54.4 115.8,54.4 116.9,54.6 C118.0,54.9 118.9,55.9 119.9,56.6 C121.0,57.4 122.3,58.3 123.4,59.1 C124.6,60.0 126.1,60.5 127.0,61.6 C127.8,62.7 128.5,64.5 128.5,65.6 C128.4,66.8 127.5,68.2 126.5,68.6 C125.5,69.1 123.8,68.8 122.4,68.4 C121.1,68.1 119.8,67.3 118.4,66.6 C117.1,66.0 115.5,65.4 114.4,64.6 C113.3,63.9 112.4,63.1 111.9,62.1 C111.4,61.1 111.2,59.8 111.4,58.6Z" fill="#478d82"/>
<path d="M140.5,91.7 C140.8,89.8 141.3,87.5 142.5,85.7 C143.7,83.8 145.7,82.0 147.5,80.7 C149.3,79.4 151.8,78.0 153.5,77.9 C155.3,77.7 157.2,78.4 158.0,79.7 C158.9,81.0 158.8,83.5 158.5,85.7 C158.3,87.8 157.4,90.7 156.5,92.7 C155.6,94.7 154.5,96.3 153.0,97.7 C151.5,99.1 149.2,100.7 147.5,101.2 C145.8,101.7 144.1,101.5 143.0,100.7 C141.9,99.9 141.1,98.2 140.7,96.7 C140.3,95.2 140.2,93.5 140.5,91.7Z" fill="#4c9c83"/>
<path d="M112.6,118.7 C112.9,117.1 113.7,114.9 114.4,113.7 C115.1,112.6 116.2,111.6 116.9,111.7 C117.7,111.8 118.1,113.9 118.9,114.2 C119.8,114.6 120.9,113.6 121.9,113.7 C123.0,113.8 124.7,113.7 125.5,114.7 C126.2,115.7 126.5,118.1 126.5,119.7 C126.5,121.4 126.2,123.2 125.5,124.7 C124.7,126.3 123.0,127.8 121.9,128.8 C120.9,129.7 120.1,130.7 118.9,130.6 C117.8,130.4 116.0,128.9 114.9,127.8 C113.9,126.6 113.0,125.3 112.6,123.7 C112.2,122.2 112.3,120.4 112.6,118.7Z" fill="#8fd68b"/>
<path d="M145.7,111.7 C145.9,110.4 146.3,109.1 147.0,108.2 C147.7,107.3 148.9,106.7 150.0,106.5 C151.1,106.3 152.5,106.5 153.5,107.2 C154.5,107.9 155.7,109.6 156.0,110.7 C156.3,111.9 156.1,113.4 155.5,114.2 C154.9,115.1 153.6,115.6 152.5,115.7 C151.4,115.9 149.9,115.0 149.0,115.2 C148.1,115.5 147.6,117.1 147.0,117.2 C146.4,117.4 145.7,117.2 145.5,116.2 C145.3,115.3 145.4,113.1 145.7,111.7Z" fill="#427e80"/>
<path d="M77.4,103.7 C78.9,103.2 85.1,102.7 86.4,103.7 C87.7,104.7 85.6,107.9 85.2,109.7 C84.8,111.6 84.3,113.1 83.9,114.7 C83.5,116.4 83.1,117.9 82.9,119.7 C82.6,121.6 83.8,124.7 82.6,125.8 C81.4,126.8 76.7,126.9 75.7,125.8 C74.6,124.6 75.9,120.9 76.1,118.7 C76.3,116.6 76.7,114.7 76.9,112.7 C77.0,110.7 76.8,108.2 76.9,106.7 C76.9,105.2 75.8,104.2 77.4,103.7Z" fill="#8fd68b"/>
<path d="M73.3,122.9 C74.9,122.2 76.1,121.8 77.4,122.2 C78.7,122.7 80.5,124.3 81.2,125.8 C81.9,127.2 81.6,128.9 81.6,130.8 C81.5,132.6 81.5,134.8 81.0,136.8 C80.5,138.8 79.6,141.2 78.6,142.8 C77.5,144.3 76.1,145.5 74.5,146.0 C73.0,146.4 71.0,145.8 69.3,145.5 C67.6,145.2 65.7,144.9 64.3,144.0 C63.0,143.1 61.9,141.5 61.3,140.0 C60.7,138.5 60.3,136.6 60.6,135.0 C60.9,133.3 61.9,131.4 63.1,130.0 C64.4,128.5 66.4,127.6 68.1,126.5 C69.8,125.3 71.8,123.6 73.3,122.9Z" fill="#8fd68b"/>
<path d="M69.3,84.7 C70.1,84.3 73.1,85.2 73.8,84.2 C74.6,83.2 73.7,80.3 73.8,78.7 C74.0,77.0 74.1,75.3 74.8,74.1 C75.6,73.0 76.9,72.1 78.4,71.6 C79.8,71.1 81.8,70.9 83.4,71.1 C85.0,71.4 86.7,72.2 87.9,73.1 C89.0,74.1 89.7,75.2 90.4,76.7 C91.0,78.1 91.5,80.0 91.9,81.7 C92.3,83.3 92.8,84.8 92.9,86.7 C93.0,88.5 92.7,91.0 92.4,92.7 C92.1,94.4 91.5,95.4 90.9,96.7 C90.2,98.0 89.2,99.4 88.4,100.7 C87.5,102.0 86.7,103.8 85.9,104.7 C85.0,105.6 84.6,106.0 83.4,106.2 C82.1,106.5 79.5,106.8 78.4,106.2 C77.2,105.6 76.9,103.8 76.4,102.7 C75.8,101.6 75.3,100.7 74.8,99.7 C74.4,98.7 74.0,98.8 73.8,96.7 C73.7,94.6 74.6,88.9 73.8,87.2 C73.1,85.5 70.1,86.8 69.3,86.4 C68.6,86.0 68.6,85.0 69.3,84.7Z" fill="#b2e294"/>
<path d="M90.4,83.7 C91.0,81.6 93.1,83.1 94.4,83.2 C95.7,83.2 97.1,83.5 98.4,83.9 C99.6,84.2 100.9,84.6 101.9,85.2 C102.9,85.7 103.5,86.7 104.4,87.2 C105.3,87.7 106.2,88.1 107.4,88.2 C108.6,88.3 110.3,87.4 111.4,87.7 C112.6,87.9 113.8,88.9 114.4,89.7 C115.0,90.4 115.5,91.5 115.1,92.2 C114.8,92.9 113.5,93.7 112.4,93.9 C111.3,94.1 109.8,93.3 108.4,93.4 C107.1,93.5 105.6,93.9 104.4,94.4 C103.2,94.9 102.6,96.1 101.4,96.4 C100.2,96.6 98.7,96.0 97.4,95.9 C96.1,95.8 94.6,95.7 93.4,95.7 C92.2,95.7 90.9,97.7 90.4,95.7 C89.9,93.7 89.7,85.8 90.4,83.7Z" fill="#6fc486"/>
</g>
<rect x="0" y="0" width="164" height="150.8" fill="none" stroke="#505050" stroke-width="1.4"/>
</g>
<text x="476.2" y="1218.5" font-size="23" text-anchor="middle" fill="#111">MerTK</text>
<g transform="translate(394.2,1232.8)">
<g filter="url(#spk)">
<path d="M71.8,16.5 C71.8,15.1 72.1,13.0 72.8,11.5 C73.6,10.0 75.0,8.5 76.4,7.5 C77.7,6.5 79.4,5.7 80.9,5.5 C82.4,5.3 84.3,5.8 85.4,6.5 C86.5,7.2 87.0,8.4 87.4,9.5 C87.8,10.6 87.5,11.9 87.9,13.0 C88.2,14.2 89.4,15.4 89.4,16.5 C89.4,17.7 89.0,19.3 87.9,20.0 C86.7,20.8 84.1,20.8 82.4,21.0 C80.6,21.3 78.9,21.7 77.4,21.5 C75.9,21.4 74.3,20.9 73.3,20.0 C72.4,19.2 71.9,18.0 71.8,16.5Z" fill="#427e80"/>
<path d="M5.0,80.0 C5.1,77.4 5.2,74.7 6.0,72.5 C6.8,70.3 8.2,68.5 10.0,67.0 C11.8,65.5 14.8,64.3 17.0,63.8 C19.2,63.3 21.4,63.8 23.0,64.0 C24.6,64.2 25.2,64.9 26.3,64.9 C27.4,64.9 28.1,64.1 29.5,63.9 C30.9,63.7 33.1,63.0 35.0,63.6 C36.9,64.2 39.2,65.8 41.0,67.5 C42.8,69.2 44.6,71.6 45.5,74.0 C46.4,76.4 46.7,79.4 46.5,82.0 C46.3,84.6 45.9,87.2 44.5,89.5 C43.1,91.8 40.3,93.7 38.0,95.5 C35.7,97.3 32.9,99.0 30.5,100.5 C28.1,102.0 25.9,105.0 23.7,104.8 C21.4,104.6 19.3,101.4 17.0,99.5 C14.7,97.6 11.9,95.4 10.0,93.5 C8.1,91.6 6.3,90.2 5.5,88.0 C4.7,85.8 4.9,82.6 5.0,80.0Z" fill="#a7df90"/>
<path d="M111.4,58.6 C111.7,57.4 112.5,55.8 113.4,55.1 C114.3,54.4 115.8,54.4 116.9,54.6 C118.0,54.9 118.9,55.9 119.9,56.6 C121.0,57.4 122.3,58.3 123.4,59.1 C124.6,60.0 126.1,60.5 127.0,61.6 C127.8,62.7 128.5,64.5 128.5,65.6 C128.4,66.8 127.5,68.2 126.5,68.6 C125.5,69.1 123.8,68.8 122.4,68.4 C121.1,68.1 119.8,67.3 118.4,66.6 C117.1,66.0 115.5,65.4 114.4,64.6 C113.3,63.9 112.4,63.1 111.9,62.1 C111.4,61.1 111.2,59.8 111.4,58.6Z" fill="#427e80"/>
<path d="M140.5,91.7 C140.8,89.8 141.3,87.5 142.5,85.7 C143.7,83.8 145.7,82.0 147.5,80.7 C149.3,79.4 151.8,78.0 153.5,77.9 C155.3,77.7 157.2,78.4 158.0,79.7 C158.9,81.0 158.8,83.5 158.5,85.7 C158.3,87.8 157.4,90.7 156.5,92.7 C155.6,94.7 154.5,96.3 153.0,97.7 C151.5,99.1 149.2,100.7 147.5,101.2 C145.8,101.7 144.1,101.5 143.0,100.7 C141.9,99.9 141.1,98.2 140.7,96.7 C140.3,95.2 140.2,93.5 140.5,91.7Z" fill="#3d6b76"/>
<path d="M112.6,118.7 C112.9,117.1 113.7,114.9 114.4,113.7 C115.1,112.6 116.2,111.6 116.9,111.7 C117.7,111.8 118.1,113.9 118.9,114.2 C119.8,114.6 120.9,113.6 121.9,113.7 C123.0,113.8 124.7,113.7 125.5,114.7 C126.2,115.7 126.5,118.1 126.5,119.7 C126.5,121.4 126.2,123.2 125.5,124.7 C124.7,126.3 123.0,127.8 121.9,128.8 C120.9,129.7 120.1,130.7 118.9,130.6 C117.8,130.4 116.0,128.9 114.9,127.8 C113.9,126.6 113.0,125.3 112.6,123.7 C112.2,122.2 112.3,120.4 112.6,118.7Z" fill="#4c9c83"/>
<path d="M145.7,111.7 C145.9,110.4 146.3,109.1 147.0,108.2 C147.7,107.3 148.9,106.7 150.0,106.5 C151.1,106.3 152.5,106.5 153.5,107.2 C154.5,107.9 155.7,109.6 156.0,110.7 C156.3,111.9 156.1,113.4 155.5,114.2 C154.9,115.1 153.6,115.6 152.5,115.7 C151.4,115.9 149.9,115.0 149.0,115.2 C148.1,115.5 147.6,117.1 147.0,117.2 C146.4,117.4 145.7,117.2 145.5,116.2 C145.3,115.3 145.4,113.1 145.7,111.7Z" fill="#427e80"/>
<path d="M77.4,103.7 C78.9,103.2 85.1,102.7 86.4,103.7 C87.7,104.7 85.6,107.9 85.2,109.7 C84.8,111.6 84.3,113.1 83.9,114.7 C83.5,116.4 83.1,117.9 82.9,119.7 C82.6,121.6 83.8,124.7 82.6,125.8 C81.4,126.8 76.7,126.9 75.7,125.8 C74.6,124.6 75.9,120.9 76.1,118.7 C76.3,116.6 76.7,114.7 76.9,112.7 C77.0,110.7 76.8,108.2 76.9,106.7 C76.9,105.2 75.8,104.2 77.4,103.7Z" fill="#3d6b76"/>
<path d="M73.3,122.9 C74.9,122.2 76.1,121.8 77.4,122.2 C78.7,122.7 80.5,124.3 81.2,125.8 C81.9,127.2 81.6,128.9 81.6,130.8 C81.5,132.6 81.5,134.8 81.0,136.8 C80.5,138.8 79.6,141.2 78.6,142.8 C77.5,144.3 76.1,145.5 74.5,146.0 C73.0,146.4 71.0,145.8 69.3,145.5 C67.6,145.2 65.7,144.9 64.3,144.0 C63.0,143.1 61.9,141.5 61.3,140.0 C60.7,138.5 60.3,136.6 60.6,135.0 C60.9,133.3 61.9,131.4 63.1,130.0 C64.4,128.5 66.4,127.6 68.1,126.5 C69.8,125.3 71.8,123.6 73.3,122.9Z" fill="#3d6b76"/>
<path d="M69.3,84.7 C70.1,84.3 73.1,85.2 73.8,84.2 C74.6,83.2 73.7,80.3 73.8,78.7 C74.0,77.0 74.1,75.3 74.8,74.1 C75.6,73.0 76.9,72.1 78.4,71.6 C79.8,71.1 81.8,70.9 83.4,71.1 C85.0,71.4 86.7,72.2 87.9,73.1 C89.0,74.1 89.7,75.2 90.4,76.7 C91.0,78.1 91.5,80.0 91.9,81.7 C92.3,83.3 92.8,84.8 92.9,86.7 C93.0,88.5 92.7,91.0 92.4,92.7 C92.1,94.4 91.5,95.4 90.9,96.7 C90.2,98.0 89.2,99.4 88.4,100.7 C87.5,102.0 86.7,103.8 85.9,104.7 C85.0,105.6 84.6,106.0 83.4,106.2 C82.1,106.5 79.5,106.8 78.4,106.2 C77.2,105.6 76.9,103.8 76.4,102.7 C75.8,101.6 75.3,100.7 74.8,99.7 C74.4,98.7 74.0,98.8 73.8,96.7 C73.7,94.6 74.6,88.9 73.8,87.2 C73.1,85.5 70.1,86.8 69.3,86.4 C68.6,86.0 68.6,85.0 69.3,84.7Z" fill="#7ecf88"/>
<path d="M90.4,83.7 C91.0,81.6 93.1,83.1 94.4,83.2 C95.7,83.2 97.1,83.5 98.4,83.9 C99.6,84.2 100.9,84.6 101.9,85.2 C102.9,85.7 103.5,86.7 104.4,87.2 C105.3,87.7 106.2,88.1 107.4,88.2 C108.6,88.3 110.3,87.4 111.4,87.7 C112.6,87.9 113.8,88.9 114.4,89.7 C115.0,90.4 115.5,91.5 115.1,92.2 C114.8,92.9 113.5,93.7 112.4,93.9 C111.3,94.1 109.8,93.3 108.4,93.4 C107.1,93.5 105.6,93.9 104.4,94.4 C103.2,94.9 102.6,96.1 101.4,96.4 C100.2,96.6 98.7,96.0 97.4,95.9 C96.1,95.8 94.6,95.7 93.4,95.7 C92.2,95.7 90.9,97.7 90.4,95.7 C89.9,93.7 89.7,85.8 90.4,83.7Z" fill="#4c9c83"/>
</g>
<rect x="0" y="0" width="164" height="150.8" fill="none" stroke="#505050" stroke-width="1.4"/>
</g>
<text x="655.5" y="1218.5" font-size="23" text-anchor="middle" fill="#111">pro-IL1beta</text>
<g transform="translate(573.5,1232.8)">
<g filter="url(#spk)">
<path d="M71.8,16.5 C71.8,15.1 72.1,13.0 72.8,11.5 C73.6,10.0 75.0,8.5 76.4,7.5 C77.7,6.5 79.4,5.7 80.9,5.5 C82.4,5.3 84.3,5.8 85.4,6.5 C86.5,7.2 87.0,8.4 87.4,9.5 C87.8,10.6 87.5,11.9 87.9,13.0 C88.2,14.2 89.4,15.4 89.4,16.5 C89.4,17.7 89.0,19.3 87.9,20.0 C86.7,20.8 84.1,20.8 82.4,21.0 C80.6,21.3 78.9,21.7 77.4,21.5 C75.9,21.4 74.3,20.9 73.3,20.0 C72.4,19.2 71.9,18.0 71.8,16.5Z" fill="#3b606d"/>
<path d="M5.0,80.0 C5.1,77.4 5.2,74.7 6.0,72.5 C6.8,70.3 8.2,68.5 10.0,67.0 C11.8,65.5 14.8,64.3 17.0,63.8 C19.2,63.3 21.4,63.8 23.0,64.0 C24.6,64.2 25.2,64.9 26.3,64.9 C27.4,64.9 28.1,64.1 29.5,63.9 C30.9,63.7 33.1,63.0 35.0,63.6 C36.9,64.2 39.2,65.8 41.0,67.5 C42.8,69.2 44.6,71.6 45.5,74.0 C46.4,76.4 46.7,79.4 46.5,82.0 C46.3,84.6 45.9,87.2 44.5,89.5 C43.1,91.8 40.3,93.7 38.0,95.5 C35.7,97.3 32.9,99.0 30.5,100.5 C28.1,102.0 25.9,105.0 23.7,104.8 C21.4,104.6 19.3,101.4 17.0,99.5 C14.7,97.6 11.9,95.4 10.0,93.5 C8.1,91.6 6.3,90.2 5.5,88.0 C4.7,85.8 4.9,82.6 5.0,80.0Z" fill="#427e80"/>
<path d="M111.4,58.6 C111.7,57.4 112.5,55.8 113.4,55.1 C114.3,54.4 115.8,54.4 116.9,54.6 C118.0,54.9 118.9,55.9 119.9,56.6 C121.0,57.4 122.3,58.3 123.4,59.1 C124.6,60.0 126.1,60.5 127.0,61.6 C127.8,62.7 128.5,64.5 128.5,65.6 C128.4,66.8 127.5,68.2 126.5,68.6 C125.5,69.1 123.8,68.8 122.4,68.4 C121.1,68.1 119.8,67.3 118.4,66.6 C117.1,66.0 115.5,65.4 114.4,64.6 C113.3,63.9 112.4,63.1 111.9,62.1 C111.4,61.1 111.2,59.8 111.4,58.6Z" fill="#3d6b76"/>
<path d="M140.5,91.7 C140.8,89.8 141.3,87.5 142.5,85.7 C143.7,83.8 145.7,82.0 147.5,80.7 C149.3,79.4 151.8,78.0 153.5,77.9 C155.3,77.7 157.2,78.4 158.0,79.7 C158.9,81.0 158.8,83.5 158.5,85.7 C158.3,87.8 157.4,90.7 156.5,92.7 C155.6,94.7 154.5,96.3 153.0,97.7 C151.5,99.1 149.2,100.7 147.5,101.2 C145.8,101.7 144.1,101.5 143.0,100.7 C141.9,99.9 141.1,98.2 140.7,96.7 C140.3,95.2 140.2,93.5 140.5,91.7Z" fill="#3d6b76"/>
<path d="M112.6,118.7 C112.9,117.1 113.7,114.9 114.4,113.7 C115.1,112.6 116.2,111.6 116.9,111.7 C117.7,111.8 118.1,113.9 118.9,114.2 C119.8,114.6 120.9,113.6 121.9,113.7 C123.0,113.8 124.7,113.7 125.5,114.7 C126.2,115.7 126.5,118.1 126.5,119.7 C126.5,121.4 126.2,123.2 125.5,124.7 C124.7,126.3 123.0,127.8 121.9,128.8 C120.9,129.7 120.1,130.7 118.9,130.6 C117.8,130.4 116.0,128.9 114.9,127.8 C113.9,126.6 113.0,125.3 112.6,123.7 C112.2,122.2 112.3,120.4 112.6,118.7Z" fill="#427e80"/>
<path d="M145.7,111.7 C145.9,110.4 146.3,109.1 147.0,108.2 C147.7,107.3 148.9,106.7 150.0,106.5 C151.1,106.3 152.5,106.5 153.5,107.2 C154.5,107.9 155.7,109.6 156.0,110.7 C156.3,111.9 156.1,113.4 155.5,114.2 C154.9,115.1 153.6,115.6 152.5,115.7 C151.4,115.9 149.9,115.0 149.0,115.2 C148.1,115.5 147.6,117.1 147.0,117.2 C146.4,117.4 145.7,117.2 145.5,116.2 C145.3,115.3 145.4,113.1 145.7,111.7Z" fill="#427e80"/>
<path d="M77.4,103.7 C78.9,103.2 85.1,102.7 86.4,103.7 C87.7,104.7 85.6,107.9 85.2,109.7 C84.8,111.6 84.3,113.1 83.9,114.7 C83.5,116.4 83.1,117.9 82.9,119.7 C82.6,121.6 83.8,124.7 82.6,125.8 C81.4,126.8 76.7,126.9 75.7,125.8 C74.6,124.6 75.9,120.9 76.1,118.7 C76.3,116.6 76.7,114.7 76.9,112.7 C77.0,110.7 76.8,108.2 76.9,106.7 C76.9,105.2 75.8,104.2 77.4,103.7Z" fill="#3d6b76"/>
<path d="M73.3,122.9 C74.9,122.2 76.1,121.8 77.4,122.2 C78.7,122.7 80.5,124.3 81.2,125.8 C81.9,127.2 81.6,128.9 81.6,130.8 C81.5,132.6 81.5,134.8 81.0,136.8 C80.5,138.8 79.6,141.2 78.6,142.8 C77.5,144.3 76.1,145.5 74.5,146.0 C73.0,146.4 71.0,145.8 69.3,145.5 C67.6,145.2 65.7,144.9 64.3,144.0 C63.0,143.1 61.9,141.5 61.3,140.0 C60.7,138.5 60.3,136.6 60.6,135.0 C60.9,133.3 61.9,131.4 63.1,130.0 C64.4,128.5 66.4,127.6 68.1,126.5 C69.8,125.3 71.8,123.6 73.3,122.9Z" fill="#3d6b76"/>
<path d="M69.3,84.7 C70.1,84.3 73.1,85.2 73.8,84.2 C74.6,83.2 73.7,80.3 73.8,78.7 C74.0,77.0 74.1,75.3 74.8,74.1 C75.6,73.0 76.9,72.1 78.4,71.6 C79.8,71.1 81.8,70.9 83.4,71.1 C85.0,71.4 86.7,72.2 87.9,73.1 C89.0,74.1 89.7,75.2 90.4,76.7 C91.0,78.1 91.5,80.0 91.9,81.7 C92.3,83.3 92.8,84.8 92.9,86.7 C93.0,88.5 92.7,91.0 92.4,92.7 C92.1,94.4 91.5,95.4 90.9,96.7 C90.2,98.0 89.2,99.4 88.4,100.7 C87.5,102.0 86.7,103.8 85.9,104.7 C85.0,105.6 84.6,106.0 83.4,106.2 C82.1,106.5 79.5,106.8 78.4,106.2 C77.2,105.6 76.9,103.8 76.4,102.7 C75.8,101.6 75.3,100.7 74.8,99.7 C74.4,98.7 74.0,98.8 73.8,96.7 C73.7,94.6 74.6,88.9 73.8,87.2 C73.1,85.5 70.1,86.8 69.3,86.4 C68.6,86.0 68.6,85.0 69.3,84.7Z" fill="#56ab84"/>
<path d="M90.4,83.7 C91.0,81.6 93.1,83.1 94.4,83.2 C95.7,83.2 97.1,83.5 98.4,83.9 C99.6,84.2 100.9,84.6 101.9,85.2 C102.9,85.7 103.5,86.7 104.4,87.2 C105.3,87.7 106.2,88.1 107.4,88.2 C108.6,88.3 110.3,87.4 111.4,87.7 C112.6,87.9 113.8,88.9 114.4,89.7 C115.0,90.4 115.5,91.5 115.1,92.2 C114.8,92.9 113.5,93.7 112.4,93.9 C111.3,94.1 109.8,93.3 108.4,93.4 C107.1,93.5 105.6,93.9 104.4,94.4 C103.2,94.9 102.6,96.1 101.4,96.4 C100.2,96.6 98.7,96.0 97.4,95.9 C96.1,95.8 94.6,95.7 93.4,95.7 C92.2,95.7 90.9,97.7 90.4,95.7 C89.9,93.7 89.7,85.8 90.4,83.7Z" fill="#478d82"/>
</g>
<rect x="0" y="0" width="164" height="150.8" fill="none" stroke="#505050" stroke-width="1.4"/>
</g>
<text x="834.8" y="1218.5" font-size="23" text-anchor="middle" fill="#111">TCRbeta</text>
<g transform="translate(752.8,1232.8)">
<g filter="url(#spk)">
<path d="M71.8,16.5 C71.8,15.1 72.1,13.0 72.8,11.5 C73.6,10.0 75.0,8.5 76.4,7.5 C77.7,6.5 79.4,5.7 80.9,5.5 C82.4,5.3 84.3,5.8 85.4,6.5 C86.5,7.2 87.0,8.4 87.4,9.5 C87.8,10.6 87.5,11.9 87.9,13.0 C88.2,14.2 89.4,15.4 89.4,16.5 C89.4,17.7 89.0,19.3 87.9,20.0 C86.7,20.8 84.1,20.8 82.4,21.0 C80.6,21.3 78.9,21.7 77.4,21.5 C75.9,21.4 74.3,20.9 73.3,20.0 C72.4,19.2 71.9,18.0 71.8,16.5Z" fill="#395867"/>
<path d="M5.0,80.0 C5.1,77.4 5.2,74.7 6.0,72.5 C6.8,70.3 8.2,68.5 10.0,67.0 C11.8,65.5 14.8,64.3 17.0,63.8 C19.2,63.3 21.4,63.8 23.0,64.0 C24.6,64.2 25.2,64.9 26.3,64.9 C27.4,64.9 28.1,64.1 29.5,63.9 C30.9,63.7 33.1,63.0 35.0,63.6 C36.9,64.2 39.2,65.8 41.0,67.5 C42.8,69.2 44.6,71.6 45.5,74.0 C46.4,76.4 46.7,79.4 46.5,82.0 C46.3,84.6 45.9,87.2 44.5,89.5 C43.1,91.8 40.3,93.7 38.0,95.5 C35.7,97.3 32.9,99.0 30.5,100.5 C28.1,102.0 25.9,105.0 23.7,104.8 C21.4,104.6 19.3,101.4 17.0,99.5 C14.7,97.6 11.9,95.4 10.0,93.5 C8.1,91.6 6.3,90.2 5.5,88.0 C4.7,85.8 4.9,82.6 5.0,80.0Z" fill="#395867"/>
<path d="M111.4,58.6 C111.7,57.4 112.5,55.8 113.4,55.1 C114.3,54.4 115.8,54.4 116.9,54.6 C118.0,54.9 118.9,55.9 119.9,56.6 C121.0,57.4 122.3,58.3 123.4,59.1 C124.6,60.0 126.1,60.5 127.0,61.6 C127.8,62.7 128.5,64.5 128.5,65.6 C128.4,66.8 127.5,68.2 126.5,68.6 C125.5,69.1 123.8,68.8 122.4,68.4 C121.1,68.1 119.8,67.3 118.4,66.6 C117.1,66.0 115.5,65.4 114.4,64.6 C113.3,63.9 112.4,63.1 111.9,62.1 C111.4,61.1 111.2,59.8 111.4,58.6Z" fill="#3d6b76"/>
<path d="M140.5,91.7 C140.8,89.8 141.3,87.5 142.5,85.7 C143.7,83.8 145.7,82.0 147.5,80.7 C149.3,79.4 151.8,78.0 153.5,77.9 C155.3,77.7 157.2,78.4 158.0,79.7 C158.9,81.0 158.8,83.5 158.5,85.7 C158.3,87.8 157.4,90.7 156.5,92.7 C155.6,94.7 154.5,96.3 153.0,97.7 C151.5,99.1 149.2,100.7 147.5,101.2 C145.8,101.7 144.1,101.5 143.0,100.7 C141.9,99.9 141.1,98.2 140.7,96.7 C140.3,95.2 140.2,93.5 140.5,91.7Z" fill="#a7df90"/>
<path d="M112.6,118.7 C112.9,117.1 113.7,114.9 114.4,113.7 C115.1,112.6 116.2,111.6 116.9,111.7 C117.7,111.8 118.1,113.9 118.9,114.2 C119.8,114.6 120.9,113.6 121.9,113.7 C123.0,113.8 124.7,113.7 125.5,114.7 C126.2,115.7 126.5,118.1 126.5,119.7 C126.5,121.4 126.2,123.2 125.5,124.7 C124.7,126.3 123.0,127.8 121.9,128.8 C120.9,129.7 120.1,130.7 118.9,130.6 C117.8,130.4 116.0,128.9 114.9,127.8 C113.9,126.6 113.0,125.3 112.6,123.7 C112.2,122.2 112.3,120.4 112.6,118.7Z" fill="#a0dd8e"/>
<path d="M145.7,111.7 C145.9,110.4 146.3,109.1 147.0,108.2 C147.7,107.3 148.9,106.7 150.0,106.5 C151.1,106.3 152.5,106.5 153.5,107.2 C154.5,107.9 155.7,109.6 156.0,110.7 C156.3,111.9 156.1,113.4 155.5,114.2 C154.9,115.1 153.6,115.6 152.5,115.7 C151.4,115.9 149.9,115.0 149.0,115.2 C148.1,115.5 147.6,117.1 147.0,117.2 C146.4,117.4 145.7,117.2 145.5,116.2 C145.3,115.3 145.4,113.1 145.7,111.7Z" fill="#8fd68b"/>
<path d="M77.4,103.7 C78.9,103.2 85.1,102.7 86.4,103.7 C87.7,104.7 85.6,107.9 85.2,109.7 C84.8,111.6 84.3,113.1 83.9,114.7 C83.5,116.4 83.1,117.9 82.9,119.7 C82.6,121.6 83.8,124.7 82.6,125.8 C81.4,126.8 76.7,126.9 75.7,125.8 C74.6,124.6 75.9,120.9 76.1,118.7 C76.3,116.6 76.7,114.7 76.9,112.7 C77.0,110.7 76.8,108.2 76.9,106.7 C76.9,105.2 75.8,104.2 77.4,103.7Z" fill="#3b606d"/>
<path d="M73.3,122.9 C74.9,122.2 76.1,121.8 77.4,122.2 C78.7,122.7 80.5,124.3 81.2,125.8 C81.9,127.2 81.6,128.9 81.6,130.8 C81.5,132.6 81.5,134.8 81.0,136.8 C80.5,138.8 79.6,141.2 78.6,142.8 C77.5,144.3 76.1,145.5 74.5,146.0 C73.0,146.4 71.0,145.8 69.3,145.5 C67.6,145.2 65.7,144.9 64.3,144.0 C63.0,143.1 61.9,141.5 61.3,140.0 C60.7,138.5 60.3,136.6 60.6,135.0 C60.9,133.3 61.9,131.4 63.1,130.0 C64.4,128.5 66.4,127.6 68.1,126.5 C69.8,125.3 71.8,123.6 73.3,122.9Z" fill="#3b606d"/>
<path d="M69.3,84.7 C70.1,84.3 73.1,85.2 73.8,84.2 C74.6,83.2 73.7,80.3 73.8,78.7 C74.0,77.0 74.1,75.3 74.8,74.1 C75.6,73.0 76.9,72.1 78.4,71.6 C79.8,71.1 81.8,70.9 83.4,71.1 C85.0,71.4 86.7,72.2 87.9,73.1 C89.0,74.1 89.7,75.2 90.4,76.7 C91.0,78.1 91.5,80.0 91.9,81.7 C92.3,83.3 92.8,84.8 92.9,86.7 C93.0,88.5 92.7,91.0 92.4,92.7 C92.1,94.4 91.5,95.4 90.9,96.7 C90.2,98.0 89.2,99.4 88.4,100.7 C87.5,102.0 86.7,103.8 85.9,104.7 C85.0,105.6 84.6,106.0 83.4,106.2 C82.1,106.5 79.5,106.8 78.4,106.2 C77.2,105.6 76.9,103.8 76.4,102.7 C75.8,101.6 75.3,100.7 74.8,99.7 C74.4,98.7 74.0,98.8 73.8,96.7 C73.7,94.6 74.6,88.9 73.8,87.2 C73.1,85.5 70.1,86.8 69.3,86.4 C68.6,86.0 68.6,85.0 69.3,84.7Z" fill="#3b606d"/>
<path d="M90.4,83.7 C91.0,81.6 93.1,83.1 94.4,83.2 C95.7,83.2 97.1,83.5 98.4,83.9 C99.6,84.2 100.9,84.6 101.9,85.2 C102.9,85.7 103.5,86.7 104.4,87.2 C105.3,87.7 106.2,88.1 107.4,88.2 C108.6,88.3 110.3,87.4 111.4,87.7 C112.6,87.9 113.8,88.9 114.4,89.7 C115.0,90.4 115.5,91.5 115.1,92.2 C114.8,92.9 113.5,93.7 112.4,93.9 C111.3,94.1 109.8,93.3 108.4,93.4 C107.1,93.5 105.6,93.9 104.4,94.4 C103.2,94.9 102.6,96.1 101.4,96.4 C100.2,96.6 98.7,96.0 97.4,95.9 C96.1,95.8 94.6,95.7 93.4,95.7 C92.2,95.7 90.9,97.7 90.4,95.7 C89.9,93.7 89.7,85.8 90.4,83.7Z" fill="#3b606d"/>
</g>
<rect x="0" y="0" width="164" height="150.8" fill="none" stroke="#505050" stroke-width="1.4"/>
</g>
<text x="1014.1" y="1218.5" font-size="23" text-anchor="middle" fill="#111">CD11c</text>
<g transform="translate(932.1,1232.8)">
<g filter="url(#spk)">
<path d="M71.8,16.5 C71.8,15.1 72.1,13.0 72.8,11.5 C73.6,10.0 75.0,8.5 76.4,7.5 C77.7,6.5 79.4,5.7 80.9,5.5 C82.4,5.3 84.3,5.8 85.4,6.5 C86.5,7.2 87.0,8.4 87.4,9.5 C87.8,10.6 87.5,11.9 87.9,13.0 C88.2,14.2 89.4,15.4 89.4,16.5 C89.4,17.7 89.0,19.3 87.9,20.0 C86.7,20.8 84.1,20.8 82.4,21.0 C80.6,21.3 78.9,21.7 77.4,21.5 C75.9,21.4 74.3,20.9 73.3,20.0 C72.4,19.2 71.9,18.0 71.8,16.5Z" fill="#3b606d"/>
<path d="M5.0,80.0 C5.1,77.4 5.2,74.7 6.0,72.5 C6.8,70.3 8.2,68.5 10.0,67.0 C11.8,65.5 14.8,64.3 17.0,63.8 C19.2,63.3 21.4,63.8 23.0,64.0 C24.6,64.2 25.2,64.9 26.3,64.9 C27.4,64.9 28.1,64.1 29.5,63.9 C30.9,63.7 33.1,63.0 35.0,63.6 C36.9,64.2 39.2,65.8 41.0,67.5 C42.8,69.2 44.6,71.6 45.5,74.0 C46.4,76.4 46.7,79.4 46.5,82.0 C46.3,84.6 45.9,87.2 44.5,89.5 C43.1,91.8 40.3,93.7 38.0,95.5 C35.7,97.3 32.9,99.0 30.5,100.5 C28.1,102.0 25.9,105.0 23.7,104.8 C21.4,104.6 19.3,101.4 17.0,99.5 C14.7,97.6 11.9,95.4 10.0,93.5 C8.1,91.6 6.3,90.2 5.5,88.0 C4.7,85.8 4.9,82.6 5.0,80.0Z" fill="url(#g17B)"/>
<path d="M111.4,58.6 C111.7,57.4 112.5,55.8 113.4,55.1 C114.3,54.4 115.8,54.4 116.9,54.6 C118.0,54.9 118.9,55.9 119.9,56.6 C121.0,57.4 122.3,58.3 123.4,59.1 C124.6,60.0 126.1,60.5 127.0,61.6 C127.8,62.7 128.5,64.5 128.5,65.6 C128.4,66.8 127.5,68.2 126.5,68.6 C125.5,69.1 123.8,68.8 122.4,68.4 C121.1,68.1 119.8,67.3 118.4,66.6 C117.1,66.0 115.5,65.4 114.4,64.6 C113.3,63.9 112.4,63.1 111.9,62.1 C111.4,61.1 111.2,59.8 111.4,58.6Z" fill="#3d6b76"/>
<path d="M140.5,91.7 C140.8,89.8 141.3,87.5 142.5,85.7 C143.7,83.8 145.7,82.0 147.5,80.7 C149.3,79.4 151.8,78.0 153.5,77.9 C155.3,77.7 157.2,78.4 158.0,79.7 C158.9,81.0 158.8,83.5 158.5,85.7 C158.3,87.8 157.4,90.7 156.5,92.7 C155.6,94.7 154.5,96.3 153.0,97.7 C151.5,99.1 149.2,100.7 147.5,101.2 C145.8,101.7 144.1,101.5 143.0,100.7 C141.9,99.9 141.1,98.2 140.7,96.7 C140.3,95.2 140.2,93.5 140.5,91.7Z" fill="#3d6b76"/>
<path d="M112.6,118.7 C112.9,117.1 113.7,114.9 114.4,113.7 C115.1,112.6 116.2,111.6 116.9,111.7 C117.7,111.8 118.1,113.9 118.9,114.2 C119.8,114.6 120.9,113.6 121.9,113.7 C123.0,113.8 124.7,113.7 125.5,114.7 C126.2,115.7 126.5,118.1 126.5,119.7 C126.5,121.4 126.2,123.2 125.5,124.7 C124.7,126.3 123.0,127.8 121.9,128.8 C120.9,129.7 120.1,130.7 118.9,130.6 C117.8,130.4 116.0,128.9 114.9,127.8 C113.9,126.6 113.0,125.3 112.6,123.7 C112.2,122.2 112.3,120.4 112.6,118.7Z" fill="#4c9c83"/>
<path d="M145.7,111.7 C145.9,110.4 146.3,109.1 147.0,108.2 C147.7,107.3 148.9,106.7 150.0,106.5 C151.1,106.3 152.5,106.5 153.5,107.2 C154.5,107.9 155.7,109.6 156.0,110.7 C156.3,111.9 156.1,113.4 155.5,114.2 C154.9,115.1 153.6,115.6 152.5,115.7 C151.4,115.9 149.9,115.0 149.0,115.2 C148.1,115.5 147.6,117.1 147.0,117.2 C146.4,117.4 145.7,117.2 145.5,116.2 C145.3,115.3 145.4,113.1 145.7,111.7Z" fill="#395867"/>
<path d="M77.4,103.7 C78.9,103.2 85.1,102.7 86.4,103.7 C87.7,104.7 85.6,107.9 85.2,109.7 C84.8,111.6 84.3,113.1 83.9,114.7 C83.5,116.4 83.1,117.9 82.9,119.7 C82.6,121.6 83.8,124.7 82.6,125.8 C81.4,126.8 76.7,126.9 75.7,125.8 C74.6,124.6 75.9,120.9 76.1,118.7 C76.3,116.6 76.7,114.7 76.9,112.7 C77.0,110.7 76.8,108.2 76.9,106.7 C76.9,105.2 75.8,104.2 77.4,103.7Z" fill="#3b606d"/>
<path d="M73.3,122.9 C74.9,122.2 76.1,121.8 77.4,122.2 C78.7,122.7 80.5,124.3 81.2,125.8 C81.9,127.2 81.6,128.9 81.6,130.8 C81.5,132.6 81.5,134.8 81.0,136.8 C80.5,138.8 79.6,141.2 78.6,142.8 C77.5,144.3 76.1,145.5 74.5,146.0 C73.0,146.4 71.0,145.8 69.3,145.5 C67.6,145.2 65.7,144.9 64.3,144.0 C63.0,143.1 61.9,141.5 61.3,140.0 C60.7,138.5 60.3,136.6 60.6,135.0 C60.9,133.3 61.9,131.4 63.1,130.0 C64.4,128.5 66.4,127.6 68.1,126.5 C69.8,125.3 71.8,123.6 73.3,122.9Z" fill="#3b606d"/>
<path d="M69.3,84.7 C70.1,84.3 73.1,85.2 73.8,84.2 C74.6,83.2 73.7,80.3 73.8,78.7 C74.0,77.0 74.1,75.3 74.8,74.1 C75.6,73.0 76.9,72.1 78.4,71.6 C79.8,71.1 81.8,70.9 83.4,71.1 C85.0,71.4 86.7,72.2 87.9,73.1 C89.0,74.1 89.7,75.2 90.4,76.7 C91.0,78.1 91.5,80.0 91.9,81.7 C92.3,83.3 92.8,84.8 92.9,86.7 C93.0,88.5 92.7,91.0 92.4,92.7 C92.1,94.4 91.5,95.4 90.9,96.7 C90.2,98.0 89.2,99.4 88.4,100.7 C87.5,102.0 86.7,103.8 85.9,104.7 C85.0,105.6 84.6,106.0 83.4,106.2 C82.1,106.5 79.5,106.8 78.4,106.2 C77.2,105.6 76.9,103.8 76.4,102.7 C75.8,101.6 75.3,100.7 74.8,99.7 C74.4,98.7 74.0,98.8 73.8,96.7 C73.7,94.6 74.6,88.9 73.8,87.2 C73.1,85.5 70.1,86.8 69.3,86.4 C68.6,86.0 68.6,85.0 69.3,84.7Z" fill="#7ecf88"/>
<path d="M90.4,83.7 C91.0,81.6 93.1,83.1 94.4,83.2 C95.7,83.2 97.1,83.5 98.4,83.9 C99.6,84.2 100.9,84.6 101.9,85.2 C102.9,85.7 103.5,86.7 104.4,87.2 C105.3,87.7 106.2,88.1 107.4,88.2 C108.6,88.3 110.3,87.4 111.4,87.7 C112.6,87.9 113.8,88.9 114.4,89.7 C115.0,90.4 115.5,91.5 115.1,92.2 C114.8,92.9 113.5,93.7 112.4,93.9 C111.3,94.1 109.8,93.3 108.4,93.4 C107.1,93.5 105.6,93.9 104.4,94.4 C103.2,94.9 102.6,96.1 101.4,96.4 C100.2,96.6 98.7,96.0 97.4,95.9 C96.1,95.8 94.6,95.7 93.4,95.7 C92.2,95.7 90.9,97.7 90.4,95.7 C89.9,93.7 89.7,85.8 90.4,83.7Z" fill="#7ecf88"/>
<ellipse cx="82.6" cy="74.8" rx="8" ry="5" fill="url(#cap17)"/>
</g>
<rect x="0" y="0" width="164" height="150.8" fill="none" stroke="#505050" stroke-width="1.4"/>
</g>
<text x="117.6" y="1430.5" font-size="23" text-anchor="middle" fill="#111">CD274</text>
<g transform="translate(35.6,1444.8)">
<g filter="url(#spk)">
<path d="M71.8,16.5 C71.8,15.1 72.1,13.0 72.8,11.5 C73.6,10.0 75.0,8.5 76.4,7.5 C77.7,6.5 79.4,5.7 80.9,5.5 C82.4,5.3 84.3,5.8 85.4,6.5 C86.5,7.2 87.0,8.4 87.4,9.5 C87.8,10.6 87.5,11.9 87.9,13.0 C88.2,14.2 89.4,15.4 89.4,16.5 C89.4,17.7 89.0,19.3 87.9,20.0 C86.7,20.8 84.1,20.8 82.4,21.0 C80.6,21.3 78.9,21.7 77.4,21.5 C75.9,21.4 74.3,20.9 73.3,20.0 C72.4,19.2 71.9,18.0 71.8,16.5Z" fill="#56ab84"/>
<path d="M5.0,80.0 C5.1,77.4 5.2,74.7 6.0,72.5 C6.8,70.3 8.2,68.5 10.0,67.0 C11.8,65.5 14.8,64.3 17.0,63.8 C19.2,63.3 21.4,63.8 23.0,64.0 C24.6,64.2 25.2,64.9 26.3,64.9 C27.4,64.9 28.1,64.1 29.5,63.9 C30.9,63.7 33.1,63.0 35.0,63.6 C36.9,64.2 39.2,65.8 41.0,67.5 C42.8,69.2 44.6,71.6 45.5,74.0 C46.4,76.4 46.7,79.4 46.5,82.0 C46.3,84.6 45.9,87.2 44.5,89.5 C43.1,91.8 40.3,93.7 38.0,95.5 C35.7,97.3 32.9,99.0 30.5,100.5 C28.1,102.0 25.9,105.0 23.7,104.8 C21.4,104.6 19.3,101.4 17.0,99.5 C14.7,97.6 11.9,95.4 10.0,93.5 C8.1,91.6 6.3,90.2 5.5,88.0 C4.7,85.8 4.9,82.6 5.0,80.0Z" fill="url(#g18B)"/>
<path d="M111.4,58.6 C111.7,57.4 112.5,55.8 113.4,55.1 C114.3,54.4 115.8,54.4 116.9,54.6 C118.0,54.9 118.9,55.9 119.9,56.6 C121.0,57.4 122.3,58.3 123.4,59.1 C124.6,60.0 126.1,60.5 127.0,61.6 C127.8,62.7 128.5,64.5 128.5,65.6 C128.4,66.8 127.5,68.2 126.5,68.6 C125.5,69.1 123.8,68.8 122.4,68.4 C121.1,68.1 119.8,67.3 118.4,66.6 C117.1,66.0 115.5,65.4 114.4,64.6 C113.3,63.9 112.4,63.1 111.9,62.1 C111.4,61.1 111.2,59.8 111.4,58.6Z" fill="#427e80"/>
<path d="M140.5,91.7 C140.8,89.8 141.3,87.5 142.5,85.7 C143.7,83.8 145.7,82.0 147.5,80.7 C149.3,79.4 151.8,78.0 153.5,77.9 C155.3,77.7 157.2,78.4 158.0,79.7 C158.9,81.0 158.8,83.5 158.5,85.7 C158.3,87.8 157.4,90.7 156.5,92.7 C155.6,94.7 154.5,96.3 153.0,97.7 C151.5,99.1 149.2,100.7 147.5,101.2 C145.8,101.7 144.1,101.5 143.0,100.7 C141.9,99.9 141.1,98.2 140.7,96.7 C140.3,95.2 140.2,93.5 140.5,91.7Z" fill="#478d82"/>
<path d="M112.6,118.7 C112.9,117.1 113.7,114.9 114.4,113.7 C115.1,112.6 116.2,111.6 116.9,111.7 C117.7,111.8 118.1,113.9 118.9,114.2 C119.8,114.6 120.9,113.6 121.9,113.7 C123.0,113.8 124.7,113.7 125.5,114.7 C126.2,115.7 126.5,118.1 126.5,119.7 C126.5,121.4 126.2,123.2 125.5,124.7 C124.7,126.3 123.0,127.8 121.9,128.8 C120.9,129.7 120.1,130.7 118.9,130.6 C117.8,130.4 116.0,128.9 114.9,127.8 C113.9,126.6 113.0,125.3 112.6,123.7 C112.2,122.2 112.3,120.4 112.6,118.7Z" fill="#478d82"/>
<path d="M145.7,111.7 C145.9,110.4 146.3,109.1 147.0,108.2 C147.7,107.3 148.9,106.7 150.0,106.5 C151.1,106.3 152.5,106.5 153.5,107.2 C154.5,107.9 155.7,109.6 156.0,110.7 C156.3,111.9 156.1,113.4 155.5,114.2 C154.9,115.1 153.6,115.6 152.5,115.7 C151.4,115.9 149.9,115.0 149.0,115.2 C148.1,115.5 147.6,117.1 147.0,117.2 C146.4,117.4 145.7,117.2 145.5,116.2 C145.3,115.3 145.4,113.1 145.7,111.7Z" fill="#4c9c83"/>
<path d="M77.4,103.7 C78.9,103.2 85.1,102.7 86.4,103.7 C87.7,104.7 85.6,107.9 85.2,109.7 C84.8,111.6 84.3,113.1 83.9,114.7 C83.5,116.4 83.1,117.9 82.9,119.7 C82.6,121.6 83.8,124.7 82.6,125.8 C81.4,126.8 76.7,126.9 75.7,125.8 C74.6,124.6 75.9,120.9 76.1,118.7 C76.3,116.6 76.7,114.7 76.9,112.7 C77.0,110.7 76.8,108.2 76.9,106.7 C76.9,105.2 75.8,104.2 77.4,103.7Z" fill="#2f2d41"/>
<path d="M73.3,122.9 C74.9,122.2 76.1,121.8 77.4,122.2 C78.7,122.7 80.5,124.3 81.2,125.8 C81.9,127.2 81.6,128.9 81.6,130.8 C81.5,132.6 81.5,134.8 81.0,136.8 C80.5,138.8 79.6,141.2 78.6,142.8 C77.5,144.3 76.1,145.5 74.5,146.0 C73.0,146.4 71.0,145.8 69.3,145.5 C67.6,145.2 65.7,144.9 64.3,144.0 C63.0,143.1 61.9,141.5 61.3,140.0 C60.7,138.5 60.3,136.6 60.6,135.0 C60.9,133.3 61.9,131.4 63.1,130.0 C64.4,128.5 66.4,127.6 68.1,126.5 C69.8,125.3 71.8,123.6 73.3,122.9Z" fill="url(#g18Cl)"/>
<path d="M69.3,84.7 C70.1,84.3 73.1,85.2 73.8,84.2 C74.6,83.2 73.7,80.3 73.8,78.7 C74.0,77.0 74.1,75.3 74.8,74.1 C75.6,73.0 76.9,72.1 78.4,71.6 C79.8,71.1 81.8,70.9 83.4,71.1 C85.0,71.4 86.7,72.2 87.9,73.1 C89.0,74.1 89.7,75.2 90.4,76.7 C91.0,78.1 91.5,80.0 91.9,81.7 C92.3,83.3 92.8,84.8 92.9,86.7 C93.0,88.5 92.7,91.0 92.4,92.7 C92.1,94.4 91.5,95.4 90.9,96.7 C90.2,98.0 89.2,99.4 88.4,100.7 C87.5,102.0 86.7,103.8 85.9,104.7 C85.0,105.6 84.6,106.0 83.4,106.2 C82.1,106.5 79.5,106.8 78.4,106.2 C77.2,105.6 76.9,103.8 76.4,102.7 C75.8,101.6 75.3,100.7 74.8,99.7 C74.4,98.7 74.0,98.8 73.8,96.7 C73.7,94.6 74.6,88.9 73.8,87.2 C73.1,85.5 70.1,86.8 69.3,86.4 C68.6,86.0 68.6,85.0 69.3,84.7Z" fill="#bde698"/>
<path d="M90.4,83.7 C91.0,81.6 93.1,83.1 94.4,83.2 C95.7,83.2 97.1,83.5 98.4,83.9 C99.6,84.2 100.9,84.6 101.9,85.2 C102.9,85.7 103.5,86.7 104.4,87.2 C105.3,87.7 106.2,88.1 107.4,88.2 C108.6,88.3 110.3,87.4 111.4,87.7 C112.6,87.9 113.8,88.9 114.4,89.7 C115.0,90.4 115.5,91.5 115.1,92.2 C114.8,92.9 113.5,93.7 112.4,93.9 C111.3,94.1 109.8,93.3 108.4,93.4 C107.1,93.5 105.6,93.9 104.4,94.4 C103.2,94.9 102.6,96.1 101.4,96.4 C100.2,96.6 98.7,96.0 97.4,95.9 C96.1,95.8 94.6,95.7 93.4,95.7 C92.2,95.7 90.9,97.7 90.4,95.7 C89.9,93.7 89.7,85.8 90.4,83.7Z" fill="#6fc486"/>
</g>
<rect x="0" y="0" width="164" height="150.8" fill="none" stroke="#505050" stroke-width="1.4"/>
</g>
<text x="296.9" y="1430.5" font-size="23" text-anchor="middle" fill="#111">FOXP3</text>
<g transform="translate(214.9,1444.8)">
<g filter="url(#spk)">
<path d="M71.8,16.5 C71.8,15.1 72.1,13.0 72.8,11.5 C73.6,10.0 75.0,8.5 76.4,7.5 C77.7,6.5 79.4,5.7 80.9,5.5 C82.4,5.3 84.3,5.8 85.4,6.5 C86.5,7.2 87.0,8.4 87.4,9.5 C87.8,10.6 87.5,11.9 87.9,13.0 C88.2,14.2 89.4,15.4 89.4,16.5 C89.4,17.7 89.0,19.3 87.9,20.0 C86.7,20.8 84.1,20.8 82.4,21.0 C80.6,21.3 78.9,21.7 77.4,21.5 C75.9,21.4 74.3,20.9 73.3,20.0 C72.4,19.2 71.9,18.0 71.8,16.5Z" fill="#3b606d"/>
<path d="M5.0,80.0 C5.1,77.4 5.2,74.7 6.0,72.5 C6.8,70.3 8.2,68.5 10.0,67.0 C11.8,65.5 14.8,64.3 17.0,63.8 C19.2,63.3 21.4,63.8 23.0,64.0 C24.6,64.2 25.2,64.9 26.3,64.9 C27.4,64.9 28.1,64.1 29.5,63.9 C30.9,63.7 33.1,63.0 35.0,63.6 C36.9,64.2 39.2,65.8 41.0,67.5 C42.8,69.2 44.6,71.6 45.5,74.0 C46.4,76.4 46.7,79.4 46.5,82.0 C46.3,84.6 45.9,87.2 44.5,89.5 C43.1,91.8 40.3,93.7 38.0,95.5 C35.7,97.3 32.9,99.0 30.5,100.5 C28.1,102.0 25.9,105.0 23.7,104.8 C21.4,104.6 19.3,101.4 17.0,99.5 C14.7,97.6 11.9,95.4 10.0,93.5 C8.1,91.6 6.3,90.2 5.5,88.0 C4.7,85.8 4.9,82.6 5.0,80.0Z" fill="url(#g19B)"/>
<path d="M111.4,58.6 C111.7,57.4 112.5,55.8 113.4,55.1 C114.3,54.4 115.8,54.4 116.9,54.6 C118.0,54.9 118.9,55.9 119.9,56.6 C121.0,57.4 122.3,58.3 123.4,59.1 C124.6,60.0 126.1,60.5 127.0,61.6 C127.8,62.7 128.5,64.5 128.5,65.6 C128.4,66.8 127.5,68.2 126.5,68.6 C125.5,69.1 123.8,68.8 122.4,68.4 C121.1,68.1 119.8,67.3 118.4,66.6 C117.1,66.0 115.5,65.4 114.4,64.6 C113.3,63.9 112.4,63.1 111.9,62.1 C111.4,61.1 111.2,59.8 111.4,58.6Z" fill="#3b606d"/>
<path d="M140.5,91.7 C140.8,89.8 141.3,87.5 142.5,85.7 C143.7,83.8 145.7,82.0 147.5,80.7 C149.3,79.4 151.8,78.0 153.5,77.9 C155.3,77.7 157.2,78.4 158.0,79.7 C158.9,81.0 158.8,83.5 158.5,85.7 C158.3,87.8 157.4,90.7 156.5,92.7 C155.6,94.7 154.5,96.3 153.0,97.7 C151.5,99.1 149.2,100.7 147.5,101.2 C145.8,101.7 144.1,101.5 143.0,100.7 C141.9,99.9 141.1,98.2 140.7,96.7 C140.3,95.2 140.2,93.5 140.5,91.7Z" fill="#3d6b76"/>
<path d="M112.6,118.7 C112.9,117.1 113.7,114.9 114.4,113.7 C115.1,112.6 116.2,111.6 116.9,111.7 C117.7,111.8 118.1,113.9 118.9,114.2 C119.8,114.6 120.9,113.6 121.9,113.7 C123.0,113.8 124.7,113.7 125.5,114.7 C126.2,115.7 126.5,118.1 126.5,119.7 C126.5,121.4 126.2,123.2 125.5,124.7 C124.7,126.3 123.0,127.8 121.9,128.8 C120.9,129.7 120.1,130.7 118.9,130.6 C117.8,130.4 116.0,128.9 114.9,127.8 C113.9,126.6 113.0,125.3 112.6,123.7 C112.2,122.2 112.3,120.4 112.6,118.7Z" fill="#395867"/>
<path d="M145.7,111.7 C145.9,110.4 146.3,109.1 147.0,108.2 C147.7,107.3 148.9,106.7 150.0,106.5 C151.1,106.3 152.5,106.5 153.5,107.2 C154.5,107.9 155.7,109.6 156.0,110.7 C156.3,111.9 156.1,113.4 155.5,114.2 C154.9,115.1 153.6,115.6 152.5,115.7 C151.4,115.9 149.9,115.0 149.0,115.2 C148.1,115.5 147.6,117.1 147.0,117.2 C146.4,117.4 145.7,117.2 145.5,116.2 C145.3,115.3 145.4,113.1 145.7,111.7Z" fill="#8fd68b"/>
<path d="M77.4,103.7 C78.9,103.2 85.1,102.7 86.4,103.7 C87.7,104.7 85.6,107.9 85.2,109.7 C84.8,111.6 84.3,113.1 83.9,114.7 C83.5,116.4 83.1,117.9 82.9,119.7 C82.6,121.6 83.8,124.7 82.6,125.8 C81.4,126.8 76.7,126.9 75.7,125.8 C74.6,124.6 75.9,120.9 76.1,118.7 C76.3,116.6 76.7,114.7 76.9,112.7 C77.0,110.7 76.8,108.2 76.9,106.7 C76.9,105.2 75.8,104.2 77.4,103.7Z" fill="#395867"/>
<path d="M73.3,122.9 C74.9,122.2 76.1,121.8 77.4,122.2 C78.7,122.7 80.5,124.3 81.2,125.8 C81.9,127.2 81.6,128.9 81.6,130.8 C81.5,132.6 81.5,134.8 81.0,136.8 C80.5,138.8 79.6,141.2 78.6,142.8 C77.5,144.3 76.1,145.5 74.5,146.0 C73.0,146.4 71.0,145.8 69.3,145.5 C67.6,145.2 65.7,144.9 64.3,144.0 C63.0,143.1 61.9,141.5 61.3,140.0 C60.7,138.5 60.3,136.6 60.6,135.0 C60.9,133.3 61.9,131.4 63.1,130.0 C64.4,128.5 66.4,127.6 68.1,126.5 C69.8,125.3 71.8,123.6 73.3,122.9Z" fill="#395867"/>
<path d="M69.3,84.7 C70.1,84.3 73.1,85.2 73.8,84.2 C74.6,83.2 73.7,80.3 73.8,78.7 C74.0,77.0 74.1,75.3 74.8,74.1 C75.6,73.0 76.9,72.1 78.4,71.6 C79.8,71.1 81.8,70.9 83.4,71.1 C85.0,71.4 86.7,72.2 87.9,73.1 C89.0,74.1 89.7,75.2 90.4,76.7 C91.0,78.1 91.5,80.0 91.9,81.7 C92.3,83.3 92.8,84.8 92.9,86.7 C93.0,88.5 92.7,91.0 92.4,92.7 C92.1,94.4 91.5,95.4 90.9,96.7 C90.2,98.0 89.2,99.4 88.4,100.7 C87.5,102.0 86.7,103.8 85.9,104.7 C85.0,105.6 84.6,106.0 83.4,106.2 C82.1,106.5 79.5,106.8 78.4,106.2 C77.2,105.6 76.9,103.8 76.4,102.7 C75.8,101.6 75.3,100.7 74.8,99.7 C74.4,98.7 74.0,98.8 73.8,96.7 C73.7,94.6 74.6,88.9 73.8,87.2 C73.1,85.5 70.1,86.8 69.3,86.4 C68.6,86.0 68.6,85.0 69.3,84.7Z" fill="#395867"/>
<path d="M90.4,83.7 C91.0,81.6 93.1,83.1 94.4,83.2 C95.7,83.2 97.1,83.5 98.4,83.9 C99.6,84.2 100.9,84.6 101.9,85.2 C102.9,85.7 103.5,86.7 104.4,87.2 C105.3,87.7 106.2,88.1 107.4,88.2 C108.6,88.3 110.3,87.4 111.4,87.7 C112.6,87.9 113.8,88.9 114.4,89.7 C115.0,90.4 115.5,91.5 115.1,92.2 C114.8,92.9 113.5,93.7 112.4,93.9 C111.3,94.1 109.8,93.3 108.4,93.4 C107.1,93.5 105.6,93.9 104.4,94.4 C103.2,94.9 102.6,96.1 101.4,96.4 C100.2,96.6 98.7,96.0 97.4,95.9 C96.1,95.8 94.6,95.7 93.4,95.7 C92.2,95.7 90.9,97.7 90.4,95.7 C89.9,93.7 89.7,85.8 90.4,83.7Z" fill="#3b606d"/>
</g>
<rect x="0" y="0" width="164" height="150.8" fill="none" stroke="#505050" stroke-width="1.4"/>
</g>
<text x="476.2" y="1430.5" font-size="23" text-anchor="middle" fill="#111">CD49b</text>
<g transform="translate(394.2,1444.8)">
<g filter="url(#spk)">
<path d="M71.8,16.5 C71.8,15.1 72.1,13.0 72.8,11.5 C73.6,10.0 75.0,8.5 76.4,7.5 C77.7,6.5 79.4,5.7 80.9,5.5 C82.4,5.3 84.3,5.8 85.4,6.5 C86.5,7.2 87.0,8.4 87.4,9.5 C87.8,10.6 87.5,11.9 87.9,13.0 C88.2,14.2 89.4,15.4 89.4,16.5 C89.4,17.7 89.0,19.3 87.9,20.0 C86.7,20.8 84.1,20.8 82.4,21.0 C80.6,21.3 78.9,21.7 77.4,21.5 C75.9,21.4 74.3,20.9 73.3,20.0 C72.4,19.2 71.9,18.0 71.8,16.5Z" fill="#40767c"/>
<path d="M5.0,80.0 C5.1,77.4 5.2,74.7 6.0,72.5 C6.8,70.3 8.2,68.5 10.0,67.0 C11.8,65.5 14.8,64.3 17.0,63.8 C19.2,63.3 21.4,63.8 23.0,64.0 C24.6,64.2 25.2,64.9 26.3,64.9 C27.4,64.9 28.1,64.1 29.5,63.9 C30.9,63.7 33.1,63.0 35.0,63.6 C36.9,64.2 39.2,65.8 41.0,67.5 C42.8,69.2 44.6,71.6 45.5,74.0 C46.4,76.4 46.7,79.4 46.5,82.0 C46.3,84.6 45.9,87.2 44.5,89.5 C43.1,91.8 40.3,93.7 38.0,95.5 C35.7,97.3 32.9,99.0 30.5,100.5 C28.1,102.0 25.9,105.0 23.7,104.8 C21.4,104.6 19.3,101.4 17.0,99.5 C14.7,97.6 11.9,95.4 10.0,93.5 C8.1,91.6 6.3,90.2 5.5,88.0 C4.7,85.8 4.9,82.6 5.0,80.0Z" fill="#375060"/>
<path d="M111.4,58.6 C111.7,57.4 112.5,55.8 113.4,55.1 C114.3,54.4 115.8,54.4 116.9,54.6 C118.0,54.9 118.9,55.9 119.9,56.6 C121.0,57.4 122.3,58.3 123.4,59.1 C124.6,60.0 126.1,60.5 127.0,61.6 C127.8,62.7 128.5,64.5 128.5,65.6 C128.4,66.8 127.5,68.2 126.5,68.6 C125.5,69.1 123.8,68.8 122.4,68.4 C121.1,68.1 119.8,67.3 118.4,66.6 C117.1,66.0 115.5,65.4 114.4,64.6 C113.3,63.9 112.4,63.1 111.9,62.1 C111.4,61.1 111.2,59.8 111.4,58.6Z" fill="#6fc486"/>
<path d="M140.5,91.7 C140.8,89.8 141.3,87.5 142.5,85.7 C143.7,83.8 145.7,82.0 147.5,80.7 C149.3,79.4 151.8,78.0 153.5,77.9 C155.3,77.7 157.2,78.4 158.0,79.7 C158.9,81.0 158.8,83.5 158.5,85.7 C158.3,87.8 157.4,90.7 156.5,92.7 C155.6,94.7 154.5,96.3 153.0,97.7 C151.5,99.1 149.2,100.7 147.5,101.2 C145.8,101.7 144.1,101.5 143.0,100.7 C141.9,99.9 141.1,98.2 140.7,96.7 C140.3,95.2 140.2,93.5 140.5,91.7Z" fill="#5fba85"/>
<path d="M112.6,118.7 C112.9,117.1 113.7,114.9 114.4,113.7 C115.1,112.6 116.2,111.6 116.9,111.7 C117.7,111.8 118.1,113.9 118.9,114.2 C119.8,114.6 120.9,113.6 121.9,113.7 C123.0,113.8 124.7,113.7 125.5,114.7 C126.2,115.7 126.5,118.1 126.5,119.7 C126.5,121.4 126.2,123.2 125.5,124.7 C124.7,126.3 123.0,127.8 121.9,128.8 C120.9,129.7 120.1,130.7 118.9,130.6 C117.8,130.4 116.0,128.9 114.9,127.8 C113.9,126.6 113.0,125.3 112.6,123.7 C112.2,122.2 112.3,120.4 112.6,118.7Z" fill="#56ab84"/>
<path d="M145.7,111.7 C145.9,110.4 146.3,109.1 147.0,108.2 C147.7,107.3 148.9,106.7 150.0,106.5 C151.1,106.3 152.5,106.5 153.5,107.2 C154.5,107.9 155.7,109.6 156.0,110.7 C156.3,111.9 156.1,113.4 155.5,114.2 C154.9,115.1 153.6,115.6 152.5,115.7 C151.4,115.9 149.9,115.0 149.0,115.2 C148.1,115.5 147.6,117.1 147.0,117.2 C146.4,117.4 145.7,117.2 145.5,116.2 C145.3,115.3 145.4,113.1 145.7,111.7Z" fill="#427e80"/>
<path d="M77.4,103.7 C78.9,103.2 85.1,102.7 86.4,103.7 C87.7,104.7 85.6,107.9 85.2,109.7 C84.8,111.6 84.3,113.1 83.9,114.7 C83.5,116.4 83.1,117.9 82.9,119.7 C82.6,121.6 83.8,124.7 82.6,125.8 C81.4,126.8 76.7,126.9 75.7,125.8 C74.6,124.6 75.9,120.9 76.1,118.7 C76.3,116.6 76.7,114.7 76.9,112.7 C77.0,110.7 76.8,108.2 76.9,106.7 C76.9,105.2 75.8,104.2 77.4,103.7Z" fill="#478d82"/>
<path d="M73.3,122.9 C74.9,122.2 76.1,121.8 77.4,122.2 C78.7,122.7 80.5,124.3 81.2,125.8 C81.9,127.2 81.6,128.9 81.6,130.8 C81.5,132.6 81.5,134.8 81.0,136.8 C80.5,138.8 79.6,141.2 78.6,142.8 C77.5,144.3 76.1,145.5 74.5,146.0 C73.0,146.4 71.0,145.8 69.3,145.5 C67.6,145.2 65.7,144.9 64.3,144.0 C63.0,143.1 61.9,141.5 61.3,140.0 C60.7,138.5 60.3,136.6 60.6,135.0 C60.9,133.3 61.9,131.4 63.1,130.0 C64.4,128.5 66.4,127.6 68.1,126.5 C69.8,125.3 71.8,123.6 73.3,122.9Z" fill="#4c9c83"/>
<path d="M69.3,84.7 C70.1,84.3 73.1,85.2 73.8,84.2 C74.6,83.2 73.7,80.3 73.8,78.7 C74.0,77.0 74.1,75.3 74.8,74.1 C75.6,73.0 76.9,72.1 78.4,71.6 C79.8,71.1 81.8,70.9 83.4,71.1 C85.0,71.4 86.7,72.2 87.9,73.1 C89.0,74.1 89.7,75.2 90.4,76.7 C91.0,78.1 91.5,80.0 91.9,81.7 C92.3,83.3 92.8,84.8 92.9,86.7 C93.0,88.5 92.7,91.0 92.4,92.7 C92.1,94.4 91.5,95.4 90.9,96.7 C90.2,98.0 89.2,99.4 88.4,100.7 C87.5,102.0 86.7,103.8 85.9,104.7 C85.0,105.6 84.6,106.0 83.4,106.2 C82.1,106.5 79.5,106.8 78.4,106.2 C77.2,105.6 76.9,103.8 76.4,102.7 C75.8,101.6 75.3,100.7 74.8,99.7 C74.4,98.7 74.0,98.8 73.8,96.7 C73.7,94.6 74.6,88.9 73.8,87.2 C73.1,85.5 70.1,86.8 69.3,86.4 C68.6,86.0 68.6,85.0 69.3,84.7Z" fill="#478d82"/>
<path d="M90.4,83.7 C91.0,81.6 93.1,83.1 94.4,83.2 C95.7,83.2 97.1,83.5 98.4,83.9 C99.6,84.2 100.9,84.6 101.9,85.2 C102.9,85.7 103.5,86.7 104.4,87.2 C105.3,87.7 106.2,88.1 107.4,88.2 C108.6,88.3 110.3,87.4 111.4,87.7 C112.6,87.9 113.8,88.9 114.4,89.7 C115.0,90.4 115.5,91.5 115.1,92.2 C114.8,92.9 113.5,93.7 112.4,93.9 C111.3,94.1 109.8,93.3 108.4,93.4 C107.1,93.5 105.6,93.9 104.4,94.4 C103.2,94.9 102.6,96.1 101.4,96.4 C100.2,96.6 98.7,96.0 97.4,95.9 C96.1,95.8 94.6,95.7 93.4,95.7 C92.2,95.7 90.9,97.7 90.4,95.7 C89.9,93.7 89.7,85.8 90.4,83.7Z" fill="#427e80"/>
</g>
<rect x="0" y="0" width="164" height="150.8" fill="none" stroke="#505050" stroke-width="1.4"/>
</g>
<text x="655.5" y="1430.5" font-size="23" text-anchor="middle" fill="#111">CD8</text>
<g transform="translate(573.5,1444.8)">
<g filter="url(#spk)">
<path d="M71.8,16.5 C71.8,15.1 72.1,13.0 72.8,11.5 C73.6,10.0 75.0,8.5 76.4,7.5 C77.7,6.5 79.4,5.7 80.9,5.5 C82.4,5.3 84.3,5.8 85.4,6.5 C86.5,7.2 87.0,8.4 87.4,9.5 C87.8,10.6 87.5,11.9 87.9,13.0 C88.2,14.2 89.4,15.4 89.4,16.5 C89.4,17.7 89.0,19.3 87.9,20.0 C86.7,20.8 84.1,20.8 82.4,21.0 C80.6,21.3 78.9,21.7 77.4,21.5 C75.9,21.4 74.3,20.9 73.3,20.0 C72.4,19.2 71.9,18.0 71.8,16.5Z" fill="#427e80"/>
<path d="M5.0,80.0 C5.1,77.4 5.2,74.7 6.0,72.5 C6.8,70.3 8.2,68.5 10.0,67.0 C11.8,65.5 14.8,64.3 17.0,63.8 C19.2,63.3 21.4,63.8 23.0,64.0 C24.6,64.2 25.2,64.9 26.3,64.9 C27.4,64.9 28.1,64.1 29.5,63.9 C30.9,63.7 33.1,63.0 35.0,63.6 C36.9,64.2 39.2,65.8 41.0,67.5 C42.8,69.2 44.6,71.6 45.5,74.0 C46.4,76.4 46.7,79.4 46.5,82.0 C46.3,84.6 45.9,87.2 44.5,89.5 C43.1,91.8 40.3,93.7 38.0,95.5 C35.7,97.3 32.9,99.0 30.5,100.5 C28.1,102.0 25.9,105.0 23.7,104.8 C21.4,104.6 19.3,101.4 17.0,99.5 C14.7,97.6 11.9,95.4 10.0,93.5 C8.1,91.6 6.3,90.2 5.5,88.0 C4.7,85.8 4.9,82.6 5.0,80.0Z" fill="#427e80"/>
<path d="M111.4,58.6 C111.7,57.4 112.5,55.8 113.4,55.1 C114.3,54.4 115.8,54.4 116.9,54.6 C118.0,54.9 118.9,55.9 119.9,56.6 C121.0,57.4 122.3,58.3 123.4,59.1 C124.6,60.0 126.1,60.5 127.0,61.6 C127.8,62.7 128.5,64.5 128.5,65.6 C128.4,66.8 127.5,68.2 126.5,68.6 C125.5,69.1 123.8,68.8 122.4,68.4 C121.1,68.1 119.8,67.3 118.4,66.6 C117.1,66.0 115.5,65.4 114.4,64.6 C113.3,63.9 112.4,63.1 111.9,62.1 C111.4,61.1 111.2,59.8 111.4,58.6Z" fill="#3d6b76"/>
<path d="M140.5,91.7 C140.8,89.8 141.3,87.5 142.5,85.7 C143.7,83.8 145.7,82.0 147.5,80.7 C149.3,79.4 151.8,78.0 153.5,77.9 C155.3,77.7 157.2,78.4 158.0,79.7 C158.9,81.0 158.8,83.5 158.5,85.7 C158.3,87.8 157.4,90.7 156.5,92.7 C155.6,94.7 154.5,96.3 153.0,97.7 C151.5,99.1 149.2,100.7 147.5,101.2 C145.8,101.7 144.1,101.5 143.0,100.7 C141.9,99.9 141.1,98.2 140.7,96.7 C140.3,95.2 140.2,93.5 140.5,91.7Z" fill="#3d6b76"/>
<path d="M112.6,118.7 C112.9,117.1 113.7,114.9 114.4,113.7 C115.1,112.6 116.2,111.6 116.9,111.7 C117.7,111.8 118.1,113.9 118.9,114.2 C119.8,114.6 120.9,113.6 121.9,113.7 C123.0,113.8 124.7,113.7 125.5,114.7 C126.2,115.7 126.5,118.1 126.5,119.7 C126.5,121.4 126.2,123.2 125.5,124.7 C124.7,126.3 123.0,127.8 121.9,128.8 C120.9,129.7 120.1,130.7 118.9,130.6 C117.8,130.4 116.0,128.9 114.9,127.8 C113.9,126.6 113.0,125.3 112.6,123.7 C112.2,122.2 112.3,120.4 112.6,118.7Z" fill="#bde698"/>
<path d="M145.7,111.7 C145.9,110.4 146.3,109.1 147.0,108.2 C147.7,107.3 148.9,106.7 150.0,106.5 C151.1,106.3 152.5,106.5 153.5,107.2 C154.5,107.9 155.7,109.6 156.0,110.7 C156.3,111.9 156.1,113.4 155.5,114.2 C154.9,115.1 153.6,115.6 152.5,115.7 C151.4,115.9 149.9,115.0 149.0,115.2 C148.1,115.5 147.6,117.1 147.0,117.2 C146.4,117.4 145.7,117.2 145.5,116.2 C145.3,115.3 145.4,113.1 145.7,111.7Z" fill="#427e80"/>
<path d="M77.4,103.7 C78.9,103.2 85.1,102.7 86.4,103.7 C87.7,104.7 85.6,107.9 85.2,109.7 C84.8,111.6 84.3,113.1 83.9,114.7 C83.5,116.4 83.1,117.9 82.9,119.7 C82.6,121.6 83.8,124.7 82.6,125.8 C81.4,126.8 76.7,126.9 75.7,125.8 C74.6,124.6 75.9,120.9 76.1,118.7 C76.3,116.6 76.7,114.7 76.9,112.7 C77.0,110.7 76.8,108.2 76.9,106.7 C76.9,105.2 75.8,104.2 77.4,103.7Z" fill="#3d6b76"/>
<path d="M73.3,122.9 C74.9,122.2 76.1,121.8 77.4,122.2 C78.7,122.7 80.5,124.3 81.2,125.8 C81.9,127.2 81.6,128.9 81.6,130.8 C81.5,132.6 81.5,134.8 81.0,136.8 C80.5,138.8 79.6,141.2 78.6,142.8 C77.5,144.3 76.1,145.5 74.5,146.0 C73.0,146.4 71.0,145.8 69.3,145.5 C67.6,145.2 65.7,144.9 64.3,144.0 C63.0,143.1 61.9,141.5 61.3,140.0 C60.7,138.5 60.3,136.6 60.6,135.0 C60.9,133.3 61.9,131.4 63.1,130.0 C64.4,128.5 66.4,127.6 68.1,126.5 C69.8,125.3 71.8,123.6 73.3,122.9Z" fill="#3d6b76"/>
<path d="M69.3,84.7 C70.1,84.3 73.1,85.2 73.8,84.2 C74.6,83.2 73.7,80.3 73.8,78.7 C74.0,77.0 74.1,75.3 74.8,74.1 C75.6,73.0 76.9,72.1 78.4,71.6 C79.8,71.1 81.8,70.9 83.4,71.1 C85.0,71.4 86.7,72.2 87.9,73.1 C89.0,74.1 89.7,75.2 90.4,76.7 C91.0,78.1 91.5,80.0 91.9,81.7 C92.3,83.3 92.8,84.8 92.9,86.7 C93.0,88.5 92.7,91.0 92.4,92.7 C92.1,94.4 91.5,95.4 90.9,96.7 C90.2,98.0 89.2,99.4 88.4,100.7 C87.5,102.0 86.7,103.8 85.9,104.7 C85.0,105.6 84.6,106.0 83.4,106.2 C82.1,106.5 79.5,106.8 78.4,106.2 C77.2,105.6 76.9,103.8 76.4,102.7 C75.8,101.6 75.3,100.7 74.8,99.7 C74.4,98.7 74.0,98.8 73.8,96.7 C73.7,94.6 74.6,88.9 73.8,87.2 C73.1,85.5 70.1,86.8 69.3,86.4 C68.6,86.0 68.6,85.0 69.3,84.7Z" fill="#3d6b76"/>
<path d="M90.4,83.7 C91.0,81.6 93.1,83.1 94.4,83.2 C95.7,83.2 97.1,83.5 98.4,83.9 C99.6,84.2 100.9,84.6 101.9,85.2 C102.9,85.7 103.5,86.7 104.4,87.2 C105.3,87.7 106.2,88.1 107.4,88.2 C108.6,88.3 110.3,87.4 111.4,87.7 C112.6,87.9 113.8,88.9 114.4,89.7 C115.0,90.4 115.5,91.5 115.1,92.2 C114.8,92.9 113.5,93.7 112.4,93.9 C111.3,94.1 109.8,93.3 108.4,93.4 C107.1,93.5 105.6,93.9 104.4,94.4 C103.2,94.9 102.6,96.1 101.4,96.4 C100.2,96.6 98.7,96.0 97.4,95.9 C96.1,95.8 94.6,95.7 93.4,95.7 C92.2,95.7 90.9,97.7 90.4,95.7 C89.9,93.7 89.7,85.8 90.4,83.7Z" fill="#427e80"/>
</g>
<rect x="0" y="0" width="164" height="150.8" fill="none" stroke="#505050" stroke-width="1.4"/>
</g>
<text x="834.8" y="1430.5" font-size="23" text-anchor="middle" fill="#111">CD14</text>
<g transform="translate(752.8,1444.8)">
<g filter="url(#spk)">
<path d="M71.8,16.5 C71.8,15.1 72.1,13.0 72.8,11.5 C73.6,10.0 75.0,8.5 76.4,7.5 C77.7,6.5 79.4,5.7 80.9,5.5 C82.4,5.3 84.3,5.8 85.4,6.5 C86.5,7.2 87.0,8.4 87.4,9.5 C87.8,10.6 87.5,11.9 87.9,13.0 C88.2,14.2 89.4,15.4 89.4,16.5 C89.4,17.7 89.0,19.3 87.9,20.0 C86.7,20.8 84.1,20.8 82.4,21.0 C80.6,21.3 78.9,21.7 77.4,21.5 C75.9,21.4 74.3,20.9 73.3,20.0 C72.4,19.2 71.9,18.0 71.8,16.5Z" fill="#3b606d"/>
<path d="M5.0,80.0 C5.1,77.4 5.2,74.7 6.0,72.5 C6.8,70.3 8.2,68.5 10.0,67.0 C11.8,65.5 14.8,64.3 17.0,63.8 C19.2,63.3 21.4,63.8 23.0,64.0 C24.6,64.2 25.2,64.9 26.3,64.9 C27.4,64.9 28.1,64.1 29.5,63.9 C30.9,63.7 33.1,63.0 35.0,63.6 C36.9,64.2 39.2,65.8 41.0,67.5 C42.8,69.2 44.6,71.6 45.5,74.0 C46.4,76.4 46.7,79.4 46.5,82.0 C46.3,84.6 45.9,87.2 44.5,89.5 C43.1,91.8 40.3,93.7 38.0,95.5 C35.7,97.3 32.9,99.0 30.5,100.5 C28.1,102.0 25.9,105.0 23.7,104.8 C21.4,104.6 19.3,101.4 17.0,99.5 C14.7,97.6 11.9,95.4 10.0,93.5 C8.1,91.6 6.3,90.2 5.5,88.0 C4.7,85.8 4.9,82.6 5.0,80.0Z" fill="url(#g22B)"/>
<path d="M111.4,58.6 C111.7,57.4 112.5,55.8 113.4,55.1 C114.3,54.4 115.8,54.4 116.9,54.6 C118.0,54.9 118.9,55.9 119.9,56.6 C121.0,57.4 122.3,58.3 123.4,59.1 C124.6,60.0 126.1,60.5 127.0,61.6 C127.8,62.7 128.5,64.5 128.5,65.6 C128.4,66.8 127.5,68.2 126.5,68.6 C125.5,69.1 123.8,68.8 122.4,68.4 C121.1,68.1 119.8,67.3 118.4,66.6 C117.1,66.0 115.5,65.4 114.4,64.6 C113.3,63.9 112.4,63.1 111.9,62.1 C111.4,61.1 111.2,59.8 111.4,58.6Z" fill="#3b606d"/>
<path d="M140.5,91.7 C140.8,89.8 141.3,87.5 142.5,85.7 C143.7,83.8 145.7,82.0 147.5,80.7 C149.3,79.4 151.8,78.0 153.5,77.9 C155.3,77.7 157.2,78.4 158.0,79.7 C158.9,81.0 158.8,83.5 158.5,85.7 C158.3,87.8 157.4,90.7 156.5,92.7 C155.6,94.7 154.5,96.3 153.0,97.7 C151.5,99.1 149.2,100.7 147.5,101.2 C145.8,101.7 144.1,101.5 143.0,100.7 C141.9,99.9 141.1,98.2 140.7,96.7 C140.3,95.2 140.2,93.5 140.5,91.7Z" fill="#3d6b76"/>
<path d="M112.6,118.7 C112.9,117.1 113.7,114.9 114.4,113.7 C115.1,112.6 116.2,111.6 116.9,111.7 C117.7,111.8 118.1,113.9 118.9,114.2 C119.8,114.6 120.9,113.6 121.9,113.7 C123.0,113.8 124.7,113.7 125.5,114.7 C126.2,115.7 126.5,118.1 126.5,119.7 C126.5,121.4 126.2,123.2 125.5,124.7 C124.7,126.3 123.0,127.8 121.9,128.8 C120.9,129.7 120.1,130.7 118.9,130.6 C117.8,130.4 116.0,128.9 114.9,127.8 C113.9,126.6 113.0,125.3 112.6,123.7 C112.2,122.2 112.3,120.4 112.6,118.7Z" fill="#3d6b76"/>
<path d="M145.7,111.7 C145.9,110.4 146.3,109.1 147.0,108.2 C147.7,107.3 148.9,106.7 150.0,106.5 C151.1,106.3 152.5,106.5 153.5,107.2 C154.5,107.9 155.7,109.6 156.0,110.7 C156.3,111.9 156.1,113.4 155.5,114.2 C154.9,115.1 153.6,115.6 152.5,115.7 C151.4,115.9 149.9,115.0 149.0,115.2 C148.1,115.5 147.6,117.1 147.0,117.2 C146.4,117.4 145.7,117.2 145.5,116.2 C145.3,115.3 145.4,113.1 145.7,111.7Z" fill="#3d6b76"/>
<path d="M77.4,103.7 C78.9,103.2 85.1,102.7 86.4,103.7 C87.7,104.7 85.6,107.9 85.2,109.7 C84.8,111.6 84.3,113.1 83.9,114.7 C83.5,116.4 83.1,117.9 82.9,119.7 C82.6,121.6 83.8,124.7 82.6,125.8 C81.4,126.8 76.7,126.9 75.7,125.8 C74.6,124.6 75.9,120.9 76.1,118.7 C76.3,116.6 76.7,114.7 76.9,112.7 C77.0,110.7 76.8,108.2 76.9,106.7 C76.9,105.2 75.8,104.2 77.4,103.7Z" fill="#478d82"/>
<path d="M73.3,122.9 C74.9,122.2 76.1,121.8 77.4,122.2 C78.7,122.7 80.5,124.3 81.2,125.8 C81.9,127.2 81.6,128.9 81.6,130.8 C81.5,132.6 81.5,134.8 81.0,136.8 C80.5,138.8 79.6,141.2 78.6,142.8 C77.5,144.3 76.1,145.5 74.5,146.0 C73.0,146.4 71.0,145.8 69.3,145.5 C67.6,145.2 65.7,144.9 64.3,144.0 C63.0,143.1 61.9,141.5 61.3,140.0 C60.7,138.5 60.3,136.6 60.6,135.0 C60.9,133.3 61.9,131.4 63.1,130.0 C64.4,128.5 66.4,127.6 68.1,126.5 C69.8,125.3 71.8,123.6 73.3,122.9Z" fill="#56ab84"/>
<path d="M69.3,84.7 C70.1,84.3 73.1,85.2 73.8,84.2 C74.6,83.2 73.7,80.3 73.8,78.7 C74.0,77.0 74.1,75.3 74.8,74.1 C75.6,73.0 76.9,72.1 78.4,71.6 C79.8,71.1 81.8,70.9 83.4,71.1 C85.0,71.4 86.7,72.2 87.9,73.1 C89.0,74.1 89.7,75.2 90.4,76.7 C91.0,78.1 91.5,80.0 91.9,81.7 C92.3,83.3 92.8,84.8 92.9,86.7 C93.0,88.5 92.7,91.0 92.4,92.7 C92.1,94.4 91.5,95.4 90.9,96.7 C90.2,98.0 89.2,99.4 88.4,100.7 C87.5,102.0 86.7,103.8 85.9,104.7 C85.0,105.6 84.6,106.0 83.4,106.2 C82.1,106.5 79.5,106.8 78.4,106.2 C77.2,105.6 76.9,103.8 76.4,102.7 C75.8,101.6 75.3,100.7 74.8,99.7 C74.4,98.7 74.0,98.8 73.8,96.7 C73.7,94.6 74.6,88.9 73.8,87.2 C73.1,85.5 70.1,86.8 69.3,86.4 C68.6,86.0 68.6,85.0 69.3,84.7Z" fill="#6fc486"/>
<path d="M90.4,83.7 C91.0,81.6 93.1,83.1 94.4,83.2 C95.7,83.2 97.1,83.5 98.4,83.9 C99.6,84.2 100.9,84.6 101.9,85.2 C102.9,85.7 103.5,86.7 104.4,87.2 C105.3,87.7 106.2,88.1 107.4,88.2 C108.6,88.3 110.3,87.4 111.4,87.7 C112.6,87.9 113.8,88.9 114.4,89.7 C115.0,90.4 115.5,91.5 115.1,92.2 C114.8,92.9 113.5,93.7 112.4,93.9 C111.3,94.1 109.8,93.3 108.4,93.4 C107.1,93.5 105.6,93.9 104.4,94.4 C103.2,94.9 102.6,96.1 101.4,96.4 C100.2,96.6 98.7,96.0 97.4,95.9 C96.1,95.8 94.6,95.7 93.4,95.7 C92.2,95.7 90.9,97.7 90.4,95.7 C89.9,93.7 89.7,85.8 90.4,83.7Z" fill="#427e80"/>
</g>
<rect x="0" y="0" width="164" height="150.8" fill="none" stroke="#505050" stroke-width="1.4"/>
</g>
<rect x="1140.4" y="1118.7" width="41.4" height="205" fill="url(#cbar)"/>
<line x1="1140.4" y1="1124" x2="1149" y2="1124" stroke="#fff" stroke-width="1.2" opacity="0.8"/>
<line x1="1173" y1="1124" x2="1181.8" y2="1124" stroke="#fff" stroke-width="1.2" opacity="0.8"/>
<text x="1197" y="1132.3" font-size="22.5" fill="#111">1.00</text>
<line x1="1140.4" y1="1173.5" x2="1149" y2="1173.5" stroke="#fff" stroke-width="1.2" opacity="0.8"/>
<line x1="1173" y1="1173.5" x2="1181.8" y2="1173.5" stroke="#fff" stroke-width="1.2" opacity="0.8"/>
<text x="1197" y="1181.8" font-size="22.5" fill="#111">0.75</text>
<line x1="1140.4" y1="1222.8" x2="1149" y2="1222.8" stroke="#fff" stroke-width="1.2" opacity="0.8"/>
<line x1="1173" y1="1222.8" x2="1181.8" y2="1222.8" stroke="#fff" stroke-width="1.2" opacity="0.8"/>
<text x="1197" y="1231.1" font-size="22.5" fill="#111">0.50</text>
<line x1="1140.4" y1="1272.9" x2="1149" y2="1272.9" stroke="#fff" stroke-width="1.2" opacity="0.8"/>
<line x1="1173" y1="1272.9" x2="1181.8" y2="1272.9" stroke="#fff" stroke-width="1.2" opacity="0.8"/>
<text x="1197" y="1281.2" font-size="22.5" fill="#111">0.25</text>
<line x1="1140.4" y1="1322.3" x2="1149" y2="1322.3" stroke="#fff" stroke-width="1.2" opacity="0.8"/>
<line x1="1173" y1="1322.3" x2="1181.8" y2="1322.3" stroke="#fff" stroke-width="1.2" opacity="0.8"/>
<text x="1197" y="1330.6" font-size="22.5" fill="#111">0.00</text>
<text x="1140" y="1100.8" font-size="29.5" fill="#111">value</text>
</g>
</svg></body></html>
